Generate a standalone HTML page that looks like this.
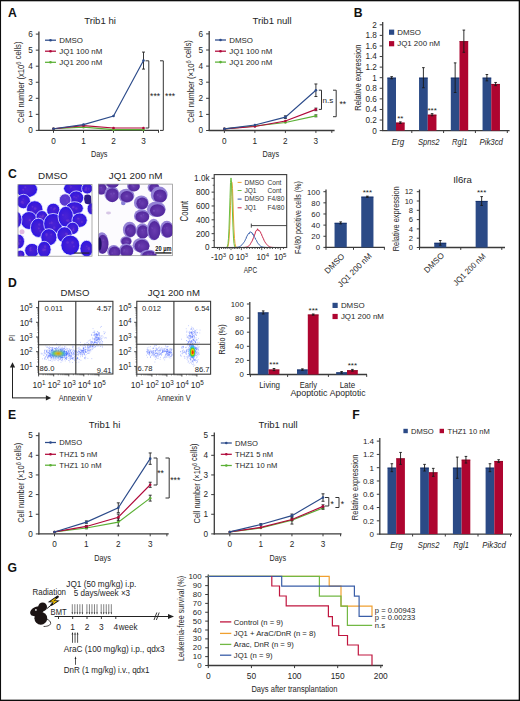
<!DOCTYPE html><html><head><meta charset="utf-8"><style>html,body{margin:0;padding:0;background:#fff;}body{width:520px;height:701px;overflow:hidden;font-family:"Liberation Sans",sans-serif;}svg{display:block;}</style></head><body><svg width="520" height="701" viewBox="0 0 520 701" font-family='"Liberation Sans", sans-serif' shape-rendering="geometricPrecision"><rect x="0" y="0" width="520" height="1.3" fill="#0d0d0d" />
<rect x="0" y="0" width="1.05" height="701" fill="#0d0d0d" />
<rect x="518.7" y="0" width="1.3" height="701" fill="#0d0d0d" />
<rect x="0" y="699.65" width="520" height="1.35" fill="#0d0d0d" />
<text x="7.95" y="16.79" font-size="12.2" fill="#111" font-weight="bold" >A</text>
<line x1="38.9" y1="31.5" x2="38.9" y2="130.9" stroke="#3a3a3a" stroke-width="1.3" />
<line x1="38.3" y1="130.4" x2="159" y2="130.4" stroke="#3a3a3a" stroke-width="1.3" />
<line x1="35.8" y1="130.4" x2="38.9" y2="130.4" stroke="#3a3a3a" stroke-width="1" />
<text x="32.7" y="133.05" font-size="8.2" fill="#262626" text-anchor="end" >0</text>
<line x1="35.8" y1="114.35" x2="38.9" y2="114.35" stroke="#3a3a3a" stroke-width="1" />
<text x="32.7" y="117" font-size="8.2" fill="#262626" text-anchor="end" >1</text>
<line x1="35.8" y1="98.3" x2="38.9" y2="98.3" stroke="#3a3a3a" stroke-width="1" />
<text x="32.7" y="100.95" font-size="8.2" fill="#262626" text-anchor="end" >2</text>
<line x1="35.8" y1="82.25" x2="38.9" y2="82.25" stroke="#3a3a3a" stroke-width="1" />
<text x="32.7" y="84.9" font-size="8.2" fill="#262626" text-anchor="end" >3</text>
<line x1="35.8" y1="66.2" x2="38.9" y2="66.2" stroke="#3a3a3a" stroke-width="1" />
<text x="32.7" y="68.85" font-size="8.2" fill="#262626" text-anchor="end" >4</text>
<line x1="35.8" y1="50.15" x2="38.9" y2="50.15" stroke="#3a3a3a" stroke-width="1" />
<text x="32.7" y="52.8" font-size="8.2" fill="#262626" text-anchor="end" >5</text>
<line x1="35.8" y1="34.1" x2="38.9" y2="34.1" stroke="#3a3a3a" stroke-width="1" />
<text x="32.7" y="36.75" font-size="8.2" fill="#262626" text-anchor="end" >6</text>
<line x1="53.5" y1="130.4" x2="53.5" y2="132.8" stroke="#3a3a3a" stroke-width="1" />
<text x="53.5" y="143.75" font-size="8.2" fill="#262626" text-anchor="middle" >0</text>
<line x1="83.5" y1="130.4" x2="83.5" y2="132.8" stroke="#3a3a3a" stroke-width="1" />
<text x="83.5" y="143.75" font-size="8.2" fill="#262626" text-anchor="middle" >1</text>
<line x1="113.5" y1="130.4" x2="113.5" y2="132.8" stroke="#3a3a3a" stroke-width="1" />
<text x="113.5" y="143.75" font-size="8.2" fill="#262626" text-anchor="middle" >2</text>
<line x1="143.5" y1="130.4" x2="143.5" y2="132.8" stroke="#3a3a3a" stroke-width="1" />
<text x="143.5" y="143.75" font-size="8.2" fill="#262626" text-anchor="middle" >3</text>
<line x1="158.5" y1="130.4" x2="158.5" y2="132.8" stroke="#3a3a3a" stroke-width="1" />
<text x="99.2" y="157.13" font-size="9.8" fill="#262626" text-anchor="middle" textLength="16.6" lengthAdjust="spacingAndGlyphs" >Days</text>
<text transform="translate(24 82.2) rotate(-90)" x="0" y="0" font-size="9.8" fill="#262626" text-anchor="middle" textLength="81.4" lengthAdjust="spacingAndGlyphs" >Cell number (x10<tspan dy="-2.9" font-size="0.74em">6</tspan> cells)</text>
<text x="100.1" y="24.46" font-size="9.6" fill="#262626" text-anchor="middle" >Trib1 hi</text>
<polyline points="53.5,128.8 83.5,127.19 113.5,129.6 143.5,129.6" fill="none" stroke="#5bb035" stroke-width="1.15" stroke-linejoin="miter" />
<circle cx="53.5" cy="128.8" r="1.3" fill="#5bb035" />
<circle cx="83.5" cy="127.19" r="1.3" fill="#5bb035" />
<circle cx="113.5" cy="129.6" r="1.3" fill="#5bb035" />
<circle cx="143.5" cy="129.6" r="1.3" fill="#5bb035" />
<polyline points="53.5,128.8 83.5,125.59 113.5,127.99 143.5,127.99" fill="none" stroke="#b0093a" stroke-width="1.15" stroke-linejoin="miter" />
<circle cx="53.5" cy="128.8" r="1.3" fill="#b0093a" />
<circle cx="83.5" cy="125.59" r="1.3" fill="#b0093a" />
<circle cx="113.5" cy="127.99" r="1.3" fill="#b0093a" />
<circle cx="143.5" cy="127.99" r="1.3" fill="#b0093a" />
<line x1="143.5" y1="52.08" x2="143.5" y2="69.09" stroke="#222" stroke-width="0.9" />
<line x1="142" y1="52.08" x2="145" y2="52.08" stroke="#222" stroke-width="0.9" />
<line x1="142" y1="69.09" x2="145" y2="69.09" stroke="#222" stroke-width="0.9" />
<polyline points="53.5,128.8 83.5,124.62 113.5,115.96 143.5,60.58" fill="none" stroke="#2c4b8a" stroke-width="1.15" stroke-linejoin="miter" />
<circle cx="53.5" cy="128.8" r="1.3" fill="#2c4b8a" />
<circle cx="83.5" cy="124.62" r="1.3" fill="#2c4b8a" />
<circle cx="113.5" cy="115.96" r="1.3" fill="#2c4b8a" />
<circle cx="143.5" cy="60.58" r="1.3" fill="#2c4b8a" />
<line x1="45" y1="40.2" x2="56" y2="40.2" stroke="#2c4b8a" stroke-width="1.25" />
<circle cx="50.5" cy="40.2" r="1.3" fill="#2c4b8a" />
<text x="59.3" y="43.04" font-size="7.9" fill="#262626" >DMSO</text>
<line x1="45" y1="51.2" x2="56" y2="51.2" stroke="#b0093a" stroke-width="1.25" />
<circle cx="50.5" cy="51.2" r="1.3" fill="#b0093a" />
<text x="59.3" y="54.04" font-size="7.9" fill="#262626" >JQ1 100 nM</text>
<line x1="45" y1="62.3" x2="56" y2="62.3" stroke="#5bb035" stroke-width="1.25" />
<circle cx="50.5" cy="62.3" r="1.3" fill="#5bb035" />
<text x="59.3" y="65.14" font-size="7.9" fill="#262626" >JQ1 200 nM</text>
<polyline points="145.5,60.8 148.8,60.8 148.8,128 145.5,128" fill="none" stroke="#333" stroke-width="1" stroke-linejoin="miter" />
<polyline points="160,60.8 163.3,60.8 163.3,130.4 160,130.4" fill="none" stroke="#333" stroke-width="1" stroke-linejoin="miter" />
<text x="155.1" y="99.1" font-size="8.6" fill="#222" text-anchor="middle" >***</text>
<text x="170.1" y="99.1" font-size="8.6" fill="#222" text-anchor="middle" >***</text>
<line x1="209.2" y1="31" x2="209.2" y2="131" stroke="#3a3a3a" stroke-width="1.3" />
<line x1="208.6" y1="130.5" x2="334.6" y2="130.5" stroke="#3a3a3a" stroke-width="1.3" />
<line x1="206.1" y1="130.5" x2="209.2" y2="130.5" stroke="#3a3a3a" stroke-width="1" />
<text x="203" y="133.15" font-size="8.2" fill="#262626" text-anchor="end" >0</text>
<line x1="206.1" y1="114.4" x2="209.2" y2="114.4" stroke="#3a3a3a" stroke-width="1" />
<text x="203" y="117.05" font-size="8.2" fill="#262626" text-anchor="end" >1</text>
<line x1="206.1" y1="98.3" x2="209.2" y2="98.3" stroke="#3a3a3a" stroke-width="1" />
<text x="203" y="100.95" font-size="8.2" fill="#262626" text-anchor="end" >2</text>
<line x1="206.1" y1="82.2" x2="209.2" y2="82.2" stroke="#3a3a3a" stroke-width="1" />
<text x="203" y="84.85" font-size="8.2" fill="#262626" text-anchor="end" >3</text>
<line x1="206.1" y1="66.1" x2="209.2" y2="66.1" stroke="#3a3a3a" stroke-width="1" />
<text x="203" y="68.75" font-size="8.2" fill="#262626" text-anchor="end" >4</text>
<line x1="206.1" y1="50" x2="209.2" y2="50" stroke="#3a3a3a" stroke-width="1" />
<text x="203" y="52.65" font-size="8.2" fill="#262626" text-anchor="end" >5</text>
<line x1="206.1" y1="33.9" x2="209.2" y2="33.9" stroke="#3a3a3a" stroke-width="1" />
<text x="203" y="36.55" font-size="8.2" fill="#262626" text-anchor="end" >6</text>
<line x1="224.4" y1="130.5" x2="224.4" y2="132.9" stroke="#3a3a3a" stroke-width="1" />
<text x="224.4" y="143.75" font-size="8.2" fill="#262626" text-anchor="middle" >0</text>
<line x1="254.9" y1="130.5" x2="254.9" y2="132.9" stroke="#3a3a3a" stroke-width="1" />
<text x="254.9" y="143.75" font-size="8.2" fill="#262626" text-anchor="middle" >1</text>
<line x1="285.4" y1="130.5" x2="285.4" y2="132.9" stroke="#3a3a3a" stroke-width="1" />
<text x="285.4" y="143.75" font-size="8.2" fill="#262626" text-anchor="middle" >2</text>
<line x1="315.9" y1="130.5" x2="315.9" y2="132.9" stroke="#3a3a3a" stroke-width="1" />
<text x="315.9" y="143.75" font-size="8.2" fill="#262626" text-anchor="middle" >3</text>
<line x1="331.8" y1="130.5" x2="331.8" y2="132.9" stroke="#3a3a3a" stroke-width="1" />
<text x="270.8" y="157.23" font-size="9.8" fill="#262626" text-anchor="middle" textLength="16.6" lengthAdjust="spacingAndGlyphs" >Days</text>
<text transform="translate(193.8 81.4) rotate(-90)" x="0" y="0" font-size="9.8" fill="#262626" text-anchor="middle" textLength="82.7" lengthAdjust="spacingAndGlyphs" >Cell number (×10<tspan dy="-2.9" font-size="0.74em">6</tspan> cells)</text>
<text x="252.5" y="24.46" font-size="9.6" fill="#262626" >Trib1 null</text>
<line x1="315.9" y1="114.88" x2="315.9" y2="116.81" stroke="#222" stroke-width="0.9" />
<line x1="314.4" y1="114.88" x2="317.4" y2="114.88" stroke="#222" stroke-width="0.9" />
<line x1="314.4" y1="116.81" x2="317.4" y2="116.81" stroke="#222" stroke-width="0.9" />
<polyline points="224.4,128.89 254.9,125.99 285.4,122.45 315.9,115.85" fill="none" stroke="#5bb035" stroke-width="1.15" stroke-linejoin="miter" />
<circle cx="224.4" cy="128.89" r="1.3" fill="#5bb035" />
<circle cx="254.9" cy="125.99" r="1.3" fill="#5bb035" />
<circle cx="285.4" cy="122.45" r="1.3" fill="#5bb035" />
<circle cx="315.9" cy="115.85" r="1.3" fill="#5bb035" />
<line x1="315.9" y1="108.12" x2="315.9" y2="110.7" stroke="#222" stroke-width="0.9" />
<line x1="314.4" y1="108.12" x2="317.4" y2="108.12" stroke="#222" stroke-width="0.9" />
<line x1="314.4" y1="110.7" x2="317.4" y2="110.7" stroke="#222" stroke-width="0.9" />
<polyline points="224.4,128.89 254.9,126.47 285.4,121 315.9,109.41" fill="none" stroke="#b0093a" stroke-width="1.15" stroke-linejoin="miter" />
<circle cx="224.4" cy="128.89" r="1.3" fill="#b0093a" />
<circle cx="254.9" cy="126.47" r="1.3" fill="#b0093a" />
<circle cx="285.4" cy="121" r="1.3" fill="#b0093a" />
<circle cx="315.9" cy="109.41" r="1.3" fill="#b0093a" />
<line x1="315.9" y1="83.97" x2="315.9" y2="96.53" stroke="#222" stroke-width="0.9" />
<line x1="314.4" y1="83.97" x2="317.4" y2="83.97" stroke="#222" stroke-width="0.9" />
<line x1="314.4" y1="96.53" x2="317.4" y2="96.53" stroke="#222" stroke-width="0.9" />
<line x1="285.4" y1="115.85" x2="285.4" y2="118.42" stroke="#222" stroke-width="0.9" />
<line x1="283.9" y1="115.85" x2="286.9" y2="115.85" stroke="#222" stroke-width="0.9" />
<line x1="283.9" y1="118.42" x2="286.9" y2="118.42" stroke="#222" stroke-width="0.9" />
<polyline points="224.4,128.89 254.9,125.03 285.4,117.14 315.9,90.25" fill="none" stroke="#2c4b8a" stroke-width="1.15" stroke-linejoin="miter" />
<circle cx="224.4" cy="128.89" r="1.3" fill="#2c4b8a" />
<circle cx="254.9" cy="125.03" r="1.3" fill="#2c4b8a" />
<circle cx="285.4" cy="117.14" r="1.3" fill="#2c4b8a" />
<circle cx="315.9" cy="90.25" r="1.3" fill="#2c4b8a" />
<line x1="215" y1="40" x2="226" y2="40" stroke="#2c4b8a" stroke-width="1.25" />
<circle cx="220.5" cy="40" r="1.3" fill="#2c4b8a" />
<text x="229.3" y="42.84" font-size="7.9" fill="#262626" >DMSO</text>
<line x1="215" y1="51.2" x2="226" y2="51.2" stroke="#b0093a" stroke-width="1.25" />
<circle cx="220.5" cy="51.2" r="1.3" fill="#b0093a" />
<text x="229.3" y="54.04" font-size="7.9" fill="#262626" >JQ1 100 nM</text>
<line x1="215" y1="62.1" x2="226" y2="62.1" stroke="#5bb035" stroke-width="1.25" />
<circle cx="220.5" cy="62.1" r="1.3" fill="#5bb035" />
<text x="229.3" y="64.94" font-size="7.9" fill="#262626" >JQ1 200 nM</text>
<polyline points="318.8,90.2 321.5,90.2 321.5,109.4 318.8,109.4" fill="none" stroke="#333" stroke-width="1" stroke-linejoin="miter" />
<polyline points="333,90.2 336.2,90.2 336.2,116.7 333,116.7" fill="none" stroke="#333" stroke-width="1" stroke-linejoin="miter" />
<text x="327.8" y="103.08" font-size="8" fill="#262626" text-anchor="middle" >n.s</text>
<text x="342.8" y="106.7" font-size="8.6" fill="#222" text-anchor="middle" >**</text>
<text x="353.75" y="16.79" font-size="12.2" fill="#111" font-weight="bold" >B</text>
<line x1="382.7" y1="22" x2="382.7" y2="131.1" stroke="#3a3a3a" stroke-width="1.3" />
<line x1="382.1" y1="130.6" x2="509.6" y2="130.6" stroke="#3a3a3a" stroke-width="1.3" />
<line x1="379.7" y1="130.6" x2="382.7" y2="130.6" stroke="#3a3a3a" stroke-width="1" />
<text x="376.9" y="133.55" font-size="8.2" fill="#262626" text-anchor="end" >0</text>
<line x1="379.7" y1="120.02" x2="382.7" y2="120.02" stroke="#3a3a3a" stroke-width="1" />
<text x="376.9" y="122.97" font-size="8.2" fill="#262626" text-anchor="end" >0.2</text>
<line x1="379.7" y1="109.44" x2="382.7" y2="109.44" stroke="#3a3a3a" stroke-width="1" />
<text x="376.9" y="112.39" font-size="8.2" fill="#262626" text-anchor="end" >0.4</text>
<line x1="379.7" y1="98.86" x2="382.7" y2="98.86" stroke="#3a3a3a" stroke-width="1" />
<text x="376.9" y="101.81" font-size="8.2" fill="#262626" text-anchor="end" >0.6</text>
<line x1="379.7" y1="88.28" x2="382.7" y2="88.28" stroke="#3a3a3a" stroke-width="1" />
<text x="376.9" y="91.23" font-size="8.2" fill="#262626" text-anchor="end" >0.8</text>
<line x1="379.7" y1="77.7" x2="382.7" y2="77.7" stroke="#3a3a3a" stroke-width="1" />
<text x="376.9" y="80.65" font-size="8.2" fill="#262626" text-anchor="end" >1</text>
<line x1="379.7" y1="67.12" x2="382.7" y2="67.12" stroke="#3a3a3a" stroke-width="1" />
<text x="376.9" y="70.07" font-size="8.2" fill="#262626" text-anchor="end" >1.2</text>
<line x1="379.7" y1="56.54" x2="382.7" y2="56.54" stroke="#3a3a3a" stroke-width="1" />
<text x="376.9" y="59.49" font-size="8.2" fill="#262626" text-anchor="end" >1.4</text>
<line x1="379.7" y1="45.96" x2="382.7" y2="45.96" stroke="#3a3a3a" stroke-width="1" />
<text x="376.9" y="48.91" font-size="8.2" fill="#262626" text-anchor="end" >1.6</text>
<line x1="379.7" y1="35.38" x2="382.7" y2="35.38" stroke="#3a3a3a" stroke-width="1" />
<text x="376.9" y="38.33" font-size="8.2" fill="#262626" text-anchor="end" >1.8</text>
<line x1="379.7" y1="24.8" x2="382.7" y2="24.8" stroke="#3a3a3a" stroke-width="1" />
<text x="376.9" y="27.75" font-size="8.2" fill="#262626" text-anchor="end" >2</text>
<line x1="411.8" y1="130.6" x2="411.8" y2="133" stroke="#3a3a3a" stroke-width="1" />
<line x1="443.6" y1="130.6" x2="443.6" y2="133" stroke="#3a3a3a" stroke-width="1" />
<line x1="475.4" y1="130.6" x2="475.4" y2="133" stroke="#3a3a3a" stroke-width="1" />
<line x1="507.3" y1="130.6" x2="507.3" y2="133" stroke="#3a3a3a" stroke-width="1" />
<rect x="387.3" y="77.7" width="8.7" height="52.9" fill="#2b4a86" />
<line x1="387.3" y1="78.05" x2="396" y2="78.05" stroke="#0c2560" stroke-width="0.7" />
<line x1="391.65" y1="76.64" x2="391.65" y2="78.76" stroke="#1a1a1a" stroke-width="0.9" />
<line x1="390.35" y1="76.64" x2="392.95" y2="76.64" stroke="#1a1a1a" stroke-width="0.9" />
<line x1="390.35" y1="78.76" x2="392.95" y2="78.76" stroke="#1a1a1a" stroke-width="0.9" />
<rect x="396" y="122.66" width="8.7" height="7.93" fill="#ae0530" />
<line x1="396" y1="123.01" x2="404.7" y2="123.01" stroke="#80001c" stroke-width="0.7" />
<line x1="400.35" y1="121.87" x2="400.35" y2="123.46" stroke="#1a1a1a" stroke-width="0.9" />
<line x1="399.05" y1="121.87" x2="401.65" y2="121.87" stroke="#1a1a1a" stroke-width="0.9" />
<line x1="399.05" y1="123.46" x2="401.65" y2="123.46" stroke="#1a1a1a" stroke-width="0.9" />
<text x="400.35" y="120.75" font-size="8" fill="#222" text-anchor="middle" >**</text>
<rect x="419.05" y="77.7" width="8.7" height="52.9" fill="#2b4a86" />
<line x1="419.05" y1="78.05" x2="427.75" y2="78.05" stroke="#0c2560" stroke-width="0.7" />
<line x1="423.4" y1="67.65" x2="423.4" y2="87.75" stroke="#1a1a1a" stroke-width="0.9" />
<line x1="422.1" y1="67.65" x2="424.7" y2="67.65" stroke="#1a1a1a" stroke-width="0.9" />
<line x1="422.1" y1="87.75" x2="424.7" y2="87.75" stroke="#1a1a1a" stroke-width="0.9" />
<rect x="427.75" y="114.73" width="8.7" height="15.87" fill="#ae0530" />
<line x1="427.75" y1="115.08" x2="436.45" y2="115.08" stroke="#80001c" stroke-width="0.7" />
<line x1="432.1" y1="113.67" x2="432.1" y2="115.79" stroke="#1a1a1a" stroke-width="0.9" />
<line x1="430.8" y1="113.67" x2="433.4" y2="113.67" stroke="#1a1a1a" stroke-width="0.9" />
<line x1="430.8" y1="115.79" x2="433.4" y2="115.79" stroke="#1a1a1a" stroke-width="0.9" />
<text x="432.1" y="112.55" font-size="8" fill="#222" text-anchor="middle" >***</text>
<rect x="450.8" y="77.7" width="8.7" height="52.9" fill="#2b4a86" />
<line x1="450.8" y1="78.05" x2="459.5" y2="78.05" stroke="#0c2560" stroke-width="0.7" />
<line x1="455.15" y1="62.89" x2="455.15" y2="92.51" stroke="#1a1a1a" stroke-width="0.9" />
<line x1="453.85" y1="62.89" x2="456.45" y2="62.89" stroke="#1a1a1a" stroke-width="0.9" />
<line x1="453.85" y1="92.51" x2="456.45" y2="92.51" stroke="#1a1a1a" stroke-width="0.9" />
<rect x="459.5" y="41.2" width="8.7" height="89.4" fill="#ae0530" />
<line x1="459.5" y1="41.55" x2="468.2" y2="41.55" stroke="#80001c" stroke-width="0.7" />
<line x1="463.85" y1="30.09" x2="463.85" y2="52.31" stroke="#1a1a1a" stroke-width="0.9" />
<line x1="462.55" y1="30.09" x2="465.15" y2="30.09" stroke="#1a1a1a" stroke-width="0.9" />
<line x1="462.55" y1="52.31" x2="465.15" y2="52.31" stroke="#1a1a1a" stroke-width="0.9" />
<rect x="482.55" y="77.7" width="8.7" height="52.9" fill="#2b4a86" />
<line x1="482.55" y1="78.05" x2="491.25" y2="78.05" stroke="#0c2560" stroke-width="0.7" />
<line x1="486.9" y1="74.53" x2="486.9" y2="80.87" stroke="#1a1a1a" stroke-width="0.9" />
<line x1="485.6" y1="74.53" x2="488.2" y2="74.53" stroke="#1a1a1a" stroke-width="0.9" />
<line x1="485.6" y1="80.87" x2="488.2" y2="80.87" stroke="#1a1a1a" stroke-width="0.9" />
<rect x="491.25" y="84.05" width="8.7" height="46.55" fill="#ae0530" />
<line x1="491.25" y1="84.4" x2="499.95" y2="84.4" stroke="#80001c" stroke-width="0.7" />
<line x1="495.6" y1="82.46" x2="495.6" y2="85.63" stroke="#1a1a1a" stroke-width="0.9" />
<line x1="494.3" y1="82.46" x2="496.9" y2="82.46" stroke="#1a1a1a" stroke-width="0.9" />
<line x1="494.3" y1="85.63" x2="496.9" y2="85.63" stroke="#1a1a1a" stroke-width="0.9" />
<text transform="translate(360.8 77.7) rotate(-90)" x="0" y="0" font-size="9.6" fill="#262626" text-anchor="middle" textLength="66.2" lengthAdjust="spacingAndGlyphs" >Relative expression</text>
<text x="397.9" y="144.51" font-size="9.2" fill="#262626" text-anchor="middle" font-style="italic" textLength="12.5" lengthAdjust="spacingAndGlyphs" >Erg</text>
<text x="428.7" y="144.51" font-size="9.2" fill="#262626" text-anchor="middle" font-style="italic" textLength="21.6" lengthAdjust="spacingAndGlyphs" >Spns2</text>
<text x="459.8" y="144.51" font-size="9.2" fill="#262626" text-anchor="middle" font-style="italic" textLength="15.5" lengthAdjust="spacingAndGlyphs" >Rgl1</text>
<text x="491.2" y="144.51" font-size="9.2" fill="#262626" text-anchor="middle" font-style="italic" textLength="23.5" lengthAdjust="spacingAndGlyphs" >Pik3cd</text>
<rect x="389" y="29.6" width="5.2" height="5.2" fill="#2b4a86" />
<rect x="389" y="41.1" width="5.2" height="5.2" fill="#ae0530" />
<text x="397.2" y="34.54" font-size="7.9" fill="#262626" >DMSO</text>
<text x="397.2" y="46.14" font-size="7.9" fill="#262626" >JQ1 200 nM</text>
<text x="7.95" y="178.19" font-size="12.2" fill="#111" font-weight="bold" >C</text>
<text x="52.9" y="178.96" font-size="9.9" fill="#262626" text-anchor="middle" >DMSO</text>
<text x="135.6" y="178.96" font-size="9.9" fill="#262626" text-anchor="middle" >JQ1 200 nM</text>
<defs><clipPath id="c1"><rect x="17.8" y="184.3" width="74.3" height="72"/></clipPath><clipPath id="c2"><rect x="98.3" y="183.9" width="74.2" height="72"/></clipPath><clipPath id="d1"><rect x="38.6" y="301.3" width="74.3" height="72.3"/></clipPath><clipPath id="d2"><rect x="136.8" y="301.3" width="74" height="72.5"/></clipPath><radialGradient id="cellA" cx="0.5" cy="0.5" r="0.5"><stop offset="0" stop-color="#4a22d4"/><stop offset="0.7" stop-color="#3a1ad8"/><stop offset="1" stop-color="#2414ee"/></radialGradient><radialGradient id="nucB" cx="0.5" cy="0.5" r="0.5"><stop offset="0" stop-color="#6a3cb0"/><stop offset="1" stop-color="#52289c"/></radialGradient><filter id="bl" x="-50%" y="-50%" width="200%" height="200%"><feGaussianBlur stdDeviation="0.9"/></filter><filter id="bl2" x="-50%" y="-50%" width="200%" height="200%"><feGaussianBlur stdDeviation="0.45"/></filter></defs>
<g clip-path="url(#c1)"><rect x="17.8" y="184.3" width="74.3" height="72" fill="#fdfdff"/>
<ellipse cx="26.8" cy="189.5" rx="10.73" ry="8.2" fill="url(#cellA)" stroke="#f4f4ff" stroke-width="0.75"/>
<circle cx="25.33" cy="187.3" r="1.16" fill="#7a40d0" opacity="0.45"/>
<circle cx="23.22" cy="189.73" r="0.96" fill="#7a40d0" opacity="0.45"/>
<circle cx="23.1" cy="189.55" r="0.73" fill="#7a40d0" opacity="0.45"/>
<ellipse cx="23.5" cy="201.5" rx="6.99" ry="7.21" fill="url(#cellA)" stroke="#f4f4ff" stroke-width="0.75"/>
<circle cx="23.15" cy="199.14" r="0.76" fill="#7a40d0" opacity="0.45"/>
<circle cx="23.1" cy="203.29" r="0.79" fill="#7a40d0" opacity="0.45"/>
<circle cx="22.03" cy="202.2" r="1.36" fill="#7a40d0" opacity="0.45"/>
<ellipse cx="34.7" cy="209.2" rx="8.2" ry="8.42" fill="url(#cellA)" stroke="#f4f4ff" stroke-width="0.75"/>
<circle cx="35.19" cy="208.53" r="1.38" fill="#7a40d0" opacity="0.45"/>
<circle cx="31.84" cy="211.52" r="0.9" fill="#7a40d0" opacity="0.45"/>
<circle cx="32.46" cy="206.72" r="0.92" fill="#7a40d0" opacity="0.45"/>
<ellipse cx="53.3" cy="210" rx="6.66" ry="6.77" fill="url(#cellA)" stroke="#f4f4ff" stroke-width="0.75"/>
<circle cx="54.89" cy="208.36" r="1.11" fill="#7a40d0" opacity="0.45"/>
<circle cx="54" cy="209.35" r="1.08" fill="#7a40d0" opacity="0.45"/>
<circle cx="51.1" cy="207.74" r="0.84" fill="#7a40d0" opacity="0.45"/>
<ellipse cx="29" cy="220.5" rx="8.42" ry="8.97" fill="url(#cellA)" stroke="#f4f4ff" stroke-width="0.75"/>
<circle cx="30.17" cy="220" r="0.92" fill="#7a40d0" opacity="0.45"/>
<circle cx="29.55" cy="220.18" r="0.91" fill="#7a40d0" opacity="0.45"/>
<circle cx="30.91" cy="221.88" r="0.87" fill="#7a40d0" opacity="0.45"/>
<ellipse cx="42" cy="217" rx="6" ry="6.44" fill="url(#cellA)" stroke="#f4f4ff" stroke-width="0.75"/>
<circle cx="42.33" cy="217.12" r="1.31" fill="#7a40d0" opacity="0.45"/>
<circle cx="43.03" cy="215.97" r="1.39" fill="#7a40d0" opacity="0.45"/>
<circle cx="40.28" cy="216.6" r="1.23" fill="#7a40d0" opacity="0.45"/>
<ellipse cx="16.5" cy="219.6" rx="5.45" ry="8.2" fill="url(#cellA)" stroke="#f4f4ff" stroke-width="0.75"/>
<circle cx="15.09" cy="219.53" r="0.73" fill="#7a40d0" opacity="0.45"/>
<circle cx="17.18" cy="221.27" r="1.1" fill="#7a40d0" opacity="0.45"/>
<circle cx="18.02" cy="218.43" r="1.19" fill="#7a40d0" opacity="0.45"/>
<ellipse cx="38.3" cy="227.8" rx="7.87" ry="9.63" fill="url(#cellA)" stroke="#f4f4ff" stroke-width="0.75"/>
<circle cx="38.87" cy="228.4" r="1.02" fill="#7a40d0" opacity="0.45"/>
<circle cx="40.35" cy="231.12" r="1.03" fill="#7a40d0" opacity="0.45"/>
<circle cx="39.29" cy="224.52" r="1.19" fill="#7a40d0" opacity="0.45"/>
<ellipse cx="53.2" cy="223.7" rx="9.52" ry="10.29" fill="url(#cellA)" stroke="#f4f4ff" stroke-width="0.75"/>
<circle cx="54.29" cy="227.65" r="1.28" fill="#7a40d0" opacity="0.45"/>
<circle cx="51.61" cy="222.79" r="1.17" fill="#7a40d0" opacity="0.45"/>
<circle cx="49.68" cy="223.39" r="0.82" fill="#7a40d0" opacity="0.45"/>
<ellipse cx="48.9" cy="237.2" rx="8.09" ry="8.53" fill="url(#cellA)" stroke="#f4f4ff" stroke-width="0.75"/>
<circle cx="46.52" cy="234.3" r="1.24" fill="#7a40d0" opacity="0.45"/>
<circle cx="46.6" cy="235.54" r="0.97" fill="#7a40d0" opacity="0.45"/>
<circle cx="51.21" cy="234.44" r="1.01" fill="#7a40d0" opacity="0.45"/>
<ellipse cx="18.5" cy="241.5" rx="6" ry="7.32" fill="url(#cellA)" stroke="#f4f4ff" stroke-width="0.75"/>
<circle cx="18.72" cy="243.64" r="1.27" fill="#7a40d0" opacity="0.45"/>
<circle cx="20.14" cy="240.26" r="0.99" fill="#7a40d0" opacity="0.45"/>
<circle cx="17.86" cy="243.64" r="1.37" fill="#7a40d0" opacity="0.45"/>
<ellipse cx="32" cy="250.5" rx="7.32" ry="7.1" fill="url(#cellA)" stroke="#f4f4ff" stroke-width="0.75"/>
<circle cx="30.05" cy="248.75" r="0.86" fill="#7a40d0" opacity="0.45"/>
<circle cx="30.51" cy="250.42" r="1.11" fill="#7a40d0" opacity="0.45"/>
<circle cx="30.68" cy="247.82" r="0.99" fill="#7a40d0" opacity="0.45"/>
<ellipse cx="44.2" cy="249.5" rx="6.88" ry="8.2" fill="url(#cellA)" stroke="#f4f4ff" stroke-width="0.75"/>
<circle cx="43.52" cy="249.92" r="1.37" fill="#7a40d0" opacity="0.45"/>
<circle cx="45.19" cy="249.6" r="1.13" fill="#7a40d0" opacity="0.45"/>
<circle cx="45.12" cy="246.69" r="1.33" fill="#7a40d0" opacity="0.45"/>
<ellipse cx="20.5" cy="254.5" rx="4.35" ry="4.35" fill="url(#cellA)" stroke="#f4f4ff" stroke-width="0.75"/>
<circle cx="21.38" cy="255.68" r="1.26" fill="#7a40d0" opacity="0.45"/>
<circle cx="20.16" cy="254.18" r="0.77" fill="#7a40d0" opacity="0.45"/>
<circle cx="20.92" cy="253.12" r="0.75" fill="#7a40d0" opacity="0.45"/>
<ellipse cx="73.7" cy="188.5" rx="10.18" ry="6.55" fill="url(#cellA)" stroke="#f4f4ff" stroke-width="0.75"/>
<circle cx="71.39" cy="186.83" r="0.94" fill="#7a40d0" opacity="0.45"/>
<circle cx="70.16" cy="186.03" r="0.81" fill="#7a40d0" opacity="0.45"/>
<circle cx="70.54" cy="187.82" r="0.72" fill="#7a40d0" opacity="0.45"/>
<ellipse cx="87.2" cy="188.5" rx="5.56" ry="5.45" fill="url(#cellA)" stroke="#f4f4ff" stroke-width="0.75"/>
<circle cx="88.75" cy="188.96" r="0.8" fill="#7a40d0" opacity="0.45"/>
<circle cx="86.17" cy="187.88" r="0.95" fill="#7a40d0" opacity="0.45"/>
<circle cx="85.64" cy="189.91" r="1.4" fill="#7a40d0" opacity="0.45"/>
<ellipse cx="76.3" cy="197.8" rx="7.43" ry="6.88" fill="url(#cellA)" stroke="#f4f4ff" stroke-width="0.75"/>
<circle cx="76.11" cy="197.72" r="0.76" fill="#7a40d0" opacity="0.45"/>
<circle cx="74.04" cy="196.98" r="0.89" fill="#7a40d0" opacity="0.45"/>
<circle cx="78.16" cy="196.03" r="0.72" fill="#7a40d0" opacity="0.45"/>
<ellipse cx="65.1" cy="200" rx="5.89" ry="6.22" fill="#5a3ad0" stroke="#f4f4ff" stroke-width="0.75"/>
<circle cx="67.09" cy="200.13" r="0.8" fill="#7a40d0" opacity="0.45"/>
<circle cx="65.29" cy="197.79" r="1.07" fill="#7a40d0" opacity="0.45"/>
<circle cx="67.21" cy="201.7" r="1.19" fill="#7a40d0" opacity="0.45"/>
<ellipse cx="74.5" cy="208.3" rx="8.86" ry="6.55" fill="url(#cellA)" stroke="#f4f4ff" stroke-width="0.75"/>
<circle cx="72.87" cy="207.64" r="0.82" fill="#7a40d0" opacity="0.45"/>
<circle cx="76.36" cy="208.46" r="1.25" fill="#7a40d0" opacity="0.45"/>
<circle cx="73.33" cy="206.93" r="1.27" fill="#7a40d0" opacity="0.45"/>
<ellipse cx="91.5" cy="208.8" rx="4.35" ry="5.78" fill="url(#cellA)" stroke="#f4f4ff" stroke-width="0.75"/>
<circle cx="93.03" cy="210.32" r="1.26" fill="#7a40d0" opacity="0.45"/>
<circle cx="92.5" cy="209.84" r="0.86" fill="#7a40d0" opacity="0.45"/>
<circle cx="91.56" cy="208.18" r="0.72" fill="#7a40d0" opacity="0.45"/>
<ellipse cx="65.7" cy="216.7" rx="7.65" ry="10.4" fill="url(#cellA)" stroke="#f4f4ff" stroke-width="0.75"/>
<circle cx="62.94" cy="214.91" r="0.88" fill="#7a40d0" opacity="0.45"/>
<circle cx="66.83" cy="220.4" r="1.01" fill="#7a40d0" opacity="0.45"/>
<circle cx="68.26" cy="220.65" r="1.37" fill="#7a40d0" opacity="0.45"/>
<ellipse cx="79.6" cy="220.2" rx="7.65" ry="7.21" fill="url(#cellA)" stroke="#f4f4ff" stroke-width="0.75"/>
<circle cx="78.81" cy="218.67" r="0.86" fill="#7a40d0" opacity="0.45"/>
<circle cx="77.83" cy="218.58" r="1.14" fill="#7a40d0" opacity="0.45"/>
<circle cx="81.94" cy="222.07" r="1.04" fill="#7a40d0" opacity="0.45"/>
<ellipse cx="72.6" cy="228.4" rx="6.11" ry="6.22" fill="url(#cellA)" stroke="#f4f4ff" stroke-width="0.75"/>
<circle cx="73.3" cy="229.8" r="0.76" fill="#7a40d0" opacity="0.45"/>
<circle cx="73.34" cy="230.32" r="1.25" fill="#7a40d0" opacity="0.45"/>
<circle cx="73.75" cy="228.3" r="0.82" fill="#7a40d0" opacity="0.45"/>
<ellipse cx="64.5" cy="234.9" rx="7.65" ry="8.09" fill="url(#cellA)" stroke="#f4f4ff" stroke-width="0.75"/>
<circle cx="66.19" cy="233.86" r="1.26" fill="#7a40d0" opacity="0.45"/>
<circle cx="67.26" cy="234.25" r="0.98" fill="#7a40d0" opacity="0.45"/>
<circle cx="67.11" cy="236.3" r="0.82" fill="#7a40d0" opacity="0.45"/>
<ellipse cx="70.3" cy="245.2" rx="9.41" ry="10.07" fill="url(#cellA)" stroke="#f4f4ff" stroke-width="0.75"/>
<circle cx="67.58" cy="242.47" r="1.33" fill="#7a40d0" opacity="0.45"/>
<circle cx="72.53" cy="242.43" r="1.28" fill="#7a40d0" opacity="0.45"/>
<circle cx="73.8" cy="246.43" r="0.95" fill="#7a40d0" opacity="0.45"/>
<ellipse cx="86.6" cy="248.6" rx="6.66" ry="8.31" fill="url(#cellA)" stroke="#f4f4ff" stroke-width="0.75"/>
<circle cx="86.85" cy="246.24" r="0.71" fill="#7a40d0" opacity="0.45"/>
<circle cx="88.97" cy="249.56" r="1.07" fill="#7a40d0" opacity="0.45"/>
<circle cx="88.79" cy="248.18" r="1.31" fill="#7a40d0" opacity="0.45"/>
<path d="M84.5 195.5 Q88 193.5 91 196 L91.5 203.5 Q88 205 85 203.2 Q83.2 199.5 84.5 195.5Z" fill="#2c1888"/>
<circle cx="22.0" cy="231.8" r="2.5" fill="#d8a8d8" opacity="0.8"/>
<rect x="74.2" y="252.5" width="15.3" height="1.1" fill="#222"/>
</g>
<rect x="18" y="184.5" width="74" height="71.7" fill="none" stroke="#8a8a8a" stroke-width="0.7"/>
<g clip-path="url(#c2)"><rect x="98.3" y="183.9" width="74.2" height="72" fill="#fcfbfe"/>
<ellipse cx="123.3" cy="203" rx="2.3" ry="2.3" fill="#8a80d8"/>
<ellipse cx="101" cy="188.5" rx="5.68" ry="6.12" fill="#9482d6"/>
<ellipse cx="101.72" cy="189.09" rx="5" ry="5.39" fill="url(#nucB)"/>
<circle cx="100.01" cy="187.74" r="0.72" fill="#7a55c0" opacity="0.5"/>
<circle cx="101.34" cy="187.62" r="0.81" fill="#7a55c0" opacity="0.5"/>
<ellipse cx="111.8" cy="194" rx="7.44" ry="7.88" fill="#9482d6"/>
<ellipse cx="112.32" cy="195.2" rx="6.55" ry="6.93" fill="url(#nucB)"/>
<circle cx="111.04" cy="193.8" r="0.89" fill="#7a55c0" opacity="0.5"/>
<circle cx="113.91" cy="193.62" r="1.06" fill="#7a55c0" opacity="0.5"/>
<ellipse cx="112" cy="182.5" rx="7" ry="5.35" fill="#9482d6"/>
<ellipse cx="112.7" cy="183.16" rx="6.16" ry="4.71" fill="url(#nucB)"/>
<circle cx="112.12" cy="180.96" r="0.82" fill="#7a55c0" opacity="0.5"/>
<circle cx="110.45" cy="180.91" r="1" fill="#7a55c0" opacity="0.5"/>
<ellipse cx="126.3" cy="195.8" rx="8.1" ry="7" fill="#9482d6"/>
<ellipse cx="126.9" cy="196.63" rx="6.48" ry="5.6" fill="url(#nucB)"/>
<circle cx="127.58" cy="196.04" r="0.76" fill="#7a55c0" opacity="0.5"/>
<circle cx="126.4" cy="196.03" r="0.99" fill="#7a55c0" opacity="0.5"/>
<ellipse cx="133.5" cy="186" rx="6.45" ry="5.35" fill="#9482d6"/>
<ellipse cx="133.94" cy="186.67" rx="5.68" ry="4.71" fill="url(#nucB)"/>
<circle cx="132.36" cy="185.28" r="0.99" fill="#7a55c0" opacity="0.5"/>
<circle cx="133.53" cy="186.2" r="0.98" fill="#7a55c0" opacity="0.5"/>
<ellipse cx="153.5" cy="187.5" rx="5.9" ry="5.35" fill="#9482d6"/>
<ellipse cx="154.28" cy="188.12" rx="5.19" ry="4.71" fill="url(#nucB)"/>
<circle cx="153.96" cy="187.52" r="0.86" fill="#7a55c0" opacity="0.5"/>
<circle cx="154.3" cy="187.35" r="0.87" fill="#7a55c0" opacity="0.5"/>
<ellipse cx="159.2" cy="194.7" rx="8.43" ry="8.21" fill="#9482d6"/>
<ellipse cx="160.03" cy="195.98" rx="6.74" ry="6.57" fill="url(#nucB)"/>
<circle cx="160.38" cy="196.55" r="1.07" fill="#7a55c0" opacity="0.5"/>
<circle cx="157.78" cy="194.99" r="1.07" fill="#7a55c0" opacity="0.5"/>
<ellipse cx="141.3" cy="202.7" rx="7.33" ry="7.22" fill="#9482d6"/>
<ellipse cx="142.23" cy="203.36" rx="5.86" ry="5.78" fill="url(#nucB)"/>
<circle cx="139.36" cy="202.45" r="0.64" fill="#7a55c0" opacity="0.5"/>
<circle cx="139.97" cy="200.85" r="0.93" fill="#7a55c0" opacity="0.5"/>
<ellipse cx="156.3" cy="209.3" rx="9.42" ry="7.77" fill="#9482d6"/>
<ellipse cx="157.46" cy="210.48" rx="7.54" ry="6.22" fill="url(#nucB)"/>
<circle cx="154.02" cy="210.31" r="0.93" fill="#7a55c0" opacity="0.5"/>
<circle cx="153.95" cy="211.08" r="1.08" fill="#7a55c0" opacity="0.5"/>
<ellipse cx="141.7" cy="215.9" rx="7.77" ry="6.56" fill="#9482d6"/>
<ellipse cx="142.3" cy="216.92" rx="6.84" ry="5.77" fill="url(#nucB)"/>
<circle cx="141.15" cy="215.85" r="1.09" fill="#7a55c0" opacity="0.5"/>
<circle cx="143.51" cy="214.57" r="0.82" fill="#7a55c0" opacity="0.5"/>
<ellipse cx="129.7" cy="229.7" rx="6.78" ry="7.99" fill="#9482d6"/>
<ellipse cx="130.39" cy="230.56" rx="5.42" ry="6.39" fill="url(#nucB)"/>
<circle cx="128.26" cy="228.83" r="0.96" fill="#7a55c0" opacity="0.5"/>
<circle cx="127.42" cy="229.96" r="0.82" fill="#7a55c0" opacity="0.5"/>
<ellipse cx="126" cy="241" rx="5.68" ry="4.8" fill="#9482d6"/>
<ellipse cx="126.35" cy="241.51" rx="5" ry="4.22" fill="url(#nucB)"/>
<circle cx="126.49" cy="241.04" r="0.63" fill="#7a55c0" opacity="0.5"/>
<circle cx="127.93" cy="241.83" r="1.09" fill="#7a55c0" opacity="0.5"/>
<ellipse cx="126.2" cy="250.5" rx="7.22" ry="7" fill="#9482d6"/>
<ellipse cx="126.69" cy="251.21" rx="6.35" ry="6.16" fill="url(#nucB)"/>
<circle cx="123.87" cy="251.67" r="0.74" fill="#7a55c0" opacity="0.5"/>
<circle cx="124.33" cy="250.17" r="1.06" fill="#7a55c0" opacity="0.5"/>
<ellipse cx="113.8" cy="251.5" rx="6.56" ry="6.45" fill="#9482d6"/>
<ellipse cx="114.62" cy="252.15" rx="5.77" ry="5.68" fill="url(#nucB)"/>
<circle cx="112.19" cy="253.12" r="0.89" fill="#7a55c0" opacity="0.5"/>
<circle cx="114.72" cy="249.91" r="0.63" fill="#7a55c0" opacity="0.5"/>
<ellipse cx="102" cy="243" rx="6.45" ry="10.85" fill="#9482d6"/>
<ellipse cx="102.74" cy="244.24" rx="5.68" ry="9.55" fill="url(#nucB)"/>
<circle cx="100.07" cy="245.85" r="0.92" fill="#7a55c0" opacity="0.5"/>
<circle cx="103.36" cy="240.29" r="1.03" fill="#7a55c0" opacity="0.5"/>
<ellipse cx="142.4" cy="230.8" rx="6.56" ry="7.55" fill="#9482d6"/>
<ellipse cx="142.83" cy="231.93" rx="5.77" ry="6.64" fill="url(#nucB)"/>
<circle cx="142.19" cy="230.07" r="0.88" fill="#7a55c0" opacity="0.5"/>
<circle cx="144.36" cy="229.75" r="0.66" fill="#7a55c0" opacity="0.5"/>
<ellipse cx="153.7" cy="229.5" rx="6.78" ry="10.85" fill="#9482d6"/>
<ellipse cx="154.39" cy="230.57" rx="5.97" ry="9.55" fill="url(#nucB)"/>
<circle cx="151.85" cy="227.3" r="0.63" fill="#7a55c0" opacity="0.5"/>
<circle cx="152.28" cy="228.28" r="0.75" fill="#7a55c0" opacity="0.5"/>
<ellipse cx="166.8" cy="229.3" rx="6.78" ry="8.43" fill="#9482d6"/>
<ellipse cx="167.62" cy="230.17" rx="5.97" ry="7.42" fill="url(#nucB)"/>
<circle cx="166.8" cy="227.67" r="0.77" fill="#7a55c0" opacity="0.5"/>
<circle cx="164.51" cy="228.04" r="0.61" fill="#7a55c0" opacity="0.5"/>
<ellipse cx="141" cy="245.3" rx="8.43" ry="7.33" fill="#9482d6"/>
<ellipse cx="142" cy="246.21" rx="7.42" ry="6.45" fill="url(#nucB)"/>
<circle cx="139.17" cy="245.19" r="1.07" fill="#7a55c0" opacity="0.5"/>
<circle cx="138.68" cy="246.7" r="0.82" fill="#7a55c0" opacity="0.5"/>
<ellipse cx="148.5" cy="254.5" rx="8.1" ry="4.8" fill="#9482d6"/>
<ellipse cx="149.31" cy="255.2" rx="7.13" ry="4.22" fill="url(#nucB)"/>
<circle cx="147.89" cy="254.52" r="0.94" fill="#7a55c0" opacity="0.5"/>
<circle cx="151.24" cy="254.05" r="1.02" fill="#7a55c0" opacity="0.5"/>
<ellipse cx="99.6" cy="244" rx="2.0" ry="6.5" fill="#1c1060"/>
<ellipse cx="108.5" cy="213" rx="2.5" ry="1.4" fill="#c8b0dc" opacity="0.7"/>
<rect x="154.5" y="245.0" width="17.5" height="8.8" fill="#fff" opacity="0.8"/>
</g>
<rect x="98.5" y="184.1" width="73.9" height="71.6" fill="none" stroke="#8a8a8a" stroke-width="0.7"/>
<text x="163.4" y="250.8" font-size="6.4" fill="#111" text-anchor="middle" font-weight="bold" textLength="16.2" lengthAdjust="spacingAndGlyphs" >20 µm</text>
<rect x="155.3" y="252.3" width="16.2" height="1.3" fill="#111" />
<polyline points="215,247.5 215.5,247.5 216,247.5 216.5,247.5 217,247.5 217.5,247.5 218,247.5 218.5,247.5 219,247.5 219.5,247.5 220,247.5 220.5,247.5 221,247.5 221.5,247.5 222,247.5 222.5,247.5 223,247.5 223.5,247.5 224,247.5 224.5,247.5 225,247.5 225.5,247.5 226,247.5 226.5,247.5 227,247.5 227.5,247.5 228,247.5 228.5,247.5 229,247.5 229.5,247.5 230,247.5 230.5,247.5 231,247.5 231.5,247.5 232,247.5 232.5,247.5 233,247.5 233.5,247.5 234,247.5 234.5,247.5 235,247.5 235.5,247.5 236,247.5 236.5,247.5 237,247.5 237.5,247.5 238,247.5 238.5,247.5 239,247.5 239.5,247.5 240,247.5 240.5,247.5 241,247.5 241.5,247.49 242,247.49 242.5,247.48 243,247.47 243.5,247.45 244,247.43 244.5,247.4 245,247.35 245.5,247.28 246,247.2 246.5,247.09 247,246.95 247.5,246.75 248,246.51 248.5,246.08 249,245.76 249.5,245.29 250,244.74 250.5,243.73 251,242.85 251.5,242 252,241.23 252.5,240.16 253,238.93 253.5,237.49 254,236.62 254.5,234.97 255,234.06 255.5,231.72 256,230.66 256.5,230.65 257,230.68 257.5,228.78 258,230.05 258.5,230.06 259,231.1 259.5,230.8 260,231.29 260.5,232.07 261,233.56 261.5,234.09 262,235.96 262.5,236.7 263,238.05 263.5,238.82 264,240.24 264.5,241.24 265,241.97 265.5,242.87 266,243.47 266.5,244.2 267,244.74 267.5,245.3 268,245.74 268.5,246.09 269,246.47 269.5,246.71 270,246.85 270.5,247.06 271,247.15 271.5,247.25 272,247.33 272.5,247.37 273,247.41 273.5,247.44 274,247.46 274.5,247.47 275,247.48 275.5,247.49 276,247.49 276.5,247.49 277,247.5 277.5,247.5 278,247.5 278.5,247.5 279,247.5 279.5,247.5 280,247.5 280.5,247.5 281,247.5 281.5,247.5 282,247.5 282.5,247.5 283,247.5 283.5,247.5 284,247.5 284.5,247.5 285,247.5 285.5,247.5 286,247.5" fill="none" stroke="#c8254a" stroke-width="1" stroke-linejoin="miter" stroke-linejoin="round"/>
<polyline points="215,247.5 215.5,247.5 216,247.5 216.5,247.5 217,247.5 217.5,247.5 218,247.5 218.5,247.5 219,247.5 219.5,247.5 220,247.5 220.5,247.5 221,247.5 221.5,247.5 222,247.5 222.5,247.5 223,247.5 223.5,247.5 224,247.5 224.5,247.5 225,247.5 225.5,247.5 226,247.5 226.5,247.5 227,247.5 227.5,247.5 228,247.5 228.5,247.5 229,247.5 229.5,247.5 230,247.5 230.5,247.5 231,247.5 231.5,247.5 232,247.5 232.5,247.49 233,247.49 233.5,247.48 234,247.48 234.5,247.47 235,247.45 235.5,247.43 236,247.4 236.5,247.36 237,247.3 237.5,247.23 238,247.13 238.5,247 239,246.89 239.5,246.67 240,246.43 240.5,246.08 241,245.71 241.5,245.26 242,244.82 242.5,244.12 243,243.53 243.5,242.77 244,242.24 244.5,241.54 245,240.56 245.5,239.4 246,238.7 246.5,236.85 247,236.21 247.5,235.18 248,234.33 248.5,233.49 249,233.19 249.5,233.59 250,231.87 250.5,231.83 251,232.33 251.5,232.5 252,232.69 252.5,234.25 253,233.84 253.5,235.39 254,236.51 254.5,237.17 255,237.6 255.5,239.17 256,239.64 256.5,240.43 257,241.72 257.5,242.63 258,243.34 258.5,243.94 259,244.53 259.5,245.12 260,245.58 260.5,246.07 261,246.37 261.5,246.61 262,246.77 262.5,246.98 263,247.09 263.5,247.22 264,247.29 264.5,247.35 265,247.39 265.5,247.42 266,247.44 266.5,247.46 267,247.47 267.5,247.48 268,247.49 268.5,247.49 269,247.49 269.5,247.5 270,247.5 270.5,247.5 271,247.5 271.5,247.5 272,247.5 272.5,247.5 273,247.5 273.5,247.5 274,247.5 274.5,247.5 275,247.5 275.5,247.5 276,247.5 276.5,247.5 277,247.5 277.5,247.5 278,247.5 278.5,247.5 279,247.5 279.5,247.5 280,247.5 280.5,247.5 281,247.5 281.5,247.5 282,247.5 282.5,247.5 283,247.5 283.5,247.5 284,247.5 284.5,247.5 285,247.5 285.5,247.5 286,247.5" fill="none" stroke="#3158a8" stroke-width="1" stroke-linejoin="miter" stroke-linejoin="round"/>
<polyline points="215,247.5 215.5,247.5 216,247.5 216.5,247.5 217,247.5 217.5,247.5 218,247.5 218.5,247.5 219,247.5 219.5,247.5 220,247.5 220.5,247.5 221,247.5 221.5,247.5 222,247.5 222.5,247.5 223,247.5 223.5,247.5 224,247.5 224.5,247.5 225,247.5 225.5,247.5 226,247.49 226.5,247.47 227,247.38 227.5,247.08 228,246.23 228.5,244.13 229,239.83 229.5,231.93 230,220.23 230.5,205.77 231,192.62 231.5,181.67 232,182.58 232.5,188.31 233,201.97 233.5,218.02 234,229.92 234.5,238.39 235,243.42 235.5,245.95 236,246.98 236.5,247.35 237,247.46 237.5,247.49 238,247.5 238.5,247.5 239,247.5 239.5,247.5 240,247.5 240.5,247.5 241,247.5 241.5,247.5 242,247.5 242.5,247.5 243,247.5 243.5,247.5 244,247.5 244.5,247.5 245,247.5 245.5,247.5 246,247.5 246.5,247.5 247,247.5 247.5,247.5 248,247.5 248.5,247.5 249,247.5 249.5,247.5 250,247.5 250.5,247.5 251,247.5 251.5,247.5 252,247.5 252.5,247.5 253,247.5 253.5,247.5 254,247.5 254.5,247.5 255,247.5 255.5,247.5 256,247.5 256.5,247.5 257,247.5 257.5,247.5 258,247.5 258.5,247.5 259,247.5 259.5,247.5 260,247.5 260.5,247.5 261,247.5 261.5,247.5 262,247.5 262.5,247.5 263,247.5 263.5,247.5 264,247.5 264.5,247.5 265,247.5 265.5,247.5 266,247.5 266.5,247.5 267,247.5 267.5,247.5 268,247.5 268.5,247.5 269,247.5 269.5,247.5 270,247.5 270.5,247.5 271,247.5 271.5,247.5 272,247.5 272.5,247.5 273,247.5 273.5,247.5 274,247.5 274.5,247.5 275,247.5 275.5,247.5 276,247.5 276.5,247.5 277,247.5 277.5,247.5 278,247.5 278.5,247.5 279,247.5 279.5,247.5 280,247.5 280.5,247.5 281,247.5 281.5,247.5 282,247.5 282.5,247.5 283,247.5 283.5,247.5 284,247.5 284.5,247.5 285,247.5 285.5,247.5 286,247.5" fill="none" stroke="#f0a030" stroke-width="1" stroke-linejoin="miter" stroke-linejoin="round"/>
<polyline points="215,247.5 215.5,247.5 216,247.5 216.5,247.5 217,247.5 217.5,247.5 218,247.5 218.5,247.5 219,247.5 219.5,247.5 220,247.5 220.5,247.5 221,247.5 221.5,247.5 222,247.5 222.5,247.5 223,247.5 223.5,247.5 224,247.5 224.5,247.5 225,247.5 225.5,247.5 226,247.48 226.5,247.39 227,247.08 227.5,246.14 228,243.58 228.5,238.22 229,228.15 229.5,213.04 230,197.74 230.5,182.48 231,177.93 231.5,182.31 232,196.59 232.5,214.01 233,227.86 233.5,238.09 234,243.67 234.5,246.15 235,247.08 235.5,247.39 236,247.48 236.5,247.5 237,247.5 237.5,247.5 238,247.5 238.5,247.5 239,247.5 239.5,247.5 240,247.5 240.5,247.5 241,247.5 241.5,247.5 242,247.5 242.5,247.5 243,247.5 243.5,247.5 244,247.5 244.5,247.5 245,247.5 245.5,247.5 246,247.5 246.5,247.5 247,247.5 247.5,247.5 248,247.5 248.5,247.5 249,247.5 249.5,247.5 250,247.5 250.5,247.5 251,247.5 251.5,247.5 252,247.5 252.5,247.5 253,247.5 253.5,247.5 254,247.5 254.5,247.5 255,247.5 255.5,247.5 256,247.5 256.5,247.5 257,247.5 257.5,247.5 258,247.5 258.5,247.5 259,247.5 259.5,247.5 260,247.5 260.5,247.5 261,247.5 261.5,247.5 262,247.5 262.5,247.5 263,247.5 263.5,247.5 264,247.5 264.5,247.5 265,247.5 265.5,247.5 266,247.5 266.5,247.5 267,247.5 267.5,247.5 268,247.5 268.5,247.5 269,247.5 269.5,247.5 270,247.5 270.5,247.5 271,247.5 271.5,247.5 272,247.5 272.5,247.5 273,247.5 273.5,247.5 274,247.5 274.5,247.5 275,247.5 275.5,247.5 276,247.5 276.5,247.5 277,247.5 277.5,247.5 278,247.5 278.5,247.5 279,247.5 279.5,247.5 280,247.5 280.5,247.5 281,247.5 281.5,247.5 282,247.5 282.5,247.5 283,247.5 283.5,247.5 284,247.5 284.5,247.5 285,247.5 285.5,247.5 286,247.5" fill="none" stroke="#6cc040" stroke-width="1" stroke-linejoin="miter" stroke-linejoin="round"/>
<rect x="214.2" y="174.6" width="72.5" height="72.9" fill="none" stroke="#3a3a3a" stroke-width="1.1"/>
<line x1="211.6" y1="247.5" x2="214.2" y2="247.5" stroke="#3a3a3a" stroke-width="1" />
<text x="209.6" y="250.45" font-size="8.2" fill="#262626" text-anchor="end" >0</text>
<line x1="211.6" y1="233.66" x2="214.2" y2="233.66" stroke="#3a3a3a" stroke-width="1" />
<text x="209.6" y="236.61" font-size="8.2" fill="#262626" text-anchor="end" >200</text>
<line x1="211.6" y1="219.82" x2="214.2" y2="219.82" stroke="#3a3a3a" stroke-width="1" />
<text x="209.6" y="222.77" font-size="8.2" fill="#262626" text-anchor="end" >400</text>
<line x1="211.6" y1="205.98" x2="214.2" y2="205.98" stroke="#3a3a3a" stroke-width="1" />
<text x="209.6" y="208.93" font-size="8.2" fill="#262626" text-anchor="end" >600</text>
<line x1="211.6" y1="192.14" x2="214.2" y2="192.14" stroke="#3a3a3a" stroke-width="1" />
<text x="209.6" y="195.09" font-size="8.2" fill="#262626" text-anchor="end" >800</text>
<line x1="211.6" y1="178.3" x2="214.2" y2="178.3" stroke="#3a3a3a" stroke-width="1" />
<text x="209.6" y="181.25" font-size="8.2" fill="#262626" text-anchor="end" >1.0k</text>
<line x1="212.7" y1="240.58" x2="214.2" y2="240.58" stroke="#3a3a3a" stroke-width="0.8" />
<line x1="212.7" y1="226.74" x2="214.2" y2="226.74" stroke="#3a3a3a" stroke-width="0.8" />
<line x1="212.7" y1="212.9" x2="214.2" y2="212.9" stroke="#3a3a3a" stroke-width="0.8" />
<line x1="212.7" y1="199.06" x2="214.2" y2="199.06" stroke="#3a3a3a" stroke-width="0.8" />
<line x1="212.7" y1="185.22" x2="214.2" y2="185.22" stroke="#3a3a3a" stroke-width="0.8" />
<line x1="217.5" y1="247.5" x2="217.5" y2="249" stroke="#3a3a3a" stroke-width="0.8" />
<line x1="219.4" y1="247.5" x2="219.4" y2="250.1" stroke="#3a3a3a" stroke-width="0.8" />
<line x1="221.5" y1="247.5" x2="221.5" y2="249" stroke="#3a3a3a" stroke-width="0.8" />
<line x1="223.6" y1="247.5" x2="223.6" y2="249" stroke="#3a3a3a" stroke-width="0.8" />
<line x1="225.3" y1="247.5" x2="225.3" y2="249" stroke="#3a3a3a" stroke-width="0.8" />
<line x1="227.2" y1="247.5" x2="227.2" y2="249" stroke="#3a3a3a" stroke-width="0.8" />
<line x1="229.2" y1="247.5" x2="229.2" y2="249" stroke="#3a3a3a" stroke-width="0.8" />
<line x1="231" y1="247.5" x2="231" y2="250.1" stroke="#3a3a3a" stroke-width="0.8" />
<line x1="232.8" y1="247.5" x2="232.8" y2="249" stroke="#3a3a3a" stroke-width="0.8" />
<line x1="234.4" y1="247.5" x2="234.4" y2="249" stroke="#3a3a3a" stroke-width="0.8" />
<line x1="236" y1="247.5" x2="236" y2="249" stroke="#3a3a3a" stroke-width="0.8" />
<line x1="237.6" y1="247.5" x2="237.6" y2="249" stroke="#3a3a3a" stroke-width="0.8" />
<line x1="239.3" y1="247.5" x2="239.3" y2="249" stroke="#3a3a3a" stroke-width="0.8" />
<line x1="241.4" y1="247.5" x2="241.4" y2="250.1" stroke="#3a3a3a" stroke-width="0.8" />
<line x1="244" y1="247.5" x2="244" y2="249" stroke="#3a3a3a" stroke-width="0.8" />
<line x1="246.8" y1="247.5" x2="246.8" y2="249" stroke="#3a3a3a" stroke-width="0.8" />
<line x1="249.5" y1="247.5" x2="249.5" y2="249" stroke="#3a3a3a" stroke-width="0.8" />
<line x1="252.3" y1="247.5" x2="252.3" y2="249" stroke="#3a3a3a" stroke-width="0.8" />
<line x1="255" y1="247.5" x2="255" y2="249" stroke="#3a3a3a" stroke-width="0.8" />
<line x1="257.5" y1="247.5" x2="257.5" y2="249" stroke="#3a3a3a" stroke-width="0.8" />
<line x1="259.5" y1="247.5" x2="259.5" y2="249" stroke="#3a3a3a" stroke-width="0.8" />
<line x1="261.7" y1="247.5" x2="261.7" y2="250.1" stroke="#3a3a3a" stroke-width="0.8" />
<line x1="264.5" y1="247.5" x2="264.5" y2="249" stroke="#3a3a3a" stroke-width="0.8" />
<line x1="267.2" y1="247.5" x2="267.2" y2="249" stroke="#3a3a3a" stroke-width="0.8" />
<line x1="270" y1="247.5" x2="270" y2="249" stroke="#3a3a3a" stroke-width="0.8" />
<line x1="272.5" y1="247.5" x2="272.5" y2="249" stroke="#3a3a3a" stroke-width="0.8" />
<line x1="275.5" y1="247.5" x2="275.5" y2="249" stroke="#3a3a3a" stroke-width="0.8" />
<line x1="278" y1="247.5" x2="278" y2="249" stroke="#3a3a3a" stroke-width="0.8" />
<line x1="280.4" y1="247.5" x2="280.4" y2="250.1" stroke="#3a3a3a" stroke-width="0.8" />
<line x1="283.5" y1="247.5" x2="283.5" y2="249" stroke="#3a3a3a" stroke-width="0.8" />
<text x="218.6" y="260.25" font-size="8.2" fill="#262626" text-anchor="middle" >-10<tspan dy="-2.9" font-size="0.74em">3</tspan></text>
<text x="231.2" y="260.25" font-size="8.2" fill="#262626" text-anchor="middle" >0</text>
<text x="242" y="260.25" font-size="8.2" fill="#262626" text-anchor="middle" >10<tspan dy="-2.9" font-size="0.74em">3</tspan></text>
<text x="262.8" y="260.25" font-size="8.2" fill="#262626" text-anchor="middle" >10<tspan dy="-2.9" font-size="0.74em">4</tspan></text>
<text x="280.2" y="260.25" font-size="8.2" fill="#262626" text-anchor="middle" >10<tspan dy="-2.9" font-size="0.74em">5</tspan></text>
<text x="250.4" y="273.38" font-size="9.4" fill="#262626" text-anchor="middle" textLength="13.4" lengthAdjust="spacingAndGlyphs" >APC</text>
<text transform="translate(188.3 211.1) rotate(-90)" x="0" y="0" font-size="10" fill="#262626" text-anchor="middle" textLength="20.6" lengthAdjust="spacingAndGlyphs" >Count</text>
<line x1="251.3" y1="225.6" x2="286.7" y2="225.6" stroke="#333" stroke-width="0.9" />
<line x1="251.3" y1="223.6" x2="251.3" y2="227.6" stroke="#333" stroke-width="0.9" />
<line x1="237.6" y1="182.4" x2="241.6" y2="182.4" stroke="#f0a030" stroke-width="1" />
<text x="244.4" y="184.78" font-size="6.6" fill="#333" >DMSO</text>
<text x="267.5" y="184.78" font-size="6.6" fill="#333" >Cont</text>
<line x1="237.6" y1="190.5" x2="241.6" y2="190.5" stroke="#6cc040" stroke-width="1" />
<text x="244.4" y="192.88" font-size="6.6" fill="#333" >JQ1</text>
<text x="267.5" y="192.88" font-size="6.6" fill="#333" >Cont</text>
<line x1="237.6" y1="199.1" x2="241.6" y2="199.1" stroke="#3158a8" stroke-width="1" />
<text x="244.4" y="201.48" font-size="6.6" fill="#333" >DMSO</text>
<text x="267.5" y="201.48" font-size="6.6" fill="#333" >F4/80</text>
<line x1="237.6" y1="207.8" x2="241.6" y2="207.8" stroke="#c8254a" stroke-width="1" />
<text x="244.4" y="210.18" font-size="6.6" fill="#333" >JQ1</text>
<text x="267.5" y="210.18" font-size="6.6" fill="#333" >F4/80</text>
<line x1="326" y1="189.6" x2="326" y2="247.9" stroke="#3a3a3a" stroke-width="1.3" />
<line x1="325.4" y1="247.4" x2="384.8" y2="247.4" stroke="#3a3a3a" stroke-width="1.3" />
<line x1="323.4" y1="247.4" x2="326" y2="247.4" stroke="#3a3a3a" stroke-width="1" />
<text x="320.05" y="250.21" font-size="7.8" fill="#262626" text-anchor="end" >0</text>
<line x1="323.4" y1="236.26" x2="326" y2="236.26" stroke="#3a3a3a" stroke-width="1" />
<text x="320.05" y="239.07" font-size="7.8" fill="#262626" text-anchor="end" >20</text>
<line x1="323.4" y1="225.12" x2="326" y2="225.12" stroke="#3a3a3a" stroke-width="1" />
<text x="320.05" y="227.93" font-size="7.8" fill="#262626" text-anchor="end" >40</text>
<line x1="323.4" y1="213.98" x2="326" y2="213.98" stroke="#3a3a3a" stroke-width="1" />
<text x="320.05" y="216.79" font-size="7.8" fill="#262626" text-anchor="end" >60</text>
<line x1="323.4" y1="202.84" x2="326" y2="202.84" stroke="#3a3a3a" stroke-width="1" />
<text x="320.05" y="205.65" font-size="7.8" fill="#262626" text-anchor="end" >80</text>
<line x1="323.4" y1="191.7" x2="326" y2="191.7" stroke="#3a3a3a" stroke-width="1" />
<text x="320.05" y="194.51" font-size="7.8" fill="#262626" text-anchor="end" >100</text>
<line x1="326" y1="247.4" x2="326" y2="249.8" stroke="#3a3a3a" stroke-width="1" />
<line x1="353.5" y1="247.4" x2="353.5" y2="249.8" stroke="#3a3a3a" stroke-width="1" />
<line x1="384.4" y1="247.4" x2="384.4" y2="249.8" stroke="#3a3a3a" stroke-width="1" />
<rect x="334.55" y="222.89" width="12.2" height="24.51" fill="#2b4a86" />
<line x1="334.55" y1="223.24" x2="346.75" y2="223.24" stroke="#0c2560" stroke-width="0.7" />
<line x1="340.65" y1="221.89" x2="340.65" y2="223.89" stroke="#1a1a1a" stroke-width="0.9" />
<line x1="339.35" y1="221.89" x2="341.95" y2="221.89" stroke="#1a1a1a" stroke-width="0.9" />
<line x1="339.35" y1="223.89" x2="341.95" y2="223.89" stroke="#1a1a1a" stroke-width="0.9" />
<rect x="361.25" y="196.71" width="12.2" height="50.69" fill="#2b4a86" />
<line x1="361.25" y1="197.06" x2="373.45" y2="197.06" stroke="#0c2560" stroke-width="0.7" />
<line x1="367.35" y1="196.16" x2="367.35" y2="197.27" stroke="#1a1a1a" stroke-width="0.9" />
<line x1="366.05" y1="196.16" x2="368.65" y2="196.16" stroke="#1a1a1a" stroke-width="0.9" />
<line x1="366.05" y1="197.27" x2="368.65" y2="197.27" stroke="#1a1a1a" stroke-width="0.9" />
<text x="367.35" y="195.04" font-size="8" fill="#222" text-anchor="middle" >***</text>
<text transform="translate(301.1 217.6) rotate(-90)" x="0" y="0" font-size="9.6" fill="#262626" text-anchor="middle" textLength="72.8" lengthAdjust="spacingAndGlyphs" >F4/80 positive cells (%)</text>
<text x="343" y="257.75" font-size="8.2" fill="#262626" text-anchor="end" transform="rotate(-45 343 254.8)" >DMSO</text>
<text x="370.1" y="257.45" font-size="8.2" fill="#262626" text-anchor="end" textLength="44" lengthAdjust="spacingAndGlyphs" transform="rotate(-45 370.1 254.5)" >JQ1 200 nM</text>
<line x1="419.5" y1="189.5" x2="419.5" y2="248" stroke="#3a3a3a" stroke-width="1.3" />
<line x1="418.9" y1="247.5" x2="505" y2="247.5" stroke="#3a3a3a" stroke-width="1.3" />
<line x1="416.8" y1="247.5" x2="419.5" y2="247.5" stroke="#3a3a3a" stroke-width="1" />
<text x="413.1" y="250.24" font-size="7.6" fill="#262626" text-anchor="end" >0</text>
<line x1="416.8" y1="238.2" x2="419.5" y2="238.2" stroke="#3a3a3a" stroke-width="1" />
<text x="413.1" y="240.94" font-size="7.6" fill="#262626" text-anchor="end" >2</text>
<line x1="416.8" y1="228.9" x2="419.5" y2="228.9" stroke="#3a3a3a" stroke-width="1" />
<text x="413.1" y="231.64" font-size="7.6" fill="#262626" text-anchor="end" >4</text>
<line x1="416.8" y1="219.6" x2="419.5" y2="219.6" stroke="#3a3a3a" stroke-width="1" />
<text x="413.1" y="222.34" font-size="7.6" fill="#262626" text-anchor="end" >6</text>
<line x1="416.8" y1="210.3" x2="419.5" y2="210.3" stroke="#3a3a3a" stroke-width="1" />
<text x="413.1" y="213.04" font-size="7.6" fill="#262626" text-anchor="end" >8</text>
<line x1="416.8" y1="201" x2="419.5" y2="201" stroke="#3a3a3a" stroke-width="1" />
<text x="413.1" y="203.74" font-size="7.6" fill="#262626" text-anchor="end" >10</text>
<line x1="416.8" y1="191.7" x2="419.5" y2="191.7" stroke="#3a3a3a" stroke-width="1" />
<text x="413.1" y="194.44" font-size="7.6" fill="#262626" text-anchor="end" >12</text>
<line x1="419.5" y1="247.5" x2="419.5" y2="249.9" stroke="#3a3a3a" stroke-width="1" />
<line x1="460.75" y1="247.5" x2="460.75" y2="249.9" stroke="#3a3a3a" stroke-width="1" />
<line x1="501.8" y1="247.5" x2="501.8" y2="249.9" stroke="#3a3a3a" stroke-width="1" />
<rect x="434.25" y="242.85" width="12" height="4.65" fill="#2b4a86" />
<line x1="434.25" y1="243.2" x2="446.25" y2="243.2" stroke="#0c2560" stroke-width="0.7" />
<line x1="440.25" y1="240.53" x2="440.25" y2="245.18" stroke="#1a1a1a" stroke-width="0.9" />
<line x1="438.95" y1="240.53" x2="441.55" y2="240.53" stroke="#1a1a1a" stroke-width="0.9" />
<line x1="438.95" y1="245.18" x2="441.55" y2="245.18" stroke="#1a1a1a" stroke-width="0.9" />
<rect x="475.65" y="201" width="12" height="46.5" fill="#2b4a86" />
<line x1="475.65" y1="201.35" x2="487.65" y2="201.35" stroke="#0c2560" stroke-width="0.7" />
<line x1="481.65" y1="196.58" x2="481.65" y2="205.42" stroke="#1a1a1a" stroke-width="0.9" />
<line x1="480.35" y1="196.58" x2="482.95" y2="196.58" stroke="#1a1a1a" stroke-width="0.9" />
<line x1="480.35" y1="205.42" x2="482.95" y2="205.42" stroke="#1a1a1a" stroke-width="0.9" />
<text x="481.65" y="195.46" font-size="8" fill="#222" text-anchor="middle" >***</text>
<text x="462.5" y="183.46" font-size="9.6" fill="#262626" text-anchor="middle" >Il6ra</text>
<text transform="translate(399.1 218.8) rotate(-90)" x="0" y="0" font-size="9.6" fill="#262626" text-anchor="middle" textLength="65" lengthAdjust="spacingAndGlyphs" >Relative expression</text>
<text x="442.6" y="256.95" font-size="8.2" fill="#262626" text-anchor="end" transform="rotate(-45 442.6 254)" >DMSO</text>
<text x="484.1" y="257.45" font-size="8.2" fill="#262626" text-anchor="end" textLength="42" lengthAdjust="spacingAndGlyphs" transform="rotate(-45 484.1 254.5)" >JQ1 200 nM</text>
<text x="7.95" y="287.39" font-size="12.2" fill="#111" font-weight="bold" >D</text>
<text x="75" y="296.46" font-size="9.6" fill="#262626" text-anchor="middle" >DMSO</text>
<text x="173.8" y="296.46" font-size="9.6" fill="#262626" text-anchor="middle" >JQ1 200 nM</text>
<g clip-path="url(#d1)">
<path d="M53.25 354.22h0.6M62.28 355.49h0.6M53.48 358.41h0.6M69.33 353.55h0.6M60.25 352.3h0.6M67.69 351.53h0.6M62.88 352.16h0.6M53.99 355.51h0.6M67.17 353.47h0.6M54.1 355.77h0.6M58.18 354.37h0.6M68.4 356.67h0.6M55.12 359.89h0.6M58.52 355.7h0.6M54.29 353.37h0.6M47.13 358.5h0.6M67.38 350.1h0.6M48.72 348.96h0.6M66.14 352.21h0.6M58.11 352.62h0.6M57.71 350.45h0.6M58.66 349.47h0.6M58.04 354.36h0.6M61.54 352.85h0.6M52.63 353.95h0.6M55.35 357.88h0.6M63.49 353.18h0.6M55.44 351.53h0.6M52.41 352.51h0.6M60.42 354.94h0.6M62.2 359.38h0.6M53.92 353.54h0.6M76.67 348.27h0.6M55.11 353.97h0.6M59.5 354.64h0.6M56.95 354.53h0.6M58.84 355.66h0.6M46.2 351.02h0.6M58.49 350.61h0.6M51.71 355.26h0.6M54.28 355.28h0.6M63.35 354.36h0.6M61.8 353.21h0.6M49.34 353.42h0.6M61.45 352.02h0.6M57.85 355.6h0.6M52.79 355.29h0.6M70.61 351.95h0.6M59.45 353.08h0.6M68.51 354.39h0.6M64.34 351.57h0.6M58.4 353.47h0.6M46.96 357.53h0.6M64.35 348.6h0.6M63.34 353.13h0.6M61.41 354.53h0.6M48.76 352.91h0.6M68.2 351.89h0.6M51.85 349.69h0.6M50.56 354.44h0.6M69.5 354.7h0.6M60.1 359.75h0.6M55.12 351.61h0.6M61.93 355.04h0.6M51.9 350.22h0.6M60.39 354.19h0.6M50.01 352.93h0.6M54.97 354.79h0.6M57.74 353.26h0.6M56.2 356.45h0.6M67.54 352.47h0.6M64 351.38h0.6M58.97 355.6h0.6M68.34 352.43h0.6M58.02 354.05h0.6M48.76 353.54h0.6M54.11 354.54h0.6M51.16 347.96h0.6M58.75 354.23h0.6M54.93 355.99h0.6M56.72 351.8h0.6M61.61 349.11h0.6M54.1 353.44h0.6M64.02 353.04h0.6M60.51 351.66h0.6M60.46 358.16h0.6M54.04 360.13h0.6M54.32 353.55h0.6M59.63 356.37h0.6M50.46 347.62h0.6M62.44 355.73h0.6M62.55 360.87h0.6M59.83 354.21h0.6M64.54 354.53h0.6M69.31 350.03h0.6M56.06 343.85h0.6M63.78 352.46h0.6M64.51 359.53h0.6M58.46 352.79h0.6M55.25 351.15h0.6M54.4 355.29h0.6M58.74 353.69h0.6M57.37 356.06h0.6M61.71 353.1h0.6M62.82 353.08h0.6M51.01 357.57h0.6M61.52 350.82h0.6M65.51 354.47h0.6M48.33 358.01h0.6M60.67 356h0.6M59.79 353.08h0.6M48.44 356.22h0.6M58.7 352.7h0.6M60.78 353.72h0.6M62.89 352.46h0.6M58.26 347.51h0.6M55.75 355.39h0.6M67.19 352.48h0.6M57.71 357.93h0.6M56.38 355.56h0.6M69.41 353.61h0.6M66.47 351.51h0.6M59.85 353.28h0.6M59.25 356.66h0.6M74.03 351.64h0.6M54.76 354.89h0.6M51.64 354.89h0.6M62.22 352.72h0.6M61.95 349.16h0.6M63.44 349.17h0.6M53.97 351.94h0.6M55.89 355.9h0.6M59.03 352.39h0.6M62.03 357.93h0.6M58.54 354.52h0.6M66.56 354.25h0.6M50.15 360.47h0.6M72.85 347.94h0.6M58.25 354.67h0.6M64.78 355.37h0.6M56.73 350.55h0.6M59.17 356.39h0.6M51.42 350.62h0.6M58.34 348.08h0.6M56.81 352.28h0.6M61.43 351.54h0.6M52.77 352.4h0.6M58.18 351.64h0.6M58.58 355.6h0.6M66.2 358.27h0.6M53.41 352.32h0.6M42.36 358.82h0.6M53.79 353.41h0.6M61.9 349.7h0.6M61.52 353.43h0.6M46.63 354.32h0.6M66.26 348.27h0.6M63.75 354.09h0.6M61.59 354.74h0.6M66.98 352.87h0.6M64.18 352.35h0.6M63.23 351.22h0.6M57.8 358.35h0.6M61.4 353.06h0.6M51.06 351.29h0.6M59.76 356.13h0.6M61.27 354.97h0.6M58.23 357.29h0.6M55.96 351.96h0.6M64.27 353.68h0.6M56.69 351.89h0.6M56.83 355.25h0.6M60.8 350.11h0.6M61.27 354h0.6M52 355.66h0.6M56.68 352.56h0.6M63.67 357.2h0.6M54.02 354.73h0.6M52.81 359.98h0.6M55.29 356.85h0.6M54.29 355.77h0.6M72.92 346.39h0.6M55.68 354.9h0.6M57.9 351.63h0.6M72.49 353.72h0.6M47.81 355.89h0.6M47.31 356.72h0.6M54.74 353.91h0.6M66.7 353.83h0.6M49.46 348.75h0.6M66.19 355.57h0.6M53.2 355.91h0.6M61.73 355.31h0.6M43.82 352.65h0.6M64.35 355.55h0.6M64.23 346.62h0.6M59.6 354.88h0.6M75.09 350.83h0.6M56.36 353.6h0.6M64.26 352.26h0.6M65.96 351.29h0.6M60.23 352.02h0.6M59.53 351.57h0.6M48.12 356.56h0.6M60.47 351.94h0.6M59.81 356.27h0.6M52.15 353.19h0.6M62 354.97h0.6M56.32 347.6h0.6M66.58 354.42h0.6M58.58 352.72h0.6M60.21 352.31h0.6M51.84 351.43h0.6M54.62 351.79h0.6M50.97 355.28h0.6M49.99 355.35h0.6M51.9 354.49h0.6M67.43 354.07h0.6M53.75 353.64h0.6M59.46 348.65h0.6M54.55 353.96h0.6M55.45 353.72h0.6M63.27 355.65h0.6M64.39 355.15h0.6M56.63 353.45h0.6M56.74 352.62h0.6M57.33 348.67h0.6M56.33 353.43h0.6M52.17 353.43h0.6M61.85 353.04h0.6M72 346.2h0.6M57.16 348.39h0.6M64.87 360.93h0.6M42.24 353.86h0.6M61.87 352.65h0.6M62.09 347.22h0.6M64.04 354.54h0.6M58.65 351.85h0.6M62.65 352.14h0.6M59.95 352.07h0.6M43.9 353.41h0.6M59.81 355.61h0.6M52.81 353.41h0.6M62.51 353.91h0.6M66.58 359.08h0.6M52.59 348.12h0.6M64.07 357.78h0.6M64.49 355.78h0.6M54.48 351.5h0.6M64.27 350.95h0.6M46.71 350.71h0.6M74.7 358.89h0.6M54.04 351.46h0.6M60 351.4h0.6M67.02 353.28h0.6M51.44 357.16h0.6M54.71 354.12h0.6M58.42 352.62h0.6M60.61 351.56h0.6M46.51 347.32h0.6M50.27 351.38h0.6M58.35 353.65h0.6M62.11 353.84h0.6M53.34 351.52h0.6M44.73 353.03h0.6M61.65 354.98h0.6M57.71 353.01h0.6M64.59 353.54h0.6M63.3 355.13h0.6M59.89 357.16h0.6M54.78 352.5h0.6M53.25 351.27h0.6M68.61 358.43h0.6M58.65 355.09h0.6M66.14 355.76h0.6M66.33 349.96h0.6M54.34 354.77h0.6M67.83 353.79h0.6M52.92 352.51h0.6M54.21 351.1h0.6M68.26 351.75h0.6M58.63 359.55h0.6M66.2 354.44h0.6M54.52 354.65h0.6M69.04 355.24h0.6M66.7 353.77h0.6M61.86 352.94h0.6M61.27 357.14h0.6M49.2 353.32h0.6M60.06 351.9h0.6M56.5 355.7h0.6M71.51 355.26h0.6M60.62 349.16h0.6M71.03 353.72h0.6M58.28 350.37h0.6M58.13 350.43h0.6M58.96 354.81h0.6M58.7 354.28h0.6M52.96 357.5h0.6M54.25 348.41h0.6M57.28 351.36h0.6M51.94 352.51h0.6M60.39 350.19h0.6M57.61 357.49h0.6M62.94 353.07h0.6M59.33 353.16h0.6M58.19 355.55h0.6M57.9 346.77h0.6M58.36 351.01h0.6M62.73 351.79h0.6M59.46 359.6h0.6M51.7 350.35h0.6M49.33 346.79h0.6M46.29 354.52h0.6M54.35 348.27h0.6M48.86 355.23h0.6M53.46 352.47h0.6M60.65 357.3h0.6M71.12 356.39h0.6M59.43 354.02h0.6M70.21 357.5h0.6M56.48 354.78h0.6M60.37 353.65h0.6M55.25 349.79h0.6M55.03 349.18h0.6M66.45 355h0.6M50.66 357.41h0.6M64.3 348.16h0.6M70.47 355.77h0.6M71.92 350.05h0.6M61.95 354.68h0.6M59.81 353.98h0.6M65.35 349.32h0.6M50.43 349.6h0.6M54.88 351.8h0.6M60.89 354.25h0.6M58.7 351.61h0.6M55.63 356.17h0.6M63.46 353.78h0.6M56.4 357.85h0.6M54.64 355.32h0.6M66 352.76h0.6M63.87 350.38h0.6M65.08 354.06h0.6M48.19 355.37h0.6M52.7 357.09h0.6M54.09 353.04h0.6M60.34 352.57h0.6M60.19 351.95h0.6M62.87 353.52h0.6M59.87 345.79h0.6M66.05 353.59h0.6M46.91 353.77h0.6M61.54 356.5h0.6M51.46 357.83h0.6M57.46 360.21h0.6M57.55 355.4h0.6M56.12 350.38h0.6M65.63 356.04h0.6M68.5 355.9h0.6M54.77 348.85h0.6M54.27 351.61h0.6M53.2 355.13h0.6M60.63 352.74h0.6M59.62 353.09h0.6M59.88 355.61h0.6M64.74 351.58h0.6M48.71 357.5h0.6M59.24 356.6h0.6M47.82 352.58h0.6M58.68 349.46h0.6M55.15 355.53h0.6M65.51 357.96h0.6M52.89 349.58h0.6M61.88 356.13h0.6M59.75 349.86h0.6M63.58 355.72h0.6M62.1 352.14h0.6M60.48 355.71h0.6M54.87 348.34h0.6M60.64 354.85h0.6M58.59 355.99h0.6M54.69 353.27h0.6M56.52 355.1h0.6M68.87 352.8h0.6M71.86 357.78h0.6M63.64 355.14h0.6M70.01 352.99h0.6M57.77 350.52h0.6M61.57 357.27h0.6M61.96 354.68h0.6M57.2 353.97h0.6M49.24 356.44h0.6M55.84 350.41h0.6M53.62 351.19h0.6M64.06 356.46h0.6M49.67 356.09h0.6M64.27 351.88h0.6M48.84 351.41h0.6M54.38 354.46h0.6M56.18 347.82h0.6M60.02 349.2h0.6M64.39 350.12h0.6M54 351.11h0.6M54.97 357.13h0.6M64.04 355.18h0.6M60.58 349.17h0.6M55.12 351.96h0.6M52.15 354.93h0.6M53.68 351.51h0.6M51.71 347.74h0.6M62.37 357.23h0.6M59.64 350.77h0.6M40.92 353.98h0.6M66.41 354.33h0.6M64.53 357.64h0.6M65.82 352.26h0.6M65.34 355.67h0.6M48.51 352.37h0.6M49.25 353.19h0.6M62.26 350.51h0.6M45.14 357.14h0.6M60.95 357.62h0.6M49.9 356.47h0.6M71.98 359.12h0.6M57.13 354.25h0.6M57.5 356.3h0.6M65.25 353.74h0.6M49.67 355.58h0.6M55.45 355.26h0.6M60.21 358.05h0.6M65.89 352.24h0.6M60.77 358.44h0.6M55.01 354.71h0.6M66.24 357.02h0.6M61.87 349.8h0.6M50.3 354.19h0.6M61.02 360.63h0.6M52.9 356.69h0.6M63.51 348.82h0.6M53.18 353.97h0.6M55.29 353.07h0.6M61.56 351.23h0.6M61.53 351.72h0.6M54.96 355h0.6M54.77 354.3h0.6M68.9 353.58h0.6M57.55 355.56h0.6M56.12 356.53h0.6M50.16 355.23h0.6M55.17 351.26h0.6M70 351.12h0.6M69.92 355.34h0.6M67.94 350.77h0.6M66.29 357.58h0.6M57.74 353.14h0.6M74.46 354h0.6M55.75 351.74h0.6M61.4 354.43h0.6M59.65 358.32h0.6M56.37 354.82h0.6M67.98 350.69h0.6M65.25 358.63h0.6M49.69 350.43h0.6M51.75 348.33h0.6M61.44 348.3h0.6M61.74 357.57h0.6M48 352.61h0.6M46.03 355.68h0.6M53.71 352.76h0.6M58.85 355.03h0.6M56.25 353.54h0.6M54.95 353.82h0.6M50.88 353.68h0.6M45.94 352.13h0.6M70.95 353.72h0.6M50.31 354.22h0.6M52.18 348.88h0.6M53.71 355.56h0.6M61 353.23h0.6M52.48 350.48h0.6M67.27 354.18h0.6M52.31 347.59h0.6M49.6 360.43h0.6M51.03 353.28h0.6M59.87 353.06h0.6M56.69 349.65h0.6M51.67 358.23h0.6M53.58 355.87h0.6M47.49 352.73h0.6M60.2 356.4h0.6M51.2 355.17h0.6M61.01 351.43h0.6M61.6 350.99h0.6M53.33 353.45h0.6M40.86 353.19h0.6M52 349.4h0.6M55.74 355.64h0.6M55.87 357.04h0.6M50.96 349.83h0.6M68.58 354.62h0.6M64.64 351.18h0.6M63.73 354.23h0.6M62.72 353.57h0.6M66.34 351.68h0.6M52.24 349.36h0.6M66.04 351.43h0.6M51.72 350.87h0.6M55.61 349.94h0.6M56.61 351.74h0.6M54.92 350.81h0.6M58.74 352.21h0.6M59.25 354.2h0.6M60.71 347.37h0.6M55.02 351.27h0.6M63.53 349.08h0.6M53.86 352.68h0.6M56.31 356.28h0.6M55.62 356.2h0.6M48.97 348.43h0.6M66.43 354.72h0.6M61.67 353.84h0.6M61.65 350.1h0.6M64.67 352.01h0.6M64.91 353.75h0.6M45.67 349.9h0.6M65.83 353.12h0.6M55.93 354.18h0.6M55.74 351.98h0.6M59.17 353.9h0.6M68.36 353.63h0.6M70.72 358.55h0.6M69.66 356.47h0.6M59.35 353.88h0.6M57.57 351.45h0.6M58.07 351.71h0.6M69.16 355h0.6M55.6 348.14h0.6M58.15 352.33h0.6M51.44 350.32h0.6M43.87 355.09h0.6M58.07 360.73h0.6M58.3 353.08h0.6M67.89 353.88h0.6M59.59 352.46h0.6M54.57 357.7h0.6M65 358.31h0.6M56.23 353.58h0.6M52.77 356.21h0.6M49.44 355.08h0.6M65.62 357.45h0.6M52.39 356.55h0.6M53.86 351.38h0.6M49.9 356.74h0.6M69.22 351.84h0.6M53.56 352.55h0.6M74.8 356.31h0.6M54.97 348.48h0.6M54.13 356.82h0.6M70.64 352.75h0.6M54.01 352.07h0.6M46.24 356.04h0.6M51.44 356.48h0.6M47.4 349.94h0.6M60.37 351.36h0.6M63.58 353.52h0.6M50.86 355.24h0.6M63.97 348.14h0.6M70.37 354.89h0.6M63.44 348.29h0.6M53.82 352.52h0.6M65.5 349.41h0.6M52.76 347.82h0.6M56.93 354.47h0.6M47.54 351.84h0.6M61.82 357.94h0.6M62.82 352.65h0.6M50.84 350.88h0.6M54.18 353.91h0.6M58.18 358.17h0.6M60.37 350.5h0.6M68.54 356.16h0.6M59.16 351.48h0.6M46.34 350.64h0.6M64.43 351.25h0.6M49.92 354.05h0.6M60.08 355.2h0.6M62.76 357.45h0.6M53.04 356.24h0.6M52.08 355.44h0.6M59.66 354.18h0.6M64.79 353.45h0.6M65.73 355.95h0.6M59.38 351.91h0.6M53.6 352.02h0.6M57.18 353.43h0.6M77.88 355.29h0.6M63.5 351.09h0.6M53.88 352.61h0.6M59.75 350.6h0.6M68.98 351.92h0.6M65.51 346.96h0.6M58.45 354.28h0.6M59.74 355.18h0.6M60.32 353.95h0.6M46.2 351.5h0.6M43.27 355.26h0.6M60.5 352.95h0.6M53.16 351.87h0.6M70.5 358.35h0.6M58.12 357.11h0.6M48.18 348.08h0.6M55.36 351.05h0.6M54.87 354.03h0.6M78.16 351.65h0.6M58.82 354.27h0.6M58.28 356.11h0.6M70.04 350.02h0.6M59.55 352.76h0.6M60.82 349.21h0.6M47.07 347.01h0.6M61.91 354.04h0.6M58.98 346.87h0.6M56.07 351.39h0.6M49.31 350.94h0.6M63.04 355.02h0.6M58.35 354.94h0.6M54.58 353.7h0.6M58.76 355.05h0.6M58.05 353.1h0.6M57.62 351.69h0.6M73.02 354.94h0.6M61.29 359.92h0.6M67.62 349.14h0.6M63.02 355.85h0.6M70.75 357.18h0.6M63.51 350.2h0.6M52.84 354.25h0.6M61.78 350.64h0.6M56 352.38h0.6M58.89 354.44h0.6M56.64 350.04h0.6M66.58 357.97h0.6M57.81 356.37h0.6M61.39 355.35h0.6M61.63 351.36h0.6M62.23 356.33h0.6M52.67 359.01h0.6M72.08 358.6h0.6M71.43 355.58h0.6M64.72 354.88h0.6M52.87 357.54h0.6M51.99 354.91h0.6M74.72 356.91h0.6M74.94 355.29h0.6M52.97 353.34h0.6M71.78 358.82h0.6M53.1 355.82h0.6M74.34 359.78h0.6M54.57 354.58h0.6M48.34 360.05h0.6M60.32 354.07h0.6M49.76 347.52h0.6M50.77 356.79h0.6M61.71 355.3h0.6M67.88 355.54h0.6M66.06 354.43h0.6M46.71 355.23h0.6M62.87 351.44h0.6M50.39 354.07h0.6M62.99 352.47h0.6M62.07 348.36h0.6M50.27 358.76h0.6M56.65 356.09h0.6M66.37 359.49h0.6M54.39 355.99h0.6M70.1 356.46h0.6M44.48 351.19h0.6M72.22 347.58h0.6M52.25 354.95h0.6M49.77 355.5h0.6M49.07 351.33h0.6M55.51 353.74h0.6M60.11 353.83h0.6M57.82 352.38h0.6M66.15 353.84h0.6M69.31 355.87h0.6M66.05 351.89h0.6M55.82 354.01h0.6M71.06 352.86h0.6M73.58 350.16h0.6M60.45 354.13h0.6M60.66 362.3h0.6M50.93 355.09h0.6M49.65 355.94h0.6M69.33 355.46h0.6M44.93 358.08h0.6M50.05 356.82h0.6M44.55 350.6h0.6M60.21 351.55h0.6M65.78 359.16h0.6M66.23 357.89h0.6M45.4 356.67h0.6M59.52 356.61h0.6M52.67 356.35h0.6M48.25 356.26h0.6M62.35 355.16h0.6M61.76 352.62h0.6M67.14 357.07h0.6M73.07 359.14h0.6M56.05 348.63h0.6M60.29 356.93h0.6M56.26 359.17h0.6M54.5 352h0.6M51.45 352.26h0.6M74.42 356.95h0.6M68.94 359.02h0.6M70.28 350.94h0.6M45.66 345.99h0.6M72.96 353.12h0.6M51.73 350h0.6M55.3 356.13h0.6M60.45 357.09h0.6M59.65 355.44h0.6M44.65 359.42h0.6M68.07 360.5h0.6M73.04 350.1h0.6M71.42 349.67h0.6M71.42 358.48h0.6M52.24 354.98h0.6M65.03 353.41h0.6M72.66 357.96h0.6M63.26 353.99h0.6M57.44 357.88h0.6M73.48 353.36h0.6M64.07 356.66h0.6M47.73 347.36h0.6M59.93 349.53h0.6M52.32 350.13h0.6M48.6 354.83h0.6M47.84 355.81h0.6M56.6 355.96h0.6M52.94 354.06h0.6M60.94 355.37h0.6M70.03 350.8h0.6M64.16 351.35h0.6M50.24 353.12h0.6M60.99 350.55h0.6M63 351.29h0.6M51.51 354.53h0.6M50.87 350.86h0.6M62.16 353.75h0.6M44.37 350.17h0.6M51.39 359.09h0.6M61.26 351.38h0.6M74.61 354.14h0.6M53.16 354.26h0.6M46.07 352.14h0.6M71.01 352.94h0.6M56.02 354.42h0.6M57.64 353.86h0.6M50.98 352.47h0.6M73.74 353.87h0.6M54.45 352.15h0.6M54.93 352h0.6M70.35 350.05h0.6M69.46 348.79h0.6M67.04 353.42h0.6M67.55 348.46h0.6M65.97 354.87h0.6M72.36 358.51h0.6M44.13 358.64h0.6M67.74 350.78h0.6M73.85 352.07h0.6M61.73 349.13h0.6M71.06 356.76h0.6M62.83 351.45h0.6M58.19 356.41h0.6M66.41 353.15h0.6M61.22 357.07h0.6M55.92 351.54h0.6M70.34 359.06h0.6M59.49 352.08h0.6M53.43 354.7h0.6M48.49 350.24h0.6M46.73 352.07h0.6M72.53 351.24h0.6M69.98 359.51h0.6M73.72 354.96h0.6M72.23 357.24h0.6M44.33 357.95h0.6M59.42 355.21h0.6M72.53 354.59h0.6M74.95 350.06h0.6M60.04 349.16h0.6M56.08 353.47h0.6M55.09 351.54h0.6M73.38 352.33h0.6M64.97 352.56h0.6M55.61 353.77h0.6M56.43 350.13h0.6M71.27 352.43h0.6M73.9 350.57h0.6M63.36 354.29h0.6M74.88 351.82h0.6M69.29 357.28h0.6M49.29 350.32h0.6M69.61 362.07h0.6M59.89 359.22h0.6M65.39 358.34h0.6M69.44 360.69h0.6M57.05 353.59h0.6M48.85 353.05h0.6M59.65 357.71h0.6M49.83 355.86h0.6M62.7 358.11h0.6M54.95 358.55h0.6M45.31 353.82h0.6M56.75 354.64h0.6M65.41 351.34h0.6M44.12 351.94h0.6M62.17 359.79h0.6M64.71 355.24h0.6M61.15 357.55h0.6M52.25 351.62h0.6M74.91 350.86h0.6M61.81 352.62h0.6M48.86 354.86h0.6M67.54 355.15h0.6M49.29 354.91h0.6M60.2 355.96h0.6M69 350.05h0.6M45.93 359.47h0.6M54.01 354.43h0.6M66.18 352.82h0.6M52.26 355.55h0.6M47.08 357.48h0.6M54.82 351.6h0.6M57.94 353.19h0.6M71.61 354.71h0.6M62.06 357.33h0.6M63.23 353.14h0.6M51.73 361.12h0.6M70.5 356.02h0.6M53.76 358.74h0.6M53.41 350.51h0.6M62.68 357.63h0.6M73.44 353.07h0.6M51.53 350.08h0.6M50.86 357.25h0.6M85.83 347.97h0.6M96.67 343.3h0.6M87.6 358.44h0.6M82.55 350.53h0.6M88.2 348.67h0.6M80.64 360.27h0.6M85.18 352.25h0.6M83.42 352.26h0.6M92.58 345.43h0.6M95.81 344.41h0.6M99.36 343.03h0.6M98.18 338.33h0.6M84.81 346.59h0.6M102.33 346.13h0.6M89.47 350.71h0.6M78.94 351.76h0.6M97.59 337.25h0.6M81.22 350.55h0.6M100.57 342.48h0.6M89.62 352.11h0.6M84.44 345.51h0.6M83.36 351.73h0.6M81.75 350.98h0.6M95.42 346.59h0.6M83.55 349.76h0.6M77.12 358.01h0.6M78.91 351.69h0.6M89.68 345.66h0.6M99.71 337.92h0.6M86.45 352.45h0.6M91.9 346.63h0.6M92.61 341.31h0.6M96.16 344.01h0.6M84.36 358.49h0.6M94.94 341.34h0.6M77.81 358.18h0.6M83.42 351.61h0.6M83.19 349.1h0.6M94.67 337.84h0.6M79.56 354.02h0.6M89.25 350.06h0.6M96.04 342.48h0.6M97.67 339.24h0.6M85.34 356.1h0.6M84.61 349.82h0.6M77.49 351.99h0.6M96.29 339.55h0.6M80.52 353.99h0.6M98.89 333.04h0.6M95.91 337.63h0.6M76.67 352.41h0.6M90.34 345.96h0.6M99.11 343.24h0.6M96.75 345.28h0.6M99.41 334.28h0.6M84.42 353.21h0.6M87.27 351.65h0.6M78.68 349.24h0.6M82.32 356.45h0.6M89.45 346.82h0.6M84.7 349.73h0.6M88.62 351.3h0.6M90.34 343.91h0.6M91.34 341.41h0.6M96.45 340.17h0.6M82.57 353.04h0.6M77.29 358.07h0.6M93.22 343.52h0.6M82.39 351.16h0.6M80.66 353.86h0.6M101.8 335.69h0.6M97.46 342.1h0.6M76.49 355.08h0.6M80.66 353.08h0.6M98.01 334.73h0.6M99.35 336.11h0.6M82.73 352.71h0.6M97.12 339.03h0.6M78.08 348.12h0.6M101.98 343.81h0.6M97.5 337.28h0.6M81.68 350.57h0.6M83.58 348.57h0.6M97.66 341.39h0.6M87.92 340.99h0.6M98.73 338.16h0.6M87.57 347.12h0.6M83 350.31h0.6M95.12 346.48h0.6M101.75 338.14h0.6M88.71 353.43h0.6M78.41 351.15h0.6M94.86 342.55h0.6M90.91 343.43h0.6M81.79 352.17h0.6M98.56 339.29h0.6M81.04 352.66h0.6M85.36 351.43h0.6M78.73 352.82h0.6M103.58 331.74h0.6M98.08 333.39h0.6M76.22 351.51h0.6M78.82 347.32h0.6M87.38 345.03h0.6M85.32 349.58h0.6M79.87 349.79h0.6M77.08 352.44h0.6M88.76 347.54h0.6M89.82 346.75h0.6M82.83 350.58h0.6M80.01 352.72h0.6M76.83 354.59h0.6M87.23 346.38h0.6M92.89 348.28h0.6M93.27 346.96h0.6M73.83 358.12h0.6M89.5 340.25h0.6M82.49 354.38h0.6M79.71 351.9h0.6M83.19 352.46h0.6M98.63 346.09h0.6M77.67 359.22h0.6M75.13 355.34h0.6M83.19 347.44h0.6M95.87 334.33h0.6M94.5 342.23h0.6M80.31 350.44h0.6M94.12 335.8h0.6M76.68 358.64h0.6M100.53 337.01h0.6M93.95 347.51h0.6M100.68 346.14h0.6M93.51 345.79h0.6M89.14 344.14h0.6M80.01 354.95h0.6M97.92 345.07h0.6M82.71 348.04h0.6M81.69 351.05h0.6M95.84 335.24h0.6M75.67 358.4h0.6M91.8 342.47h0.6M78.6 362.18h0.6M91.72 345.9h0.6M81.35 350.94h0.6M98.03 338.65h0.6M85.54 357.66h0.6M92.61 345.79h0.6M82.56 350.7h0.6M85.94 349.55h0.6M90.83 346.03h0.6M88.61 347.72h0.6M78.96 351.63h0.6M81.39 351.53h0.6M85.36 344.08h0.6M104.55 338.11h0.6M98.68 337.24h0.6M91.08 341.85h0.6M84.58 344.55h0.6M99.62 335.52h0.6M95.67 337.57h0.6M90.87 347.87h0.6M88.41 350.06h0.6M86.92 350.24h0.6M85.62 352.21h0.6M85.25 350.33h0.6M96.36 340.68h0.6M90.35 347.64h0.6M77.12 358.52h0.6M89.98 339.86h0.6M87.41 347.99h0.6M79.34 359.56h0.6M99.31 341.98h0.6M87.69 347.47h0.6M90.02 345.64h0.6M84 352.15h0.6M82.53 349.28h0.6M87.31 353.54h0.6M97.6 337.86h0.6M97.98 341.23h0.6M79.7 348.76h0.6M85.8 351.89h0.6M92.19 342.73h0.6M100.46 341.57h0.6M94.15 339.14h0.6M93.26 344.45h0.6M89.73 350.1h0.6M81.73 350.48h0.6M82.33 351.99h0.6M94.07 334.43h0.6M74.79 352.19h0.6M85.63 351.55h0.6M79.81 352.64h0.6M94.74 342.74h0.6M88.27 343.5h0.6M89.88 350h0.6M81.81 346.08h0.6M94.8 347.09h0.6M99.71 338.27h0.6M90.7 345.86h0.6M73.06 357.59h0.6M91.81 349.55h0.6M81.97 350.92h0.6M77.24 357.36h0.6M87.74 346.21h0.6M99.6 339.69h0.6M80.23 345.58h0.6M83.97 354.86h0.6M84.88 351.69h0.6M90.33 349.49h0.6M85.83 354.57h0.6M78.72 353.56h0.6M89.2 348.13h0.6M75.48 354.39h0.6M102.8 336.95h0.6M81.81 355.25h0.6M87.45 350.67h0.6M94.58 339.51h0.6M102.45 341.56h0.6M82.97 348.51h0.6M82.99 345.14h0.6M82.1 354.87h0.6M100.92 343.69h0.6M88.77 346.39h0.6M100.09 346.37h0.6M86.19 342.93h0.6M85.43 344.79h0.6M84.8 351.31h0.6M106.17 337.97h0.6M79.83 352.4h0.6M80 352.24h0.6M87.87 347.49h0.6M99.5 339.25h0.6M82.98 347.14h0.6M75.39 356.17h0.6M87.54 348.82h0.6M99.93 343.75h0.6M77.95 354.74h0.6M88.58 353.23h0.6M79.65 349.93h0.6M77.36 358.01h0.6M98.99 340.6h0.6M103.8 333.85h0.6M83.86 354h0.6M80.32 356.74h0.6M84.65 347.68h0.6M75.06 352.07h0.6M86.93 344.5h0.6M104 333.39h0.6M85.43 352.33h0.6M99.65 339.79h0.6M91.56 358.61h0.6M72.22 351.88h0.6M80.98 349.72h0.6M82.61 353.83h0.6M98.94 332.66h0.6M76.62 353.1h0.6M90.98 343.15h0.6M104.91 337.6h0.6M95.25 339.63h0.6M102.17 342.01h0.6M92.81 345.94h0.6M83.24 348.34h0.6M92.25 347.89h0.6M90.63 350.89h0.6M84.98 349.55h0.6M92.28 342.02h0.6M84.91 358.82h0.6M87.08 345.78h0.6M97.24 342.88h0.6M94.32 341.8h0.6M100.99 336.1h0.6M74.07 360.62h0.6M98.17 342.06h0.6M84.19 353.95h0.6M94.49 340.42h0.6M72.35 362.51h0.6M91.69 344.35h0.6M96.82 339.04h0.6M91.9 346.55h0.6M80.8 354.56h0.6M87.37 349.64h0.6M92.12 346.37h0.6M94.37 345.7h0.6M82.77 350.84h0.6M93.47 342.46h0.6M87.8 343.85h0.6M87.95 350.6h0.6M85.12 346.81h0.6M84.21 343.72h0.6M82.99 352.99h0.6M102.15 347.21h0.6M92.25 346.49h0.6M87.9 352.94h0.6M83.32 348.75h0.6M99.46 338.18h0.6M89.03 346.05h0.6M95.68 342.23h0.6M96.77 340.69h0.6M90.79 342.11h0.6M94.74 342.77h0.6M90.12 341.41h0.6M97.16 343.27h0.6M78.42 353.98h0.6M78.35 350.72h0.6M75.97 350.9h0.6M91.73 349.15h0.6M80.14 342.41h0.6M98.09 339.25h0.6M84.45 350.27h0.6M101.44 339.92h0.6M84 357.66h0.6M88.16 345.63h0.6M75.85 362.6h0.6M97.9 338.85h0.6M83.84 354.36h0.6M83.23 350.43h0.6M88.55 350.03h0.6M83.66 350.83h0.6M76.26 359.95h0.6M84.85 347.59h0.6M83.63 348.74h0.6M95.43 338.35h0.6M90.01 346.4h0.6M101.02 340.76h0.6M96.8 346.33h0.6M76.73 354.31h0.6M96.32 336.2h0.6M87.44 342.38h0.6M84.69 357.58h0.6M81.09 352.91h0.6M96.55 337.28h0.6M100.09 327.22h0.6M92.1 337.93h0.6M93.19 344.22h0.6M96.09 333.79h0.6M98.82 339.12h0.6M99.8 339.24h0.6M94.7 338.53h0.6M94.69 333.79h0.6M94.97 334.78h0.6M98.35 334.78h0.6M97.31 334.39h0.6M101.19 326.45h0.6M95.33 336.47h0.6M92.35 338.97h0.6M95.04 340.89h0.6M97.49 339.06h0.6M96.9 331.88h0.6M96.02 334.14h0.6M97.11 334.46h0.6M104.88 332.28h0.6M99.25 335.1h0.6M94.38 339.25h0.6M97.39 331.53h0.6M97.18 335.57h0.6M91.03 335.26h0.6M94.42 332.5h0.6M96.77 337.45h0.6M92.85 343.8h0.6M97.67 334.03h0.6M96.68 335.72h0.6M92.72 328.61h0.6M90.44 342.63h0.6M95.89 334.85h0.6M93.58 339.22h0.6M94.12 342.31h0.6M95.94 342.63h0.6M95.3 337.3h0.6M95.19 335.07h0.6M92.68 332.62h0.6M94.55 332.92h0.6M98.5 337.83h0.6M97.84 340.04h0.6M96.97 340.36h0.6M93.69 338.52h0.6M95.86 333.82h0.6M96.29 344.82h0.6M91.77 341.7h0.6M98.88 333.47h0.6M96.21 337.56h0.6M97.27 334.95h0.6M93.01 335.2h0.6M97.09 339.5h0.6M96.27 340.53h0.6M93.77 335.14h0.6M95.65 339.92h0.6M95.77 338.02h0.6M93.92 343.82h0.6M91 334.36h0.6M101.43 338.63h0.6M91.63 335.19h0.6M93.47 332.48h0.6M94.57 342.47h0.6M96.3 338.79h0.6M98.11 337.46h0.6M94.14 335.03h0.6M97.09 335.22h0.6M94.87 334.2h0.6M93.71 331.16h0.6M96.2 334.61h0.6M94.49 341.19h0.6M96.73 336.09h0.6M94.53 331.2h0.6M97.86 333.05h0.6M98.21 332.36h0.6M96.39 335.83h0.6M98.74 335.27h0.6M94.86 336.64h0.6M94.2 342.25h0.6M96.02 333.84h0.6" stroke="#2f52ff" stroke-width="0.6" opacity="0.7" fill="none"/>
<g filter="url(#bl)">
<ellipse cx="58" cy="353.5" rx="7.5" ry="3.2" fill="#25c8e0" opacity="0.7"/>
<ellipse cx="58" cy="353.5" rx="5.4" ry="2.5" fill="#5cd020"/>
<ellipse cx="58.2" cy="353.5" rx="3.2" ry="1.7" fill="#e8d000"/>
<ellipse cx="58.3" cy="353.5" rx="1.6" ry="1.0" fill="#f04000"/>
</g>
</g>
<rect x="38.6" y="301.3" width="74.3" height="72.7" fill="none" stroke="#3a3a3a" stroke-width="1.1"/>
<line x1="75.8" y1="301.3" x2="75.8" y2="374" stroke="#333" stroke-width="1.1" />
<line x1="38.6" y1="344.7" x2="112.9" y2="344.7" stroke="#333" stroke-width="1.1" />
<line x1="36" y1="307.6" x2="38.6" y2="307.6" stroke="#3a3a3a" stroke-width="0.9" />
<text x="32.6" y="311.26" font-size="8.5" fill="#262626" text-anchor="end" >10<tspan dy="-2.9" font-size="0.74em">5</tspan></text>
<line x1="37.3" y1="317.87" x2="38.6" y2="317.87" stroke="#3a3a3a" stroke-width="0.6" />
<line x1="37.3" y1="315.29" x2="38.6" y2="315.29" stroke="#3a3a3a" stroke-width="0.6" />
<line x1="37.3" y1="313.45" x2="38.6" y2="313.45" stroke="#3a3a3a" stroke-width="0.6" />
<line x1="37.3" y1="312.03" x2="38.6" y2="312.03" stroke="#3a3a3a" stroke-width="0.6" />
<line x1="37.3" y1="310.86" x2="38.6" y2="310.86" stroke="#3a3a3a" stroke-width="0.6" />
<line x1="37.3" y1="309.88" x2="38.6" y2="309.88" stroke="#3a3a3a" stroke-width="0.6" />
<line x1="37.3" y1="309.02" x2="38.6" y2="309.02" stroke="#3a3a3a" stroke-width="0.6" />
<line x1="37.3" y1="308.27" x2="38.6" y2="308.27" stroke="#3a3a3a" stroke-width="0.6" />
<line x1="36" y1="322.3" x2="38.6" y2="322.3" stroke="#3a3a3a" stroke-width="0.9" />
<text x="32.6" y="325.96" font-size="8.5" fill="#262626" text-anchor="end" >10<tspan dy="-2.9" font-size="0.74em">4</tspan></text>
<line x1="37.3" y1="332.57" x2="38.6" y2="332.57" stroke="#3a3a3a" stroke-width="0.6" />
<line x1="37.3" y1="329.99" x2="38.6" y2="329.99" stroke="#3a3a3a" stroke-width="0.6" />
<line x1="37.3" y1="328.15" x2="38.6" y2="328.15" stroke="#3a3a3a" stroke-width="0.6" />
<line x1="37.3" y1="326.73" x2="38.6" y2="326.73" stroke="#3a3a3a" stroke-width="0.6" />
<line x1="37.3" y1="325.56" x2="38.6" y2="325.56" stroke="#3a3a3a" stroke-width="0.6" />
<line x1="37.3" y1="324.58" x2="38.6" y2="324.58" stroke="#3a3a3a" stroke-width="0.6" />
<line x1="37.3" y1="323.72" x2="38.6" y2="323.72" stroke="#3a3a3a" stroke-width="0.6" />
<line x1="37.3" y1="322.97" x2="38.6" y2="322.97" stroke="#3a3a3a" stroke-width="0.6" />
<line x1="36" y1="337" x2="38.6" y2="337" stroke="#3a3a3a" stroke-width="0.9" />
<text x="32.6" y="340.66" font-size="8.5" fill="#262626" text-anchor="end" >10<tspan dy="-2.9" font-size="0.74em">3</tspan></text>
<line x1="37.3" y1="347.27" x2="38.6" y2="347.27" stroke="#3a3a3a" stroke-width="0.6" />
<line x1="37.3" y1="344.69" x2="38.6" y2="344.69" stroke="#3a3a3a" stroke-width="0.6" />
<line x1="37.3" y1="342.85" x2="38.6" y2="342.85" stroke="#3a3a3a" stroke-width="0.6" />
<line x1="37.3" y1="341.43" x2="38.6" y2="341.43" stroke="#3a3a3a" stroke-width="0.6" />
<line x1="37.3" y1="340.26" x2="38.6" y2="340.26" stroke="#3a3a3a" stroke-width="0.6" />
<line x1="37.3" y1="339.28" x2="38.6" y2="339.28" stroke="#3a3a3a" stroke-width="0.6" />
<line x1="37.3" y1="338.42" x2="38.6" y2="338.42" stroke="#3a3a3a" stroke-width="0.6" />
<line x1="37.3" y1="337.67" x2="38.6" y2="337.67" stroke="#3a3a3a" stroke-width="0.6" />
<line x1="36" y1="351.7" x2="38.6" y2="351.7" stroke="#3a3a3a" stroke-width="0.9" />
<text x="32.6" y="355.36" font-size="8.5" fill="#262626" text-anchor="end" >10<tspan dy="-2.9" font-size="0.74em">2</tspan></text>
<line x1="37.3" y1="361.97" x2="38.6" y2="361.97" stroke="#3a3a3a" stroke-width="0.6" />
<line x1="37.3" y1="359.39" x2="38.6" y2="359.39" stroke="#3a3a3a" stroke-width="0.6" />
<line x1="37.3" y1="357.55" x2="38.6" y2="357.55" stroke="#3a3a3a" stroke-width="0.6" />
<line x1="37.3" y1="356.13" x2="38.6" y2="356.13" stroke="#3a3a3a" stroke-width="0.6" />
<line x1="37.3" y1="354.96" x2="38.6" y2="354.96" stroke="#3a3a3a" stroke-width="0.6" />
<line x1="37.3" y1="353.98" x2="38.6" y2="353.98" stroke="#3a3a3a" stroke-width="0.6" />
<line x1="37.3" y1="353.12" x2="38.6" y2="353.12" stroke="#3a3a3a" stroke-width="0.6" />
<line x1="37.3" y1="352.37" x2="38.6" y2="352.37" stroke="#3a3a3a" stroke-width="0.6" />
<line x1="36" y1="366.4" x2="38.6" y2="366.4" stroke="#3a3a3a" stroke-width="0.9" />
<text x="32.6" y="370.06" font-size="8.5" fill="#262626" text-anchor="end" >10<tspan dy="-2.9" font-size="0.74em">1</tspan></text>
<line x1="37.3" y1="372.25" x2="38.6" y2="372.25" stroke="#3a3a3a" stroke-width="0.6" />
<line x1="37.3" y1="370.83" x2="38.6" y2="370.83" stroke="#3a3a3a" stroke-width="0.6" />
<line x1="37.3" y1="369.66" x2="38.6" y2="369.66" stroke="#3a3a3a" stroke-width="0.6" />
<line x1="37.3" y1="368.68" x2="38.6" y2="368.68" stroke="#3a3a3a" stroke-width="0.6" />
<line x1="37.3" y1="367.82" x2="38.6" y2="367.82" stroke="#3a3a3a" stroke-width="0.6" />
<line x1="37.3" y1="367.07" x2="38.6" y2="367.07" stroke="#3a3a3a" stroke-width="0.6" />
<line x1="38.6" y1="374" x2="38.6" y2="376.4" stroke="#3a3a3a" stroke-width="0.9" />
<text x="39" y="388.26" font-size="8.5" fill="#262626" text-anchor="middle" >10<tspan dy="-2.9" font-size="0.74em">1</tspan></text>
<line x1="43.15" y1="374" x2="43.15" y2="375.3" stroke="#3a3a3a" stroke-width="0.6" />
<line x1="45.8" y1="374" x2="45.8" y2="375.3" stroke="#3a3a3a" stroke-width="0.6" />
<line x1="47.69" y1="374" x2="47.69" y2="375.3" stroke="#3a3a3a" stroke-width="0.6" />
<line x1="49.15" y1="374" x2="49.15" y2="375.3" stroke="#3a3a3a" stroke-width="0.6" />
<line x1="50.35" y1="374" x2="50.35" y2="375.3" stroke="#3a3a3a" stroke-width="0.6" />
<line x1="51.36" y1="374" x2="51.36" y2="375.3" stroke="#3a3a3a" stroke-width="0.6" />
<line x1="52.24" y1="374" x2="52.24" y2="375.3" stroke="#3a3a3a" stroke-width="0.6" />
<line x1="53.01" y1="374" x2="53.01" y2="375.3" stroke="#3a3a3a" stroke-width="0.6" />
<line x1="53.7" y1="374" x2="53.7" y2="376.4" stroke="#3a3a3a" stroke-width="0.9" />
<text x="54.1" y="388.26" font-size="8.5" fill="#262626" text-anchor="middle" >10<tspan dy="-2.9" font-size="0.74em">2</tspan></text>
<line x1="58.25" y1="374" x2="58.25" y2="375.3" stroke="#3a3a3a" stroke-width="0.6" />
<line x1="60.9" y1="374" x2="60.9" y2="375.3" stroke="#3a3a3a" stroke-width="0.6" />
<line x1="62.79" y1="374" x2="62.79" y2="375.3" stroke="#3a3a3a" stroke-width="0.6" />
<line x1="64.25" y1="374" x2="64.25" y2="375.3" stroke="#3a3a3a" stroke-width="0.6" />
<line x1="65.45" y1="374" x2="65.45" y2="375.3" stroke="#3a3a3a" stroke-width="0.6" />
<line x1="66.46" y1="374" x2="66.46" y2="375.3" stroke="#3a3a3a" stroke-width="0.6" />
<line x1="67.34" y1="374" x2="67.34" y2="375.3" stroke="#3a3a3a" stroke-width="0.6" />
<line x1="68.11" y1="374" x2="68.11" y2="375.3" stroke="#3a3a3a" stroke-width="0.6" />
<line x1="68.8" y1="374" x2="68.8" y2="376.4" stroke="#3a3a3a" stroke-width="0.9" />
<text x="69.2" y="388.26" font-size="8.5" fill="#262626" text-anchor="middle" >10<tspan dy="-2.9" font-size="0.74em">3</tspan></text>
<line x1="73.35" y1="374" x2="73.35" y2="375.3" stroke="#3a3a3a" stroke-width="0.6" />
<line x1="76" y1="374" x2="76" y2="375.3" stroke="#3a3a3a" stroke-width="0.6" />
<line x1="77.89" y1="374" x2="77.89" y2="375.3" stroke="#3a3a3a" stroke-width="0.6" />
<line x1="79.35" y1="374" x2="79.35" y2="375.3" stroke="#3a3a3a" stroke-width="0.6" />
<line x1="80.55" y1="374" x2="80.55" y2="375.3" stroke="#3a3a3a" stroke-width="0.6" />
<line x1="81.56" y1="374" x2="81.56" y2="375.3" stroke="#3a3a3a" stroke-width="0.6" />
<line x1="82.44" y1="374" x2="82.44" y2="375.3" stroke="#3a3a3a" stroke-width="0.6" />
<line x1="83.21" y1="374" x2="83.21" y2="375.3" stroke="#3a3a3a" stroke-width="0.6" />
<line x1="83.8" y1="374" x2="83.8" y2="376.4" stroke="#3a3a3a" stroke-width="0.9" />
<text x="84.2" y="388.26" font-size="8.5" fill="#262626" text-anchor="middle" >10<tspan dy="-2.9" font-size="0.74em">4</tspan></text>
<line x1="88.35" y1="374" x2="88.35" y2="375.3" stroke="#3a3a3a" stroke-width="0.6" />
<line x1="91" y1="374" x2="91" y2="375.3" stroke="#3a3a3a" stroke-width="0.6" />
<line x1="92.89" y1="374" x2="92.89" y2="375.3" stroke="#3a3a3a" stroke-width="0.6" />
<line x1="94.35" y1="374" x2="94.35" y2="375.3" stroke="#3a3a3a" stroke-width="0.6" />
<line x1="95.55" y1="374" x2="95.55" y2="375.3" stroke="#3a3a3a" stroke-width="0.6" />
<line x1="96.56" y1="374" x2="96.56" y2="375.3" stroke="#3a3a3a" stroke-width="0.6" />
<line x1="97.44" y1="374" x2="97.44" y2="375.3" stroke="#3a3a3a" stroke-width="0.6" />
<line x1="98.21" y1="374" x2="98.21" y2="375.3" stroke="#3a3a3a" stroke-width="0.6" />
<line x1="98.9" y1="374" x2="98.9" y2="376.4" stroke="#3a3a3a" stroke-width="0.9" />
<text x="99.3" y="388.26" font-size="8.5" fill="#262626" text-anchor="middle" >10<tspan dy="-2.9" font-size="0.74em">5</tspan></text>
<text x="44.5" y="311.24" font-size="7.6" fill="#262626" >0.011</text>
<text x="111.6" y="311.24" font-size="7.6" fill="#262626" text-anchor="end" >4.57</text>
<text x="39.6" y="370.74" font-size="7.6" fill="#262626" >86.0</text>
<text x="111.6" y="372.54" font-size="7.6" fill="#262626" text-anchor="end" >9.41</text>
<g clip-path="url(#d2)">
<path d="M154.95 353.68h0.6M151.71 353.94h0.6M154.61 362.02h0.6M166.58 351.05h0.6M158.47 347.63h0.6M169.61 352.58h0.6M165.54 351.28h0.6M162.25 351.09h0.6M167.99 352.78h0.6M164.65 351.3h0.6M155.08 356.31h0.6M163.49 358.7h0.6M165.38 355.98h0.6M170.37 356.44h0.6M169.52 352.33h0.6M166.86 347.21h0.6M161.35 347.7h0.6M166.4 354.57h0.6M168.64 350.34h0.6M159.82 359.3h0.6M170.59 358h0.6M166.47 357.4h0.6M152.55 353.57h0.6M151.15 350.77h0.6M157.91 352.77h0.6M169.61 355.75h0.6M163.82 351.81h0.6M166.38 349.79h0.6M166.63 349.77h0.6M167.47 346.41h0.6M156.56 355.98h0.6M167.74 354.62h0.6M154.83 348.09h0.6M166.62 349.51h0.6M146.12 351.99h0.6M148.88 352.53h0.6M167.12 349.17h0.6M157.89 354.37h0.6M154.72 353.09h0.6M167.96 355.05h0.6M162.1 352.19h0.6M153.05 353.66h0.6M164.23 348.65h0.6M166.99 353.97h0.6M149.14 352.17h0.6M167.4 351.76h0.6M150.79 351.55h0.6M155.42 359.48h0.6M151.83 355.46h0.6M169.24 350.05h0.6M156.25 345.51h0.6M159.18 352.51h0.6M171.7 354.46h0.6M150.22 357.4h0.6M159.71 354.24h0.6M170.57 352.5h0.6M157.82 353.28h0.6M155.16 350.52h0.6M148.62 347.23h0.6M159.36 350.69h0.6M155.79 357.84h0.6M163.32 349.93h0.6M147.97 350.34h0.6M170.9 350.37h0.6M155.41 350.4h0.6M155.77 349.14h0.6M159.58 349.78h0.6M158.95 347.03h0.6M155.46 353.45h0.6M167.71 352.36h0.6M163.77 349.65h0.6M165.53 351.42h0.6M169.17 351.88h0.6M146.91 347.88h0.6M154.46 357.01h0.6M169.18 357.75h0.6M149.76 349.37h0.6M147.21 350.58h0.6M156.2 352.43h0.6M153.3 348.49h0.6M165.82 351.6h0.6M156.94 355.89h0.6M171.43 349.49h0.6M163.59 348.43h0.6M155.89 356.79h0.6M163.96 351.49h0.6M153.21 354.43h0.6M167.47 355.62h0.6M166.64 351.62h0.6M159.42 353.76h0.6M168.81 354.9h0.6M150.44 356.4h0.6M154.11 354.72h0.6M155.96 353.28h0.6M171.14 354.25h0.6M154.04 352.08h0.6M170.54 353.3h0.6M157.4 354.83h0.6M148.82 352.32h0.6M156.02 355.3h0.6M171.05 352.3h0.6M169.63 354.38h0.6M157.71 354.57h0.6M166.24 349.1h0.6M154.18 355.22h0.6M158.23 356.35h0.6M160.53 350.26h0.6M153.16 348.39h0.6M155.43 355.49h0.6M153.5 350.8h0.6M162.39 352.21h0.6M147.07 357.3h0.6M167.49 350.11h0.6M170.44 351.44h0.6M152.9 352.54h0.6M160.26 353.56h0.6M165.6 351.24h0.6M167 349.9h0.6M148.89 351.09h0.6M171.15 356.27h0.6M162.48 350.78h0.6M156.26 347.98h0.6M170.45 352.38h0.6M156.21 349.94h0.6M166.95 351.45h0.6M168.66 353.95h0.6M159.83 348.37h0.6M169.44 351.95h0.6M149.47 351.95h0.6M156.74 353.38h0.6M159.06 354.98h0.6M161.02 349.17h0.6M156.5 350.5h0.6M167.96 351.5h0.6M166.5 353.35h0.6M163.46 351.14h0.6M165.61 346.51h0.6M169.37 352.48h0.6M165.32 354.25h0.6M168.85 348.85h0.6M149.41 351.26h0.6M161.92 348.31h0.6M153.15 355.97h0.6M167.43 354.06h0.6M153.1 352.96h0.6M148.44 354.44h0.6M163.58 357.48h0.6M155.35 351.71h0.6M164.19 357.31h0.6M154.45 354.84h0.6M146.09 351.45h0.6M153.15 351.39h0.6M147.54 349.14h0.6M166.99 353.69h0.6M147.03 353.13h0.6M151.84 351.3h0.6M162.37 351.15h0.6M160.78 354.62h0.6M151.66 353.02h0.6M167.82 350.65h0.6M167.03 351.82h0.6M166.23 352.34h0.6M146.74 349.56h0.6M147.64 352.41h0.6M162.38 351.91h0.6M156.4 348.83h0.6M159.31 350.8h0.6M168.56 351.44h0.6M171.89 354.88h0.6M154.57 345.77h0.6M171.64 355.38h0.6M149.48 353.88h0.6M157.8 350.7h0.6M157.82 348.49h0.6M154.88 353.55h0.6M153.35 355.14h0.6M151.05 352.2h0.6M157.4 349.14h0.6M151.14 351.97h0.6M152.91 350.72h0.6M160.57 350.23h0.6M165.44 345.32h0.6M170.66 356.43h0.6M164.71 350.34h0.6M147.63 352.62h0.6M168.45 352.94h0.6M164.77 351h0.6M155.24 350.9h0.6M150.25 346.67h0.6M153.95 346.12h0.6M147.15 353.69h0.6M169.37 354.84h0.6M166.92 351.25h0.6M148.77 352.86h0.6M150 353.04h0.6M171.75 349.39h0.6M169.7 353.38h0.6M167.37 349.44h0.6M149.34 355.29h0.6M159.21 354.78h0.6M151.44 352.49h0.6M169.63 353.08h0.6M164.47 359.9h0.6M157.36 349.85h0.6M165.04 348.68h0.6M167.88 355.91h0.6M149.48 354.44h0.6M161.22 352.66h0.6M155.85 357.77h0.6M166.44 352.8h0.6M158.06 358.16h0.6M159.89 354.08h0.6M147.85 350.76h0.6M169.02 356.01h0.6M158.6 351.28h0.6M152.33 351.04h0.6M169.55 351.53h0.6M161.37 353.38h0.6M149.28 353.46h0.6M161.22 355.44h0.6M162.55 351.7h0.6M147.76 349.6h0.6M164.84 355.48h0.6M156.41 353.55h0.6M163.5 352.03h0.6M162.89 350.48h0.6M163.99 350.98h0.6M169.63 352.77h0.6M161.58 354.41h0.6M171.66 353.29h0.6M151.95 348.65h0.6M167.42 355.59h0.6M162.48 352.46h0.6M148.44 351.72h0.6M171.38 352.75h0.6M147.27 351.76h0.6M152.25 354.29h0.6M163.47 351.67h0.6M170.19 348.45h0.6M152.84 347.69h0.6M149.99 357.18h0.6M148.7 353.04h0.6M171.3 352.05h0.6M166.98 350.76h0.6M150.23 351.18h0.6M166.46 352.4h0.6M169.13 352.66h0.6M168.14 352.41h0.6M160.45 353.93h0.6M162.12 349.52h0.6M161.46 352.84h0.6M147.41 351.43h0.6M160.18 351.78h0.6M146.2 355.22h0.6M165.37 357.71h0.6M167.1 353.29h0.6M157.91 355.42h0.6M151.39 355.32h0.6M157.16 358.4h0.6M160.2 357.4h0.6M155.17 356.26h0.6M168.09 355.02h0.6M168.06 354.65h0.6M153.87 354.09h0.6M165.82 354.79h0.6M171.44 355.56h0.6M165.99 353.6h0.6M148.96 352.55h0.6M164 349.74h0.6M157.85 350.53h0.6M156.59 349.4h0.6M169.83 349.9h0.6M165.05 354.28h0.6M167.77 346.58h0.6M164.63 356.65h0.6M168.1 353.31h0.6M157.2 353.77h0.6M170.51 351.28h0.6M157.49 351.92h0.6M153.81 350.44h0.6M155.06 351.94h0.6M157.51 353.62h0.6M171.5 348.82h0.6M165.82 347.15h0.6M167.76 357.18h0.6M153.13 352.33h0.6M152.49 352.01h0.6M152 352.8h0.6M169.04 354.7h0.6M166.03 351.31h0.6M166.15 356.33h0.6M159.83 349.32h0.6M148.73 353.61h0.6M162.3 350.34h0.6M155.55 345.43h0.6M150.19 350.81h0.6M159.8 350.45h0.6M170.39 349.68h0.6M156.6 356.17h0.6M171.15 350.29h0.6M193.82 353.21h0.6M190.98 363.7h0.6M194.31 351.4h0.6M190.62 333.27h0.6M193.55 356.76h0.6M190.76 342.52h0.6M192.19 340.97h0.6M192.32 355.63h0.6M196.23 352.59h0.6M192.81 355.5h0.6M195.94 349.08h0.6M189.11 346.25h0.6M189.03 345.67h0.6M191.99 353.06h0.6M192.71 351.42h0.6M191.37 353.54h0.6M194.6 355.56h0.6M196.19 349.26h0.6M191.65 361.17h0.6M192.82 353.48h0.6M191.43 356.81h0.6M191.25 344.95h0.6M192.14 348.35h0.6M194.47 348.73h0.6M192.62 349.7h0.6M193.18 347.22h0.6M195.17 342.46h0.6M191.3 346.75h0.6M193.98 351.24h0.6M193.56 349.02h0.6M190.43 344.28h0.6M191.43 347.79h0.6M193.03 353.13h0.6M194.84 350.36h0.6M190.35 344.63h0.6M192.46 353.17h0.6M197.37 352.09h0.6M196.87 362.24h0.6M189.57 358.26h0.6M195.26 359.07h0.6M192.27 356.73h0.6M191.05 350.58h0.6M192.35 361.7h0.6M191.74 356.73h0.6M192.47 346.75h0.6M192.93 354.96h0.6M190.45 354.81h0.6M190.45 345.74h0.6M192.87 349.59h0.6M189.75 341.22h0.6M192.36 352.46h0.6M191.11 352.12h0.6M188.33 353.36h0.6M193.38 352.67h0.6M190.71 351.48h0.6M192.64 357.42h0.6M193.02 352.52h0.6M190.42 356.17h0.6M195.35 348.04h0.6M193.96 352.85h0.6M192.18 343.29h0.6M196.87 339.81h0.6M193.09 348.74h0.6M195.28 348.46h0.6M192.4 354.66h0.6M193.49 347.88h0.6M194.07 353.35h0.6M194.87 347.94h0.6M192.18 348.66h0.6M190.12 352.53h0.6M193.36 359.5h0.6M191.46 353.32h0.6M195.27 350.32h0.6M192.46 351.8h0.6M190.51 345.09h0.6M195.2 352.04h0.6M192.11 343.57h0.6M192.61 358.02h0.6M189.32 345.67h0.6M195.17 359.56h0.6M196.32 347.7h0.6M193.85 346.51h0.6M193.65 348.82h0.6M192.81 359.01h0.6M193.18 349.56h0.6M192.44 352.59h0.6M190.97 352.23h0.6M193.85 360.31h0.6M186.97 343.9h0.6M189.1 356.23h0.6M198.61 352.16h0.6M192.61 357.79h0.6M185.99 349.93h0.6M184.25 351.92h0.6M190.99 348.11h0.6M193.18 347.52h0.6M195.17 350.98h0.6M193.28 366.13h0.6M191.14 356.52h0.6M190.16 358.43h0.6M194.79 351.83h0.6M194.86 360.58h0.6M195.86 351.01h0.6M192.16 357.59h0.6M188.51 347.41h0.6M193.55 354.39h0.6M197.1 361.47h0.6M193.14 353.63h0.6M188.9 349.9h0.6M192.97 349.66h0.6M192.45 354.62h0.6M189.85 347.63h0.6M187.72 357.8h0.6M189.58 340.88h0.6M194.28 349.73h0.6M194.79 348.81h0.6M197.77 355.24h0.6M192.69 351.69h0.6M191.77 355.8h0.6M197.44 348.49h0.6M189.5 354.55h0.6M195.04 342.15h0.6M190.52 345.09h0.6M193.74 354h0.6M190.41 344.32h0.6M194.05 338.81h0.6M193.95 350.08h0.6M197.23 356.89h0.6M190.81 349.38h0.6M191.59 346.69h0.6M192.51 356.71h0.6M188.43 349.65h0.6M196.13 355.39h0.6M190.21 346.23h0.6M190.11 341.5h0.6M195.25 351.41h0.6M190.51 342.52h0.6M191.32 347.97h0.6M196.71 348.28h0.6M192.6 357.33h0.6M194.01 349.93h0.6M186.71 359.28h0.6M193.83 348.44h0.6M192.07 345.36h0.6M190 342.24h0.6M193.58 354.06h0.6M192.75 355.6h0.6M193.67 351.72h0.6M190.04 354.49h0.6M195.33 354.72h0.6M195.49 348.21h0.6M189.8 358.38h0.6M190.81 352.43h0.6M191.81 351.13h0.6M191.61 347.82h0.6M187.75 362.23h0.6M192.82 339.66h0.6M189.99 344.37h0.6M190.41 336h0.6M193.77 360.65h0.6M191.67 355.38h0.6M193.83 343.67h0.6M195.41 341.08h0.6M190.83 348.89h0.6M195.5 351.7h0.6M191.98 346.27h0.6M192.53 351.25h0.6M194.16 359.2h0.6M194.18 351.11h0.6M191.91 360.41h0.6M192.81 350.9h0.6M196.87 360.22h0.6M193.75 350.36h0.6M190.69 357.27h0.6M191.15 356.64h0.6M190.31 351.62h0.6M193.32 351.85h0.6M192.9 353.24h0.6M189.44 344.49h0.6M191.93 361.59h0.6M191.98 345.56h0.6M190.62 351.2h0.6M195.31 347.68h0.6M193.73 352.1h0.6M191.4 345.46h0.6M191.91 346.76h0.6M193.67 340.67h0.6M195.17 355.45h0.6M193.77 359.78h0.6M193.83 340.98h0.6M192.44 353.64h0.6M190.56 344.37h0.6M193.4 354h0.6M191.22 349.58h0.6M191.01 347.68h0.6M192.15 357.29h0.6M188.22 349.01h0.6M196.4 352.86h0.6M192.69 355.89h0.6M189.76 343.92h0.6M188.09 342.47h0.6M192.93 355.97h0.6M191.24 347.02h0.6M193.32 354.59h0.6M192.95 339.86h0.6M190.92 336.19h0.6M192.92 346.03h0.6M190.64 359.79h0.6M195.65 353.82h0.6M193 352.01h0.6M190.82 350.7h0.6M197.14 345.88h0.6M190.62 351.95h0.6M194.56 355.87h0.6M189.85 350.24h0.6M191.63 343.8h0.6M192.5 348.19h0.6M194.63 353.53h0.6M190.33 351.47h0.6M191.4 347.29h0.6M191.07 357.21h0.6M191.25 341h0.6M190.34 355.71h0.6M197.74 344.85h0.6M191.4 349.08h0.6M188.74 353.34h0.6M192.17 352.63h0.6M197.96 349.45h0.6M194.31 355.87h0.6M190.69 347.55h0.6M196.24 355.17h0.6M192.66 344.62h0.6M194.53 354.08h0.6M197.86 359.6h0.6M194.33 352.56h0.6M192.46 347.79h0.6M193.08 352.43h0.6M193.95 357.34h0.6M193.09 347.83h0.6M194.34 360.06h0.6M190.19 353.45h0.6M193.69 354.13h0.6M193.58 350.47h0.6M192.04 360.84h0.6M196.68 342.83h0.6M185.89 353.56h0.6M190.6 347.99h0.6M188.27 353.06h0.6M192.16 347.85h0.6M194.57 365.18h0.6M196.03 357.85h0.6M191.26 354.84h0.6M192.21 357.75h0.6M193.77 350.8h0.6M193.7 346.82h0.6M194.3 359.77h0.6M191.39 354.24h0.6M188.09 356.46h0.6M194.52 345.05h0.6M196.71 351.67h0.6M187.93 343.02h0.6M194.51 349.41h0.6M195.09 341.97h0.6M192.05 356.7h0.6M190.59 354.97h0.6M191.39 353.01h0.6M193.12 364.02h0.6M189.17 355.54h0.6M195.62 344.45h0.6M192.51 364.46h0.6M194.95 333.71h0.6M191.7 341.03h0.6M193.07 346.77h0.6M190.88 346.12h0.6M193.04 348.28h0.6M190.02 349.68h0.6M193.33 346.01h0.6M195.11 341.32h0.6M193.33 348.73h0.6M196.27 347.25h0.6M190.62 343.18h0.6M197.32 354.6h0.6M189.56 349.04h0.6M189.88 359.88h0.6M193.36 339.13h0.6M192.83 356.34h0.6M192.3 353.76h0.6M192.02 352.22h0.6M192.84 346.88h0.6M193.18 351.96h0.6M192.2 347.02h0.6M189.74 352.44h0.6M194.39 336.91h0.6M190.95 358.89h0.6M194.61 346.84h0.6M195.72 345.25h0.6M190.31 362.31h0.6M191.2 349.74h0.6M188.13 345.11h0.6M189.33 350.2h0.6M187.66 357.2h0.6M191.4 347.47h0.6M190.7 355.34h0.6M196.18 348.62h0.6M196.38 360.4h0.6M195.69 352.74h0.6M188.53 354.93h0.6M191.27 352.13h0.6M187.54 349.35h0.6M192.89 345.53h0.6M193.04 360.77h0.6M192.88 347h0.6M198.33 338.43h0.6M189.97 353.38h0.6M190.8 337.61h0.6M192.96 355.85h0.6M190.29 359.56h0.6M193.56 357.96h0.6M188.44 350.98h0.6M196.35 362.78h0.6M195.64 351h0.6M192.76 347.33h0.6M195.08 346.94h0.6M192.61 338.94h0.6M188.49 361.4h0.6M192.45 352.26h0.6M186.74 350.81h0.6M197.55 342.25h0.6M186.27 350.06h0.6M190.95 349.77h0.6M189.11 343.06h0.6M189.17 354.75h0.6M192.18 355.81h0.6M189.56 354.46h0.6M191.18 351.52h0.6M194.67 351.19h0.6M191.41 341.25h0.6M192.46 355.6h0.6M190.69 350.61h0.6M187.81 343.17h0.6M193.33 358.6h0.6M191.51 341.19h0.6M191.33 341.82h0.6M191.6 362.34h0.6M193.06 350.11h0.6M194.94 348.77h0.6M193.15 352.18h0.6M193.44 342.36h0.6M194.11 356.19h0.6M186.49 335.04h0.6M190.02 359.78h0.6M192.35 354.99h0.6M193.71 356.23h0.6M190.67 347.55h0.6M193.26 354.58h0.6M193.77 353h0.6M191.06 357.51h0.6M193.5 357.27h0.6M185.81 356.95h0.6M186.06 352.25h0.6M190.6 351.71h0.6M191.08 349.17h0.6M192.79 353.05h0.6M190.26 336.06h0.6M190.3 354.2h0.6M190.14 353.53h0.6M191.36 345.43h0.6M195.29 360.8h0.6M192.04 350.7h0.6M194.76 343.14h0.6M190.06 357.7h0.6M194.61 348.08h0.6M190.31 353.08h0.6M188.69 348.04h0.6M191.7 336.41h0.6M193.82 355.53h0.6M195.04 342.47h0.6M189 346.16h0.6M188.94 363.19h0.6M189.79 349.14h0.6M192.01 336.81h0.6M195.09 330.69h0.6M193.68 335.59h0.6M188.6 335.6h0.6M188.03 341.43h0.6M189.69 338.99h0.6M194.72 332.55h0.6M189.28 335.52h0.6M188.9 338.57h0.6M191.94 331.97h0.6M189.8 337.88h0.6M187.9 341.71h0.6M189.55 334.22h0.6M189.2 341.45h0.6M193.55 340.17h0.6M193.12 335.36h0.6M195.71 337.64h0.6M192.59 337.29h0.6M193.33 336.11h0.6M191.09 328.65h0.6M196.62 329.82h0.6M186.14 332.16h0.6M196.31 339.86h0.6M190 336.05h0.6M191.44 327.09h0.6M190.67 336.16h0.6M194.42 330.2h0.6M185.88 328.72h0.6M192.32 335.32h0.6M191.87 335.59h0.6M190.59 329.55h0.6M192.63 336.54h0.6M192.94 339.98h0.6M188.41 325.66h0.6M187.05 343.54h0.6M189.22 336.59h0.6M191.46 337.91h0.6M199.52 332.94h0.6M191.08 332.61h0.6M192.11 337.08h0.6M189.08 340.27h0.6M194.36 336.78h0.6M191.22 334.05h0.6M187.39 337.62h0.6M189.06 332.99h0.6M193.99 331.32h0.6M190.2 338.43h0.6M196.14 332.24h0.6M194.26 332.38h0.6M192.47 336.94h0.6M188.65 339.1h0.6M196 335.21h0.6M192.17 330.31h0.6M195.97 335.25h0.6M188.31 338.06h0.6M187.85 332.25h0.6M186.17 340.5h0.6M197.03 332.46h0.6M189.87 332.69h0.6M190.09 337.22h0.6M195.15 330.97h0.6M192.6 327.79h0.6M195.31 334.65h0.6M189.75 341.12h0.6M191.24 340.48h0.6M194.19 341.63h0.6M189.5 335.23h0.6M192.42 334.22h0.6M195.31 332.14h0.6M194.01 340.45h0.6M186.62 331.12h0.6M189.24 332.82h0.6M192.48 334.3h0.6M191.7 333.16h0.6M191.3 336.94h0.6M193.36 331.87h0.6M191.22 331.95h0.6M191.05 329.26h0.6M193.89 337.69h0.6M191.19 332.26h0.6M190.36 332.34h0.6M187.64 341.53h0.6M199.72 330.08h0.6M188.58 337.31h0.6M193.01 328.71h0.6M186.7 337.17h0.6M186.52 340.69h0.6M190.26 335.34h0.6M191.49 332.76h0.6M191.14 333.8h0.6M194.61 334.63h0.6M191.42 332.88h0.6M189.91 332.05h0.6M191.53 342.35h0.6M194.29 335.95h0.6M195.67 339.06h0.6M192.02 334.34h0.6M188.76 335.99h0.6M190.71 328.66h0.6M188.29 342.75h0.6M192.04 336.99h0.6M192 333.14h0.6M192.65 339.33h0.6M190.73 337.05h0.6M194.06 333.07h0.6M191.92 332.04h0.6M193.01 333.52h0.6M194.37 331.94h0.6M195.72 333.76h0.6M189.4 331.38h0.6M193.16 331.58h0.6M196.01 340.13h0.6M192.8 329.31h0.6M191.44 332.1h0.6M186.97 336.7h0.6M197 332.86h0.6M193.52 340.14h0.6M189.1 333.64h0.6M192.17 336.89h0.6M188.64 335.87h0.6M185.09 347.58h0.6M194.48 354.76h0.6M191.2 355.37h0.6M186.99 358.1h0.6M198.24 353.19h0.6M191.06 350.75h0.6M198.37 347.22h0.6M185.96 354.33h0.6M180.54 351.58h0.6M185.4 352.97h0.6M191.96 342.02h0.6M193.02 347.25h0.6M186.88 356.39h0.6M190.32 349.23h0.6M196.39 349.18h0.6M191.49 347.69h0.6M185.71 353.94h0.6M198.48 350.43h0.6M181.22 356.07h0.6M183.91 351.31h0.6M189.64 356.61h0.6M192.71 356.15h0.6M193 362.15h0.6M192.89 345.46h0.6M193.55 352.27h0.6M188.1 351.01h0.6M198.41 349h0.6M180.17 355.78h0.6M187.9 355.37h0.6M195.66 347.93h0.6M180.25 351.74h0.6M195.81 353.4h0.6M181.93 353.87h0.6M196.73 349.69h0.6M189.8 346.36h0.6M187.7 360.33h0.6M193.25 357.87h0.6M198.64 354.09h0.6M182.1 350.93h0.6M182.81 347.82h0.6M186.92 345.79h0.6M198.88 342.57h0.6M198.88 346.84h0.6M183.06 346.93h0.6M193.8 347.42h0.6M197.1 349.81h0.6M184.85 352.48h0.6M182.84 352.82h0.6M191.18 351.74h0.6M189.55 348.76h0.6M190.91 347.17h0.6M190.33 349.47h0.6M180.29 354.92h0.6M184.5 352.5h0.6M194.38 351.38h0.6M184.59 358.45h0.6M181.76 347.08h0.6M186.37 351.56h0.6M194.54 352.03h0.6M195.86 356.87h0.6M188.6 341.93h0.6M191.48 350.82h0.6M183.44 352.5h0.6M186.3 351.7h0.6M181.69 348.51h0.6M185.86 347.62h0.6M189.73 353.76h0.6M182.94 349.84h0.6M185.8 347.05h0.6M193.42 358.84h0.6M188.15 351.61h0.6M182.33 352.05h0.6M196.1 349.6h0.6M191.88 349.13h0.6M181.11 347.39h0.6M181.95 350.84h0.6M194.11 350.01h0.6M183.19 346.32h0.6M192.72 345.62h0.6M181.74 353.39h0.6M197.15 353.84h0.6M187.57 351.06h0.6M183.77 356.2h0.6M198.88 354.2h0.6M186.36 350.39h0.6M184.23 356.93h0.6M187.61 349.4h0.6M182.96 347.07h0.6M181.34 339.22h0.6M197.48 347.74h0.6M181.9 346.37h0.6M183.69 350.93h0.6M192.73 343.73h0.6M185.55 351.2h0.6M197.74 352.79h0.6M182.68 346.84h0.6M189.19 355.25h0.6M193.25 355.36h0.6M190.98 352.2h0.6M193.59 350.82h0.6" stroke="#2f52ff" stroke-width="0.6" opacity="0.7" fill="none"/>
<g filter="url(#bl2)">
<ellipse cx="192.4" cy="351.5" rx="3.2" ry="6.2" fill="#25c8e0" opacity="0.7"/>
<ellipse cx="192.5" cy="352" rx="2.4" ry="4.6" fill="#5cd020"/>
<ellipse cx="192.6" cy="352" rx="1.6" ry="3.2" fill="#e8d000"/>
<ellipse cx="192.7" cy="352.2" rx="1.0" ry="2.0" fill="#f03000"/>
</g>
</g>
<rect x="136.8" y="301.3" width="73.8" height="72.9" fill="none" stroke="#3a3a3a" stroke-width="1.1"/>
<line x1="173.9" y1="301.3" x2="173.9" y2="374.2" stroke="#333" stroke-width="1.1" />
<line x1="136.8" y1="344.3" x2="210.6" y2="344.3" stroke="#333" stroke-width="1.1" />
<line x1="134.2" y1="307.6" x2="136.8" y2="307.6" stroke="#3a3a3a" stroke-width="0.9" />
<text x="131.4" y="311.26" font-size="8.5" fill="#262626" text-anchor="end" >10<tspan dy="-2.9" font-size="0.74em">5</tspan></text>
<line x1="135.5" y1="317.87" x2="136.8" y2="317.87" stroke="#3a3a3a" stroke-width="0.6" />
<line x1="135.5" y1="315.29" x2="136.8" y2="315.29" stroke="#3a3a3a" stroke-width="0.6" />
<line x1="135.5" y1="313.45" x2="136.8" y2="313.45" stroke="#3a3a3a" stroke-width="0.6" />
<line x1="135.5" y1="312.03" x2="136.8" y2="312.03" stroke="#3a3a3a" stroke-width="0.6" />
<line x1="135.5" y1="310.86" x2="136.8" y2="310.86" stroke="#3a3a3a" stroke-width="0.6" />
<line x1="135.5" y1="309.88" x2="136.8" y2="309.88" stroke="#3a3a3a" stroke-width="0.6" />
<line x1="135.5" y1="309.02" x2="136.8" y2="309.02" stroke="#3a3a3a" stroke-width="0.6" />
<line x1="135.5" y1="308.27" x2="136.8" y2="308.27" stroke="#3a3a3a" stroke-width="0.6" />
<line x1="134.2" y1="322.3" x2="136.8" y2="322.3" stroke="#3a3a3a" stroke-width="0.9" />
<text x="131.4" y="325.96" font-size="8.5" fill="#262626" text-anchor="end" >10<tspan dy="-2.9" font-size="0.74em">4</tspan></text>
<line x1="135.5" y1="332.57" x2="136.8" y2="332.57" stroke="#3a3a3a" stroke-width="0.6" />
<line x1="135.5" y1="329.99" x2="136.8" y2="329.99" stroke="#3a3a3a" stroke-width="0.6" />
<line x1="135.5" y1="328.15" x2="136.8" y2="328.15" stroke="#3a3a3a" stroke-width="0.6" />
<line x1="135.5" y1="326.73" x2="136.8" y2="326.73" stroke="#3a3a3a" stroke-width="0.6" />
<line x1="135.5" y1="325.56" x2="136.8" y2="325.56" stroke="#3a3a3a" stroke-width="0.6" />
<line x1="135.5" y1="324.58" x2="136.8" y2="324.58" stroke="#3a3a3a" stroke-width="0.6" />
<line x1="135.5" y1="323.72" x2="136.8" y2="323.72" stroke="#3a3a3a" stroke-width="0.6" />
<line x1="135.5" y1="322.97" x2="136.8" y2="322.97" stroke="#3a3a3a" stroke-width="0.6" />
<line x1="134.2" y1="337" x2="136.8" y2="337" stroke="#3a3a3a" stroke-width="0.9" />
<text x="131.4" y="340.66" font-size="8.5" fill="#262626" text-anchor="end" >10<tspan dy="-2.9" font-size="0.74em">3</tspan></text>
<line x1="135.5" y1="347.27" x2="136.8" y2="347.27" stroke="#3a3a3a" stroke-width="0.6" />
<line x1="135.5" y1="344.69" x2="136.8" y2="344.69" stroke="#3a3a3a" stroke-width="0.6" />
<line x1="135.5" y1="342.85" x2="136.8" y2="342.85" stroke="#3a3a3a" stroke-width="0.6" />
<line x1="135.5" y1="341.43" x2="136.8" y2="341.43" stroke="#3a3a3a" stroke-width="0.6" />
<line x1="135.5" y1="340.26" x2="136.8" y2="340.26" stroke="#3a3a3a" stroke-width="0.6" />
<line x1="135.5" y1="339.28" x2="136.8" y2="339.28" stroke="#3a3a3a" stroke-width="0.6" />
<line x1="135.5" y1="338.42" x2="136.8" y2="338.42" stroke="#3a3a3a" stroke-width="0.6" />
<line x1="135.5" y1="337.67" x2="136.8" y2="337.67" stroke="#3a3a3a" stroke-width="0.6" />
<line x1="134.2" y1="351.7" x2="136.8" y2="351.7" stroke="#3a3a3a" stroke-width="0.9" />
<text x="131.4" y="355.36" font-size="8.5" fill="#262626" text-anchor="end" >10<tspan dy="-2.9" font-size="0.74em">2</tspan></text>
<line x1="135.5" y1="361.97" x2="136.8" y2="361.97" stroke="#3a3a3a" stroke-width="0.6" />
<line x1="135.5" y1="359.39" x2="136.8" y2="359.39" stroke="#3a3a3a" stroke-width="0.6" />
<line x1="135.5" y1="357.55" x2="136.8" y2="357.55" stroke="#3a3a3a" stroke-width="0.6" />
<line x1="135.5" y1="356.13" x2="136.8" y2="356.13" stroke="#3a3a3a" stroke-width="0.6" />
<line x1="135.5" y1="354.96" x2="136.8" y2="354.96" stroke="#3a3a3a" stroke-width="0.6" />
<line x1="135.5" y1="353.98" x2="136.8" y2="353.98" stroke="#3a3a3a" stroke-width="0.6" />
<line x1="135.5" y1="353.12" x2="136.8" y2="353.12" stroke="#3a3a3a" stroke-width="0.6" />
<line x1="135.5" y1="352.37" x2="136.8" y2="352.37" stroke="#3a3a3a" stroke-width="0.6" />
<line x1="134.2" y1="366.4" x2="136.8" y2="366.4" stroke="#3a3a3a" stroke-width="0.9" />
<text x="131.4" y="370.06" font-size="8.5" fill="#262626" text-anchor="end" >10<tspan dy="-2.9" font-size="0.74em">1</tspan></text>
<line x1="135.5" y1="374.09" x2="136.8" y2="374.09" stroke="#3a3a3a" stroke-width="0.6" />
<line x1="135.5" y1="372.25" x2="136.8" y2="372.25" stroke="#3a3a3a" stroke-width="0.6" />
<line x1="135.5" y1="370.83" x2="136.8" y2="370.83" stroke="#3a3a3a" stroke-width="0.6" />
<line x1="135.5" y1="369.66" x2="136.8" y2="369.66" stroke="#3a3a3a" stroke-width="0.6" />
<line x1="135.5" y1="368.68" x2="136.8" y2="368.68" stroke="#3a3a3a" stroke-width="0.6" />
<line x1="135.5" y1="367.82" x2="136.8" y2="367.82" stroke="#3a3a3a" stroke-width="0.6" />
<line x1="135.5" y1="367.07" x2="136.8" y2="367.07" stroke="#3a3a3a" stroke-width="0.6" />
<line x1="136.8" y1="374.2" x2="136.8" y2="376.6" stroke="#3a3a3a" stroke-width="0.9" />
<text x="137.2" y="388.26" font-size="8.5" fill="#262626" text-anchor="middle" >10<tspan dy="-2.9" font-size="0.74em">1</tspan></text>
<line x1="141.35" y1="374.2" x2="141.35" y2="375.5" stroke="#3a3a3a" stroke-width="0.6" />
<line x1="144" y1="374.2" x2="144" y2="375.5" stroke="#3a3a3a" stroke-width="0.6" />
<line x1="145.89" y1="374.2" x2="145.89" y2="375.5" stroke="#3a3a3a" stroke-width="0.6" />
<line x1="147.35" y1="374.2" x2="147.35" y2="375.5" stroke="#3a3a3a" stroke-width="0.6" />
<line x1="148.55" y1="374.2" x2="148.55" y2="375.5" stroke="#3a3a3a" stroke-width="0.6" />
<line x1="149.56" y1="374.2" x2="149.56" y2="375.5" stroke="#3a3a3a" stroke-width="0.6" />
<line x1="150.44" y1="374.2" x2="150.44" y2="375.5" stroke="#3a3a3a" stroke-width="0.6" />
<line x1="151.21" y1="374.2" x2="151.21" y2="375.5" stroke="#3a3a3a" stroke-width="0.6" />
<line x1="151.9" y1="374.2" x2="151.9" y2="376.6" stroke="#3a3a3a" stroke-width="0.9" />
<text x="152.3" y="388.26" font-size="8.5" fill="#262626" text-anchor="middle" >10<tspan dy="-2.9" font-size="0.74em">2</tspan></text>
<line x1="156.45" y1="374.2" x2="156.45" y2="375.5" stroke="#3a3a3a" stroke-width="0.6" />
<line x1="159.1" y1="374.2" x2="159.1" y2="375.5" stroke="#3a3a3a" stroke-width="0.6" />
<line x1="160.99" y1="374.2" x2="160.99" y2="375.5" stroke="#3a3a3a" stroke-width="0.6" />
<line x1="162.45" y1="374.2" x2="162.45" y2="375.5" stroke="#3a3a3a" stroke-width="0.6" />
<line x1="163.65" y1="374.2" x2="163.65" y2="375.5" stroke="#3a3a3a" stroke-width="0.6" />
<line x1="164.66" y1="374.2" x2="164.66" y2="375.5" stroke="#3a3a3a" stroke-width="0.6" />
<line x1="165.54" y1="374.2" x2="165.54" y2="375.5" stroke="#3a3a3a" stroke-width="0.6" />
<line x1="166.31" y1="374.2" x2="166.31" y2="375.5" stroke="#3a3a3a" stroke-width="0.6" />
<line x1="166.9" y1="374.2" x2="166.9" y2="376.6" stroke="#3a3a3a" stroke-width="0.9" />
<text x="167.3" y="388.26" font-size="8.5" fill="#262626" text-anchor="middle" >10<tspan dy="-2.9" font-size="0.74em">3</tspan></text>
<line x1="171.45" y1="374.2" x2="171.45" y2="375.5" stroke="#3a3a3a" stroke-width="0.6" />
<line x1="174.1" y1="374.2" x2="174.1" y2="375.5" stroke="#3a3a3a" stroke-width="0.6" />
<line x1="175.99" y1="374.2" x2="175.99" y2="375.5" stroke="#3a3a3a" stroke-width="0.6" />
<line x1="177.45" y1="374.2" x2="177.45" y2="375.5" stroke="#3a3a3a" stroke-width="0.6" />
<line x1="178.65" y1="374.2" x2="178.65" y2="375.5" stroke="#3a3a3a" stroke-width="0.6" />
<line x1="179.66" y1="374.2" x2="179.66" y2="375.5" stroke="#3a3a3a" stroke-width="0.6" />
<line x1="180.54" y1="374.2" x2="180.54" y2="375.5" stroke="#3a3a3a" stroke-width="0.6" />
<line x1="181.31" y1="374.2" x2="181.31" y2="375.5" stroke="#3a3a3a" stroke-width="0.6" />
<line x1="181.9" y1="374.2" x2="181.9" y2="376.6" stroke="#3a3a3a" stroke-width="0.9" />
<text x="182.3" y="388.26" font-size="8.5" fill="#262626" text-anchor="middle" >10<tspan dy="-2.9" font-size="0.74em">4</tspan></text>
<line x1="186.45" y1="374.2" x2="186.45" y2="375.5" stroke="#3a3a3a" stroke-width="0.6" />
<line x1="189.1" y1="374.2" x2="189.1" y2="375.5" stroke="#3a3a3a" stroke-width="0.6" />
<line x1="190.99" y1="374.2" x2="190.99" y2="375.5" stroke="#3a3a3a" stroke-width="0.6" />
<line x1="192.45" y1="374.2" x2="192.45" y2="375.5" stroke="#3a3a3a" stroke-width="0.6" />
<line x1="193.65" y1="374.2" x2="193.65" y2="375.5" stroke="#3a3a3a" stroke-width="0.6" />
<line x1="194.66" y1="374.2" x2="194.66" y2="375.5" stroke="#3a3a3a" stroke-width="0.6" />
<line x1="195.54" y1="374.2" x2="195.54" y2="375.5" stroke="#3a3a3a" stroke-width="0.6" />
<line x1="196.31" y1="374.2" x2="196.31" y2="375.5" stroke="#3a3a3a" stroke-width="0.6" />
<line x1="196.9" y1="374.2" x2="196.9" y2="376.6" stroke="#3a3a3a" stroke-width="0.9" />
<text x="197.3" y="388.26" font-size="8.5" fill="#262626" text-anchor="middle" >10<tspan dy="-2.9" font-size="0.74em">5</tspan></text>
<text x="142" y="310.74" font-size="7.6" fill="#262626" >0.012</text>
<text x="209.6" y="310.74" font-size="7.6" fill="#262626" text-anchor="end" >6.54</text>
<text x="137.6" y="370.74" font-size="7.6" fill="#262626" >6.78</text>
<text x="209.6" y="372.24" font-size="7.6" fill="#262626" text-anchor="end" >86.7</text>
<text transform="translate(15 338) rotate(-90)" x="0" y="0" font-size="9.6" fill="#262626" text-anchor="middle" textLength="6.2" lengthAdjust="spacingAndGlyphs" >PI</text>
<line x1="12.5" y1="398" x2="12.5" y2="366" stroke="#222" stroke-width="1" />
<path d="M12.5 362.3 L9.9 367.6 L15.1 367.6 Z" fill="#222"/>
<line x1="12" y1="397.9" x2="47" y2="397.9" stroke="#222" stroke-width="1" />
<path d="M51.2 397.9 L45.9 395.3 L45.9 400.5 Z" fill="#222"/>
<text x="58.7" y="401.28" font-size="9.4" fill="#262626" textLength="33.6" lengthAdjust="spacingAndGlyphs" >Annexin V</text>
<text x="173.8" y="401.28" font-size="9.4" fill="#262626" text-anchor="middle" textLength="33.6" lengthAdjust="spacingAndGlyphs" >Annexin V</text>
<line x1="249.8" y1="302" x2="249.8" y2="375" stroke="#3a3a3a" stroke-width="1.3" />
<line x1="249.2" y1="374.5" x2="367" y2="374.5" stroke="#3a3a3a" stroke-width="1.3" />
<line x1="246.9" y1="374.5" x2="249.8" y2="374.5" stroke="#3a3a3a" stroke-width="1" />
<text x="243.8" y="377.31" font-size="7.8" fill="#262626" text-anchor="end" >0</text>
<line x1="246.9" y1="360.4" x2="249.8" y2="360.4" stroke="#3a3a3a" stroke-width="1" />
<text x="243.8" y="363.21" font-size="7.8" fill="#262626" text-anchor="end" >20</text>
<line x1="246.9" y1="346.3" x2="249.8" y2="346.3" stroke="#3a3a3a" stroke-width="1" />
<text x="243.8" y="349.11" font-size="7.8" fill="#262626" text-anchor="end" >40</text>
<line x1="246.9" y1="332.2" x2="249.8" y2="332.2" stroke="#3a3a3a" stroke-width="1" />
<text x="243.8" y="335.01" font-size="7.8" fill="#262626" text-anchor="end" >60</text>
<line x1="246.9" y1="318.1" x2="249.8" y2="318.1" stroke="#3a3a3a" stroke-width="1" />
<text x="243.8" y="320.91" font-size="7.8" fill="#262626" text-anchor="end" >80</text>
<line x1="246.9" y1="304" x2="249.8" y2="304" stroke="#3a3a3a" stroke-width="1" />
<text x="243.8" y="306.81" font-size="7.8" fill="#262626" text-anchor="end" >100</text>
<line x1="250.4" y1="374.5" x2="250.4" y2="376.9" stroke="#3a3a3a" stroke-width="1" />
<line x1="287.6" y1="374.5" x2="287.6" y2="376.9" stroke="#3a3a3a" stroke-width="1" />
<line x1="328.4" y1="374.5" x2="328.4" y2="376.9" stroke="#3a3a3a" stroke-width="1" />
<line x1="366.7" y1="374.5" x2="366.7" y2="376.9" stroke="#3a3a3a" stroke-width="1" />
<rect x="257.8" y="312.46" width="10.8" height="62.04" fill="#2b4a86" />
<line x1="257.8" y1="312.81" x2="268.6" y2="312.81" stroke="#0c2560" stroke-width="0.7" />
<line x1="263.2" y1="310.91" x2="263.2" y2="314.01" stroke="#1a1a1a" stroke-width="0.9" />
<line x1="261.9" y1="310.91" x2="264.5" y2="310.91" stroke="#1a1a1a" stroke-width="0.9" />
<line x1="261.9" y1="314.01" x2="264.5" y2="314.01" stroke="#1a1a1a" stroke-width="0.9" />
<rect x="268.6" y="369.56" width="10.8" height="4.93" fill="#ae0530" />
<line x1="268.6" y1="369.92" x2="279.4" y2="369.92" stroke="#80001c" stroke-width="0.7" />
<line x1="274" y1="368.51" x2="274" y2="370.62" stroke="#1a1a1a" stroke-width="0.9" />
<line x1="272.7" y1="368.51" x2="275.3" y2="368.51" stroke="#1a1a1a" stroke-width="0.9" />
<line x1="272.7" y1="370.62" x2="275.3" y2="370.62" stroke="#1a1a1a" stroke-width="0.9" />
<text x="274" y="367.39" font-size="8" fill="#222" text-anchor="middle" >***</text>
<rect x="297" y="369.56" width="10.8" height="4.93" fill="#2b4a86" />
<line x1="297" y1="369.92" x2="307.8" y2="369.92" stroke="#0c2560" stroke-width="0.7" />
<line x1="302.4" y1="368.86" x2="302.4" y2="370.27" stroke="#1a1a1a" stroke-width="0.9" />
<line x1="301.1" y1="368.86" x2="303.7" y2="368.86" stroke="#1a1a1a" stroke-width="0.9" />
<line x1="301.1" y1="370.27" x2="303.7" y2="370.27" stroke="#1a1a1a" stroke-width="0.9" />
<rect x="307.8" y="314.57" width="10.8" height="59.92" fill="#ae0530" />
<line x1="307.8" y1="314.93" x2="318.6" y2="314.93" stroke="#80001c" stroke-width="0.7" />
<line x1="313.2" y1="314.01" x2="313.2" y2="315.14" stroke="#1a1a1a" stroke-width="0.9" />
<line x1="311.9" y1="314.01" x2="314.5" y2="314.01" stroke="#1a1a1a" stroke-width="0.9" />
<line x1="311.9" y1="315.14" x2="314.5" y2="315.14" stroke="#1a1a1a" stroke-width="0.9" />
<text x="313.2" y="312.89" font-size="8" fill="#222" text-anchor="middle" >***</text>
<rect x="336.2" y="372.38" width="10.8" height="2.11" fill="#2b4a86" />
<line x1="336.2" y1="372.74" x2="347" y2="372.74" stroke="#0c2560" stroke-width="0.7" />
<line x1="341.6" y1="371.54" x2="341.6" y2="373.23" stroke="#1a1a1a" stroke-width="0.9" />
<line x1="340.3" y1="371.54" x2="342.9" y2="371.54" stroke="#1a1a1a" stroke-width="0.9" />
<line x1="340.3" y1="373.23" x2="342.9" y2="373.23" stroke="#1a1a1a" stroke-width="0.9" />
<rect x="347" y="370.27" width="10.8" height="4.23" fill="#ae0530" />
<line x1="347" y1="370.62" x2="357.8" y2="370.62" stroke="#80001c" stroke-width="0.7" />
<line x1="352.4" y1="369.42" x2="352.4" y2="371.12" stroke="#1a1a1a" stroke-width="0.9" />
<line x1="351.1" y1="369.42" x2="353.7" y2="369.42" stroke="#1a1a1a" stroke-width="0.9" />
<line x1="351.1" y1="371.12" x2="353.7" y2="371.12" stroke="#1a1a1a" stroke-width="0.9" />
<text x="352.4" y="368.3" font-size="8" fill="#222" text-anchor="middle" >***</text>
<text transform="translate(224.9 339.4) rotate(-90)" x="0" y="0" font-size="9.6" fill="#262626" text-anchor="middle" textLength="30.1" lengthAdjust="spacingAndGlyphs" >Ratio (%)</text>
<text x="269.6" y="387.57" font-size="8.8" fill="#262626" text-anchor="middle" textLength="20.8" lengthAdjust="spacingAndGlyphs" >Living</text>
<text x="308.3" y="387.57" font-size="8.8" fill="#262626" text-anchor="middle" textLength="17.3" lengthAdjust="spacingAndGlyphs" >Early</text>
<text x="308.9" y="395.57" font-size="8.8" fill="#262626" text-anchor="middle" textLength="37" lengthAdjust="spacingAndGlyphs" >Apoptotic</text>
<text x="347.4" y="387.57" font-size="8.8" fill="#262626" text-anchor="middle" textLength="15.5" lengthAdjust="spacingAndGlyphs" >Late</text>
<text x="347.6" y="395.57" font-size="8.8" fill="#262626" text-anchor="middle" textLength="35.8" lengthAdjust="spacingAndGlyphs" >Apoptotic</text>
<rect x="332.5" y="302.8" width="5.2" height="5.2" fill="#2b4a86" />
<rect x="332.5" y="313.9" width="5.2" height="5.2" fill="#ae0530" />
<text x="340.9" y="308.24" font-size="7.9" fill="#262626" >DMSO</text>
<text x="340.9" y="319.34" font-size="7.9" fill="#262626" >JQ1 200 nM</text>
<text x="7.95" y="418.79" font-size="12.2" fill="#111" font-weight="bold" >E</text>
<line x1="38.9" y1="432.5" x2="38.9" y2="534.4" stroke="#3a3a3a" stroke-width="1.3" />
<line x1="38.3" y1="533.9" x2="168.7" y2="533.9" stroke="#3a3a3a" stroke-width="1.3" />
<line x1="35.8" y1="533.9" x2="38.9" y2="533.9" stroke="#3a3a3a" stroke-width="1" />
<text x="32.7" y="536.55" font-size="8.2" fill="#262626" text-anchor="end" >0</text>
<line x1="35.8" y1="514.25" x2="38.9" y2="514.25" stroke="#3a3a3a" stroke-width="1" />
<text x="32.7" y="516.9" font-size="8.2" fill="#262626" text-anchor="end" >1</text>
<line x1="35.8" y1="494.6" x2="38.9" y2="494.6" stroke="#3a3a3a" stroke-width="1" />
<text x="32.7" y="497.25" font-size="8.2" fill="#262626" text-anchor="end" >2</text>
<line x1="35.8" y1="474.95" x2="38.9" y2="474.95" stroke="#3a3a3a" stroke-width="1" />
<text x="32.7" y="477.6" font-size="8.2" fill="#262626" text-anchor="end" >3</text>
<line x1="35.8" y1="455.3" x2="38.9" y2="455.3" stroke="#3a3a3a" stroke-width="1" />
<text x="32.7" y="457.95" font-size="8.2" fill="#262626" text-anchor="end" >4</text>
<line x1="35.8" y1="435.65" x2="38.9" y2="435.65" stroke="#3a3a3a" stroke-width="1" />
<text x="32.7" y="438.3" font-size="8.2" fill="#262626" text-anchor="end" >5</text>
<line x1="54.5" y1="533.9" x2="54.5" y2="536.3" stroke="#3a3a3a" stroke-width="1" />
<text x="54.5" y="547.25" font-size="8.2" fill="#262626" text-anchor="middle" >0</text>
<line x1="86.4" y1="533.9" x2="86.4" y2="536.3" stroke="#3a3a3a" stroke-width="1" />
<text x="86.4" y="547.25" font-size="8.2" fill="#262626" text-anchor="middle" >1</text>
<line x1="118.3" y1="533.9" x2="118.3" y2="536.3" stroke="#3a3a3a" stroke-width="1" />
<text x="118.3" y="547.25" font-size="8.2" fill="#262626" text-anchor="middle" >2</text>
<line x1="150.2" y1="533.9" x2="150.2" y2="536.3" stroke="#3a3a3a" stroke-width="1" />
<text x="150.2" y="547.25" font-size="8.2" fill="#262626" text-anchor="middle" >3</text>
<line x1="166.9" y1="533.9" x2="166.9" y2="536.3" stroke="#3a3a3a" stroke-width="1" />
<text x="102.5" y="560.53" font-size="9.8" fill="#262626" text-anchor="middle" textLength="16.6" lengthAdjust="spacingAndGlyphs" >Days</text>
<text transform="translate(24.2 482.8) rotate(-90)" x="0" y="0" font-size="9.8" fill="#262626" text-anchor="middle" textLength="80.1" lengthAdjust="spacingAndGlyphs" >Cell number (×10<tspan dy="-2.9" font-size="0.74em">6</tspan> cells)</text>
<text x="104.5" y="427.96" font-size="9.6" fill="#262626" text-anchor="middle" >Trib1 hi</text>
<line x1="86.4" y1="527.22" x2="86.4" y2="528.79" stroke="#222" stroke-width="0.9" />
<line x1="84.9" y1="527.22" x2="87.9" y2="527.22" stroke="#222" stroke-width="0.9" />
<line x1="84.9" y1="528.79" x2="87.9" y2="528.79" stroke="#222" stroke-width="0.9" />
<line x1="118.3" y1="518.18" x2="118.3" y2="526.04" stroke="#222" stroke-width="0.9" />
<line x1="116.8" y1="518.18" x2="119.8" y2="518.18" stroke="#222" stroke-width="0.9" />
<line x1="116.8" y1="526.04" x2="119.8" y2="526.04" stroke="#222" stroke-width="0.9" />
<line x1="150.2" y1="495.19" x2="150.2" y2="501.08" stroke="#222" stroke-width="0.9" />
<line x1="148.7" y1="495.19" x2="151.7" y2="495.19" stroke="#222" stroke-width="0.9" />
<line x1="148.7" y1="501.08" x2="151.7" y2="501.08" stroke="#222" stroke-width="0.9" />
<polyline points="54.5,531.93 86.4,528 118.3,522.11 150.2,498.14" fill="none" stroke="#5bb035" stroke-width="1.15" stroke-linejoin="miter" />
<circle cx="54.5" cy="531.93" r="1.3" fill="#5bb035" />
<circle cx="86.4" cy="528" r="1.3" fill="#5bb035" />
<circle cx="118.3" cy="522.11" r="1.3" fill="#5bb035" />
<circle cx="150.2" cy="498.14" r="1.3" fill="#5bb035" />
<line x1="86.4" y1="525.45" x2="86.4" y2="527.42" stroke="#222" stroke-width="0.9" />
<line x1="84.9" y1="525.45" x2="87.9" y2="525.45" stroke="#222" stroke-width="0.9" />
<line x1="84.9" y1="527.42" x2="87.9" y2="527.42" stroke="#222" stroke-width="0.9" />
<line x1="118.3" y1="514.05" x2="118.3" y2="520.34" stroke="#222" stroke-width="0.9" />
<line x1="116.8" y1="514.05" x2="119.8" y2="514.05" stroke="#222" stroke-width="0.9" />
<line x1="116.8" y1="520.34" x2="119.8" y2="520.34" stroke="#222" stroke-width="0.9" />
<line x1="150.2" y1="482.22" x2="150.2" y2="487.33" stroke="#222" stroke-width="0.9" />
<line x1="148.7" y1="482.22" x2="151.7" y2="482.22" stroke="#222" stroke-width="0.9" />
<line x1="148.7" y1="487.33" x2="151.7" y2="487.33" stroke="#222" stroke-width="0.9" />
<polyline points="54.5,531.93 86.4,526.43 118.3,517.2 150.2,484.77" fill="none" stroke="#b0093a" stroke-width="1.15" stroke-linejoin="miter" />
<circle cx="54.5" cy="531.93" r="1.3" fill="#b0093a" />
<circle cx="86.4" cy="526.43" r="1.3" fill="#b0093a" />
<circle cx="118.3" cy="517.2" r="1.3" fill="#b0093a" />
<circle cx="150.2" cy="484.77" r="1.3" fill="#b0093a" />
<line x1="86.4" y1="520.93" x2="86.4" y2="523.29" stroke="#222" stroke-width="0.9" />
<line x1="84.9" y1="520.93" x2="87.9" y2="520.93" stroke="#222" stroke-width="0.9" />
<line x1="84.9" y1="523.29" x2="87.9" y2="523.29" stroke="#222" stroke-width="0.9" />
<line x1="118.3" y1="502.85" x2="118.3" y2="512.68" stroke="#222" stroke-width="0.9" />
<line x1="116.8" y1="502.85" x2="119.8" y2="502.85" stroke="#222" stroke-width="0.9" />
<line x1="116.8" y1="512.68" x2="119.8" y2="512.68" stroke="#222" stroke-width="0.9" />
<line x1="150.2" y1="452.94" x2="150.2" y2="464.34" stroke="#222" stroke-width="0.9" />
<line x1="148.7" y1="452.94" x2="151.7" y2="452.94" stroke="#222" stroke-width="0.9" />
<line x1="148.7" y1="464.34" x2="151.7" y2="464.34" stroke="#222" stroke-width="0.9" />
<polyline points="54.5,531.93 86.4,522.11 118.3,507.77 150.2,458.64" fill="none" stroke="#2c4b8a" stroke-width="1.15" stroke-linejoin="miter" />
<circle cx="54.5" cy="531.93" r="1.3" fill="#2c4b8a" />
<circle cx="86.4" cy="522.11" r="1.3" fill="#2c4b8a" />
<circle cx="118.3" cy="507.77" r="1.3" fill="#2c4b8a" />
<circle cx="150.2" cy="458.64" r="1.3" fill="#2c4b8a" />
<line x1="45" y1="442.5" x2="56" y2="442.5" stroke="#2c4b8a" stroke-width="1.25" />
<circle cx="50.5" cy="442.5" r="1.3" fill="#2c4b8a" />
<text x="59.3" y="445.24" font-size="7.6" fill="#262626" >DMSO</text>
<line x1="45" y1="454.3" x2="56" y2="454.3" stroke="#b0093a" stroke-width="1.25" />
<circle cx="50.5" cy="454.3" r="1.3" fill="#b0093a" />
<text x="59.3" y="457.04" font-size="7.6" fill="#262626" >THZ1 5 nM</text>
<line x1="45" y1="465.2" x2="56" y2="465.2" stroke="#5bb035" stroke-width="1.25" />
<circle cx="50.5" cy="465.2" r="1.3" fill="#5bb035" />
<text x="59.3" y="467.94" font-size="7.6" fill="#262626" >THZ1 10 nM</text>
<polyline points="153.6,458 157,458 157,485 153.6,485" fill="none" stroke="#333" stroke-width="1" stroke-linejoin="miter" />
<polyline points="165.5,458 169.2,458 169.2,498 165.5,498" fill="none" stroke="#333" stroke-width="1" stroke-linejoin="miter" />
<text x="160.6" y="476.3" font-size="8.6" fill="#222" text-anchor="middle" >**</text>
<text x="175.3" y="483" font-size="8.6" fill="#222" text-anchor="middle" >***</text>
<line x1="214.3" y1="432.5" x2="214.3" y2="534.4" stroke="#3a3a3a" stroke-width="1.3" />
<line x1="213.7" y1="533.9" x2="341.5" y2="533.9" stroke="#3a3a3a" stroke-width="1.3" />
<line x1="211.2" y1="533.9" x2="214.3" y2="533.9" stroke="#3a3a3a" stroke-width="1" />
<text x="208.1" y="536.55" font-size="8.2" fill="#262626" text-anchor="end" >0</text>
<line x1="211.2" y1="514.25" x2="214.3" y2="514.25" stroke="#3a3a3a" stroke-width="1" />
<text x="208.1" y="516.9" font-size="8.2" fill="#262626" text-anchor="end" >1</text>
<line x1="211.2" y1="494.6" x2="214.3" y2="494.6" stroke="#3a3a3a" stroke-width="1" />
<text x="208.1" y="497.25" font-size="8.2" fill="#262626" text-anchor="end" >2</text>
<line x1="211.2" y1="474.95" x2="214.3" y2="474.95" stroke="#3a3a3a" stroke-width="1" />
<text x="208.1" y="477.6" font-size="8.2" fill="#262626" text-anchor="end" >3</text>
<line x1="211.2" y1="455.3" x2="214.3" y2="455.3" stroke="#3a3a3a" stroke-width="1" />
<text x="208.1" y="457.95" font-size="8.2" fill="#262626" text-anchor="end" >4</text>
<line x1="211.2" y1="435.65" x2="214.3" y2="435.65" stroke="#3a3a3a" stroke-width="1" />
<text x="208.1" y="438.3" font-size="8.2" fill="#262626" text-anchor="end" >5</text>
<line x1="229.8" y1="533.9" x2="229.8" y2="536.3" stroke="#3a3a3a" stroke-width="1" />
<text x="229.8" y="547.25" font-size="8.2" fill="#262626" text-anchor="middle" >0</text>
<line x1="260.87" y1="533.9" x2="260.87" y2="536.3" stroke="#3a3a3a" stroke-width="1" />
<text x="260.87" y="547.25" font-size="8.2" fill="#262626" text-anchor="middle" >1</text>
<line x1="291.94" y1="533.9" x2="291.94" y2="536.3" stroke="#3a3a3a" stroke-width="1" />
<text x="291.94" y="547.25" font-size="8.2" fill="#262626" text-anchor="middle" >2</text>
<line x1="323.01" y1="533.9" x2="323.01" y2="536.3" stroke="#3a3a3a" stroke-width="1" />
<text x="323.01" y="547.25" font-size="8.2" fill="#262626" text-anchor="middle" >3</text>
<line x1="340.6" y1="533.9" x2="340.6" y2="536.3" stroke="#3a3a3a" stroke-width="1" />
<text x="277.8" y="560.53" font-size="9.8" fill="#262626" text-anchor="middle" textLength="16.6" lengthAdjust="spacingAndGlyphs" >Days</text>
<text transform="translate(199.5 483.5) rotate(-90)" x="0" y="0" font-size="9.8" fill="#262626" text-anchor="middle" textLength="80" lengthAdjust="spacingAndGlyphs" >Cell number (×10<tspan dy="-2.9" font-size="0.74em">6</tspan> cells)</text>
<text x="278" y="427.96" font-size="9.6" fill="#262626" text-anchor="middle" >Trib1 null</text>
<line x1="291.94" y1="516.22" x2="291.94" y2="524.07" stroke="#222" stroke-width="0.9" />
<line x1="290.44" y1="516.22" x2="293.44" y2="516.22" stroke="#222" stroke-width="0.9" />
<line x1="290.44" y1="524.07" x2="293.44" y2="524.07" stroke="#222" stroke-width="0.9" />
<line x1="323.01" y1="506.59" x2="323.01" y2="509.34" stroke="#222" stroke-width="0.9" />
<line x1="321.51" y1="506.59" x2="324.51" y2="506.59" stroke="#222" stroke-width="0.9" />
<line x1="321.51" y1="509.34" x2="324.51" y2="509.34" stroke="#222" stroke-width="0.9" />
<polyline points="229.8,531.93 260.87,528 291.94,520.14 323.01,507.96" fill="none" stroke="#5bb035" stroke-width="1.15" stroke-linejoin="miter" />
<circle cx="229.8" cy="531.93" r="1.3" fill="#5bb035" />
<circle cx="260.87" cy="528" r="1.3" fill="#5bb035" />
<circle cx="291.94" cy="520.14" r="1.3" fill="#5bb035" />
<circle cx="323.01" cy="507.96" r="1.3" fill="#5bb035" />
<line x1="291.94" y1="518.38" x2="291.94" y2="520.73" stroke="#222" stroke-width="0.9" />
<line x1="290.44" y1="518.38" x2="293.44" y2="518.38" stroke="#222" stroke-width="0.9" />
<line x1="290.44" y1="520.73" x2="293.44" y2="520.73" stroke="#222" stroke-width="0.9" />
<line x1="323.01" y1="504.82" x2="323.01" y2="507.96" stroke="#222" stroke-width="0.9" />
<line x1="321.51" y1="504.82" x2="324.51" y2="504.82" stroke="#222" stroke-width="0.9" />
<line x1="321.51" y1="507.96" x2="324.51" y2="507.96" stroke="#222" stroke-width="0.9" />
<polyline points="229.8,531.93 260.87,527.42 291.94,519.56 323.01,506.39" fill="none" stroke="#b0093a" stroke-width="1.15" stroke-linejoin="miter" />
<circle cx="229.8" cy="531.93" r="1.3" fill="#b0093a" />
<circle cx="260.87" cy="527.42" r="1.3" fill="#b0093a" />
<circle cx="291.94" cy="519.56" r="1.3" fill="#b0093a" />
<circle cx="323.01" cy="506.39" r="1.3" fill="#b0093a" />
<line x1="260.87" y1="523.68" x2="260.87" y2="525.25" stroke="#222" stroke-width="0.9" />
<line x1="259.37" y1="523.68" x2="262.37" y2="523.68" stroke="#222" stroke-width="0.9" />
<line x1="259.37" y1="525.25" x2="262.37" y2="525.25" stroke="#222" stroke-width="0.9" />
<line x1="291.94" y1="514.05" x2="291.94" y2="517.2" stroke="#222" stroke-width="0.9" />
<line x1="290.44" y1="514.05" x2="293.44" y2="514.05" stroke="#222" stroke-width="0.9" />
<line x1="290.44" y1="517.2" x2="293.44" y2="517.2" stroke="#222" stroke-width="0.9" />
<line x1="323.01" y1="493.81" x2="323.01" y2="501.28" stroke="#222" stroke-width="0.9" />
<line x1="321.51" y1="493.81" x2="324.51" y2="493.81" stroke="#222" stroke-width="0.9" />
<line x1="321.51" y1="501.28" x2="324.51" y2="501.28" stroke="#222" stroke-width="0.9" />
<polyline points="229.8,531.93 260.87,524.47 291.94,515.63 323.01,497.55" fill="none" stroke="#2c4b8a" stroke-width="1.15" stroke-linejoin="miter" />
<circle cx="229.8" cy="531.93" r="1.3" fill="#2c4b8a" />
<circle cx="260.87" cy="524.47" r="1.3" fill="#2c4b8a" />
<circle cx="291.94" cy="515.63" r="1.3" fill="#2c4b8a" />
<circle cx="323.01" cy="497.55" r="1.3" fill="#2c4b8a" />
<line x1="220.8" y1="443" x2="231.8" y2="443" stroke="#2c4b8a" stroke-width="1.25" />
<circle cx="226.3" cy="443" r="1.3" fill="#2c4b8a" />
<text x="235.1" y="445.74" font-size="7.6" fill="#262626" >DMSO</text>
<line x1="220.8" y1="454.3" x2="231.8" y2="454.3" stroke="#b0093a" stroke-width="1.25" />
<circle cx="226.3" cy="454.3" r="1.3" fill="#b0093a" />
<text x="235.1" y="457.04" font-size="7.6" fill="#262626" >THZ1 5 nM</text>
<line x1="220.8" y1="465.5" x2="231.8" y2="465.5" stroke="#5bb035" stroke-width="1.25" />
<circle cx="226.3" cy="465.5" r="1.3" fill="#5bb035" />
<text x="235.1" y="468.24" font-size="7.6" fill="#262626" >THZ1 10 nM</text>
<polyline points="325,497.5 328.8,497.5 328.8,506 325,506" fill="none" stroke="#333" stroke-width="1" stroke-linejoin="miter" />
<polyline points="335.4,497.5 339,497.5 339,507.5 335.4,507.5" fill="none" stroke="#333" stroke-width="1" stroke-linejoin="miter" />
<text x="332.3" y="507.4" font-size="8.6" fill="#222" text-anchor="middle" >*</text>
<text x="342.4" y="507.4" font-size="8.6" fill="#222" text-anchor="middle" >*</text>
<text x="352.35" y="418.79" font-size="12.2" fill="#111" font-weight="bold" >F</text>
<line x1="379.8" y1="438" x2="379.8" y2="534.6" stroke="#3a3a3a" stroke-width="1.3" />
<line x1="379.2" y1="534.1" x2="512" y2="534.1" stroke="#3a3a3a" stroke-width="1.3" />
<line x1="376.8" y1="534.1" x2="379.8" y2="534.1" stroke="#3a3a3a" stroke-width="1" />
<text x="374" y="536.98" font-size="8" fill="#262626" text-anchor="end" >0</text>
<line x1="376.8" y1="520.82" x2="379.8" y2="520.82" stroke="#3a3a3a" stroke-width="1" />
<text x="374" y="523.7" font-size="8" fill="#262626" text-anchor="end" >0.2</text>
<line x1="376.8" y1="507.54" x2="379.8" y2="507.54" stroke="#3a3a3a" stroke-width="1" />
<text x="374" y="510.42" font-size="8" fill="#262626" text-anchor="end" >0.4</text>
<line x1="376.8" y1="494.26" x2="379.8" y2="494.26" stroke="#3a3a3a" stroke-width="1" />
<text x="374" y="497.14" font-size="8" fill="#262626" text-anchor="end" >0.6</text>
<line x1="376.8" y1="480.98" x2="379.8" y2="480.98" stroke="#3a3a3a" stroke-width="1" />
<text x="374" y="483.86" font-size="8" fill="#262626" text-anchor="end" >0.8</text>
<line x1="376.8" y1="467.7" x2="379.8" y2="467.7" stroke="#3a3a3a" stroke-width="1" />
<text x="374" y="470.58" font-size="8" fill="#262626" text-anchor="end" >1</text>
<line x1="376.8" y1="454.42" x2="379.8" y2="454.42" stroke="#3a3a3a" stroke-width="1" />
<text x="374" y="457.3" font-size="8" fill="#262626" text-anchor="end" >1.2</text>
<line x1="376.8" y1="441.14" x2="379.8" y2="441.14" stroke="#3a3a3a" stroke-width="1" />
<text x="374" y="444.02" font-size="8" fill="#262626" text-anchor="end" >1.4</text>
<line x1="412.6" y1="534.1" x2="412.6" y2="536.5" stroke="#3a3a3a" stroke-width="1" />
<line x1="445.3" y1="534.1" x2="445.3" y2="536.5" stroke="#3a3a3a" stroke-width="1" />
<line x1="478" y1="534.1" x2="478" y2="536.5" stroke="#3a3a3a" stroke-width="1" />
<line x1="510.5" y1="534.1" x2="510.5" y2="536.5" stroke="#3a3a3a" stroke-width="1" />
<rect x="387.5" y="467.7" width="8.7" height="66.4" fill="#2b4a86" />
<line x1="387.5" y1="468.05" x2="396.2" y2="468.05" stroke="#0c2560" stroke-width="0.7" />
<line x1="391.85" y1="463.72" x2="391.85" y2="471.68" stroke="#1a1a1a" stroke-width="0.9" />
<line x1="390.55" y1="463.72" x2="393.15" y2="463.72" stroke="#1a1a1a" stroke-width="0.9" />
<line x1="390.55" y1="471.68" x2="393.15" y2="471.68" stroke="#1a1a1a" stroke-width="0.9" />
<rect x="396.2" y="458.4" width="8.7" height="75.7" fill="#ae0530" />
<line x1="396.2" y1="458.75" x2="404.9" y2="458.75" stroke="#80001c" stroke-width="0.7" />
<line x1="400.55" y1="452.43" x2="400.55" y2="464.38" stroke="#1a1a1a" stroke-width="0.9" />
<line x1="399.25" y1="452.43" x2="401.85" y2="452.43" stroke="#1a1a1a" stroke-width="0.9" />
<line x1="399.25" y1="464.38" x2="401.85" y2="464.38" stroke="#1a1a1a" stroke-width="0.9" />
<rect x="420.2" y="467.7" width="8.7" height="66.4" fill="#2b4a86" />
<line x1="420.2" y1="468.05" x2="428.9" y2="468.05" stroke="#0c2560" stroke-width="0.7" />
<line x1="424.55" y1="464.38" x2="424.55" y2="471.02" stroke="#1a1a1a" stroke-width="0.9" />
<line x1="423.25" y1="464.38" x2="425.85" y2="464.38" stroke="#1a1a1a" stroke-width="0.9" />
<line x1="423.25" y1="471.02" x2="425.85" y2="471.02" stroke="#1a1a1a" stroke-width="0.9" />
<rect x="428.9" y="472.35" width="8.7" height="61.75" fill="#ae0530" />
<line x1="428.9" y1="472.7" x2="437.6" y2="472.7" stroke="#80001c" stroke-width="0.7" />
<line x1="433.25" y1="468.36" x2="433.25" y2="476.33" stroke="#1a1a1a" stroke-width="0.9" />
<line x1="431.95" y1="468.36" x2="434.55" y2="468.36" stroke="#1a1a1a" stroke-width="0.9" />
<line x1="431.95" y1="476.33" x2="434.55" y2="476.33" stroke="#1a1a1a" stroke-width="0.9" />
<rect x="452.9" y="467.7" width="8.7" height="66.4" fill="#2b4a86" />
<line x1="452.9" y1="468.05" x2="461.6" y2="468.05" stroke="#0c2560" stroke-width="0.7" />
<line x1="457.25" y1="457.08" x2="457.25" y2="478.32" stroke="#1a1a1a" stroke-width="0.9" />
<line x1="455.95" y1="457.08" x2="458.55" y2="457.08" stroke="#1a1a1a" stroke-width="0.9" />
<line x1="455.95" y1="478.32" x2="458.55" y2="478.32" stroke="#1a1a1a" stroke-width="0.9" />
<rect x="461.6" y="459.73" width="8.7" height="74.37" fill="#ae0530" />
<line x1="461.6" y1="460.08" x2="470.3" y2="460.08" stroke="#80001c" stroke-width="0.7" />
<line x1="465.95" y1="456.41" x2="465.95" y2="463.05" stroke="#1a1a1a" stroke-width="0.9" />
<line x1="464.65" y1="456.41" x2="467.25" y2="456.41" stroke="#1a1a1a" stroke-width="0.9" />
<line x1="464.65" y1="463.05" x2="467.25" y2="463.05" stroke="#1a1a1a" stroke-width="0.9" />
<rect x="485.6" y="467.7" width="8.7" height="66.4" fill="#2b4a86" />
<line x1="485.6" y1="468.05" x2="494.3" y2="468.05" stroke="#0c2560" stroke-width="0.7" />
<line x1="489.95" y1="463.72" x2="489.95" y2="471.68" stroke="#1a1a1a" stroke-width="0.9" />
<line x1="488.65" y1="463.72" x2="491.25" y2="463.72" stroke="#1a1a1a" stroke-width="0.9" />
<line x1="488.65" y1="471.68" x2="491.25" y2="471.68" stroke="#1a1a1a" stroke-width="0.9" />
<rect x="494.3" y="461.06" width="8.7" height="73.04" fill="#ae0530" />
<line x1="494.3" y1="461.41" x2="503" y2="461.41" stroke="#80001c" stroke-width="0.7" />
<line x1="498.65" y1="459.73" x2="498.65" y2="462.39" stroke="#1a1a1a" stroke-width="0.9" />
<line x1="497.35" y1="459.73" x2="499.95" y2="459.73" stroke="#1a1a1a" stroke-width="0.9" />
<line x1="497.35" y1="462.39" x2="499.95" y2="462.39" stroke="#1a1a1a" stroke-width="0.9" />
<text transform="translate(358.1 487.4) rotate(-90)" x="0" y="0" font-size="9.6" fill="#262626" text-anchor="middle" textLength="65.5" lengthAdjust="spacingAndGlyphs" >Relative expression</text>
<text x="396.4" y="548.21" font-size="9.2" fill="#262626" text-anchor="middle" font-style="italic" textLength="12.5" lengthAdjust="spacingAndGlyphs" >Erg</text>
<text x="428.6" y="548.21" font-size="9.2" fill="#262626" text-anchor="middle" font-style="italic" textLength="21.6" lengthAdjust="spacingAndGlyphs" >Spns2</text>
<text x="461.1" y="548.21" font-size="9.2" fill="#262626" text-anchor="middle" font-style="italic" textLength="15.5" lengthAdjust="spacingAndGlyphs" >Rgl1</text>
<text x="494" y="548.21" font-size="9.2" fill="#262626" text-anchor="middle" font-style="italic" textLength="23.5" lengthAdjust="spacingAndGlyphs" >Pik3cd</text>
<rect x="403.4" y="428.8" width="4.4" height="4.4" fill="#2b4a86" />
<text x="411" y="433.74" font-size="7.6" fill="#262626" >DMSO</text>
<rect x="439.6" y="428.8" width="4.4" height="4.4" fill="#ae0530" />
<text x="447.6" y="433.74" font-size="7.6" fill="#262626" >THZ1 10 nM</text>
<text x="7.55" y="572.39" font-size="12.2" fill="#111" font-weight="bold" >G</text>
<text x="32.5" y="595.1" font-size="8.6" fill="#262626" textLength="33.5" lengthAdjust="spacingAndGlyphs" >Radiation</text>
<text x="66.3" y="586.9" font-size="8.6" fill="#262626" textLength="70" lengthAdjust="spacingAndGlyphs" >JQ1 (50 mg/kg) i.p.</text>
<text x="73.8" y="595.7" font-size="8.6" fill="#262626" textLength="56.3" lengthAdjust="spacingAndGlyphs" >5 days/week ×3</text>
<text x="50.6" y="615.4" font-size="8.6" fill="#262626" textLength="16" lengthAdjust="spacingAndGlyphs" >BMT</text>
<g fill="#1c1414"><circle cx="40.8" cy="618.3" r="6.4"/><ellipse cx="37.0" cy="611.2" rx="7.2" ry="4.6" transform="rotate(-22 37.0 611.2)"/><circle cx="42.6" cy="606.9" r="4.4"/></g>
<circle cx="35.9" cy="609.9" r="0.85" fill="#fff"/>
<path d="M46.6 619.2 C51.5 620.5 53.5 626.3 43.6 626.5" stroke="#1c1414" stroke-width="0.8" fill="none"/>
<polyline points="57.7,596.7 51.2,601.2 56.3,601.4 51.6,604.6" fill="none" stroke="#111" stroke-width="2.3" stroke-linejoin="miter" stroke-linecap="round"/>
<polyline points="55.6,598.4 51.9,601.0 55.6,601.5 53.0,603.5" fill="none" stroke="#f2c200" stroke-width="1.2" stroke-linejoin="miter"/>
<line x1="52.2" y1="604.2" x2="46.8" y2="608.7" stroke="#111" stroke-width="0.95" />
<line x1="54.6" y1="616.5" x2="170" y2="616.5" stroke="#222" stroke-width="1" />
<path d="M174.0 616.5 L168.0 614.0 L168.0 619.0 Z" fill="#222"/>
<line x1="154" y1="620" x2="156.8" y2="612.5" stroke="#222" stroke-width="0.9" />
<line x1="156.4" y1="620" x2="159.2" y2="612.5" stroke="#222" stroke-width="0.9" />
<line x1="58.5" y1="616.5" x2="58.5" y2="619" stroke="#222" stroke-width="0.9" />
<text x="58.5" y="629.92" font-size="8.4" fill="#262626" text-anchor="middle" >0</text>
<line x1="72.7" y1="616.5" x2="72.7" y2="619" stroke="#222" stroke-width="0.9" />
<text x="72.7" y="629.92" font-size="8.4" fill="#262626" text-anchor="middle" >1</text>
<line x1="87" y1="616.5" x2="87" y2="619" stroke="#222" stroke-width="0.9" />
<text x="87" y="629.92" font-size="8.4" fill="#262626" text-anchor="middle" >2</text>
<line x1="101.4" y1="616.5" x2="101.4" y2="619" stroke="#222" stroke-width="0.9" />
<text x="101.4" y="629.92" font-size="8.4" fill="#262626" text-anchor="middle" >3</text>
<line x1="115.8" y1="616.5" x2="115.8" y2="619" stroke="#222" stroke-width="0.9" />
<text x="115.8" y="629.92" font-size="8.4" fill="#262626" text-anchor="middle" >4</text>
<text x="118.75" y="630" font-size="8.6" fill="#262626" textLength="18.75" lengthAdjust="spacingAndGlyphs" >week</text>
<line x1="72.3" y1="604.2" x2="72.3" y2="613" stroke="#333" stroke-width="0.6" />
<path d="M71.5 612.4 L73.1 612.4 L72.3 614.6 Z" fill="#222"/>
<line x1="74.83" y1="604.2" x2="74.83" y2="613" stroke="#333" stroke-width="0.6" />
<path d="M74.03 612.4 L75.63 612.4 L74.83 614.6 Z" fill="#222"/>
<line x1="77.36" y1="604.2" x2="77.36" y2="613" stroke="#333" stroke-width="0.6" />
<path d="M76.56 612.4 L78.16 612.4 L77.36 614.6 Z" fill="#222"/>
<line x1="79.89" y1="604.2" x2="79.89" y2="613" stroke="#333" stroke-width="0.6" />
<path d="M79.09 612.4 L80.69 612.4 L79.89 614.6 Z" fill="#222"/>
<line x1="82.42" y1="604.2" x2="82.42" y2="613" stroke="#333" stroke-width="0.6" />
<path d="M81.62 612.4 L83.22 612.4 L82.42 614.6 Z" fill="#222"/>
<line x1="86.9" y1="604.2" x2="86.9" y2="613" stroke="#333" stroke-width="0.6" />
<path d="M86.1 612.4 L87.7 612.4 L86.9 614.6 Z" fill="#222"/>
<line x1="89.43" y1="604.2" x2="89.43" y2="613" stroke="#333" stroke-width="0.6" />
<path d="M88.63 612.4 L90.23 612.4 L89.43 614.6 Z" fill="#222"/>
<line x1="91.96" y1="604.2" x2="91.96" y2="613" stroke="#333" stroke-width="0.6" />
<path d="M91.16 612.4 L92.76 612.4 L91.96 614.6 Z" fill="#222"/>
<line x1="94.49" y1="604.2" x2="94.49" y2="613" stroke="#333" stroke-width="0.6" />
<path d="M93.69 612.4 L95.29 612.4 L94.49 614.6 Z" fill="#222"/>
<line x1="97.02" y1="604.2" x2="97.02" y2="613" stroke="#333" stroke-width="0.6" />
<path d="M96.22 612.4 L97.82 612.4 L97.02 614.6 Z" fill="#222"/>
<line x1="101.2" y1="604.2" x2="101.2" y2="613" stroke="#333" stroke-width="0.6" />
<path d="M100.4 612.4 L102 612.4 L101.2 614.6 Z" fill="#222"/>
<line x1="103.73" y1="604.2" x2="103.73" y2="613" stroke="#333" stroke-width="0.6" />
<path d="M102.93 612.4 L104.53 612.4 L103.73 614.6 Z" fill="#222"/>
<line x1="106.26" y1="604.2" x2="106.26" y2="613" stroke="#333" stroke-width="0.6" />
<path d="M105.46 612.4 L107.06 612.4 L106.26 614.6 Z" fill="#222"/>
<line x1="108.79" y1="604.2" x2="108.79" y2="613" stroke="#333" stroke-width="0.6" />
<path d="M107.99 612.4 L109.59 612.4 L108.79 614.6 Z" fill="#222"/>
<line x1="111.32" y1="604.2" x2="111.32" y2="613" stroke="#333" stroke-width="0.6" />
<path d="M110.52 612.4 L112.12 612.4 L111.32 614.6 Z" fill="#222"/>
<line x1="72.5" y1="634.2" x2="72.5" y2="642.8" stroke="#222" stroke-width="0.75" />
<path d="M71.6 634.6 L73.4 634.6 L72.5 632.0 Z" fill="#222"/>
<line x1="75.05" y1="634.2" x2="75.05" y2="642.8" stroke="#222" stroke-width="0.75" />
<path d="M74.15 634.6 L75.95 634.6 L75.05 632.0 Z" fill="#222"/>
<line x1="77.6" y1="634.2" x2="77.6" y2="642.8" stroke="#222" stroke-width="0.75" />
<path d="M76.7 634.6 L78.5 634.6 L77.6 632.0 Z" fill="#222"/>
<text x="63.8" y="651.9" font-size="8.6" fill="#262626" textLength="100.7" lengthAdjust="spacingAndGlyphs" >AraC (100 mg/kg) i.p., qdx3</text>
<line x1="75.5" y1="658.5" x2="75.5" y2="664.8" stroke="#222" stroke-width="0.75" />
<path d="M74.6 658.9 L76.4 658.9 L75.5 656.3 Z" fill="#222"/>
<text x="63.8" y="673.1" font-size="8.6" fill="#262626" textLength="85.7" lengthAdjust="spacingAndGlyphs" >DnR (1 mg/kg) i.v., qdx1</text>
<line x1="208.3" y1="574.5" x2="208.3" y2="666" stroke="#3a3a3a" stroke-width="1.3" />
<line x1="207.7" y1="665.5" x2="383" y2="665.5" stroke="#3a3a3a" stroke-width="1.3" />
<line x1="205.2" y1="665.5" x2="208.3" y2="665.5" stroke="#3a3a3a" stroke-width="1" />
<text x="201.6" y="668.04" font-size="7.9" fill="#262626" text-anchor="end" >0</text>
<line x1="205.2" y1="656.62" x2="208.3" y2="656.62" stroke="#3a3a3a" stroke-width="1" />
<text x="201.6" y="659.17" font-size="7.9" fill="#262626" text-anchor="end" >10</text>
<line x1="205.2" y1="647.75" x2="208.3" y2="647.75" stroke="#3a3a3a" stroke-width="1" />
<text x="201.6" y="650.29" font-size="7.9" fill="#262626" text-anchor="end" >20</text>
<line x1="205.2" y1="638.88" x2="208.3" y2="638.88" stroke="#3a3a3a" stroke-width="1" />
<text x="201.6" y="641.42" font-size="7.9" fill="#262626" text-anchor="end" >30</text>
<line x1="205.2" y1="630" x2="208.3" y2="630" stroke="#3a3a3a" stroke-width="1" />
<text x="201.6" y="632.54" font-size="7.9" fill="#262626" text-anchor="end" >40</text>
<line x1="205.2" y1="621.12" x2="208.3" y2="621.12" stroke="#3a3a3a" stroke-width="1" />
<text x="201.6" y="623.67" font-size="7.9" fill="#262626" text-anchor="end" >50</text>
<line x1="205.2" y1="612.25" x2="208.3" y2="612.25" stroke="#3a3a3a" stroke-width="1" />
<text x="201.6" y="614.79" font-size="7.9" fill="#262626" text-anchor="end" >60</text>
<line x1="205.2" y1="603.38" x2="208.3" y2="603.38" stroke="#3a3a3a" stroke-width="1" />
<text x="201.6" y="605.92" font-size="7.9" fill="#262626" text-anchor="end" >70</text>
<line x1="205.2" y1="594.5" x2="208.3" y2="594.5" stroke="#3a3a3a" stroke-width="1" />
<text x="201.6" y="597.04" font-size="7.9" fill="#262626" text-anchor="end" >80</text>
<line x1="205.2" y1="585.62" x2="208.3" y2="585.62" stroke="#3a3a3a" stroke-width="1" />
<text x="201.6" y="588.17" font-size="7.9" fill="#262626" text-anchor="end" >90</text>
<line x1="205.2" y1="576.75" x2="208.3" y2="576.75" stroke="#3a3a3a" stroke-width="1" />
<text x="201.6" y="579.29" font-size="7.9" fill="#262626" text-anchor="end" >100</text>
<line x1="208.3" y1="665.5" x2="208.3" y2="668.1" stroke="#3a3a3a" stroke-width="1" />
<text x="208.3" y="678.82" font-size="8.4" fill="#262626" text-anchor="middle" >0</text>
<line x1="251.43" y1="665.5" x2="251.43" y2="668.1" stroke="#3a3a3a" stroke-width="1" />
<text x="251.43" y="678.82" font-size="8.4" fill="#262626" text-anchor="middle" >50</text>
<line x1="294.55" y1="665.5" x2="294.55" y2="668.1" stroke="#3a3a3a" stroke-width="1" />
<text x="294.55" y="678.82" font-size="8.4" fill="#262626" text-anchor="middle" >100</text>
<line x1="337.68" y1="665.5" x2="337.68" y2="668.1" stroke="#3a3a3a" stroke-width="1" />
<text x="337.68" y="678.82" font-size="8.4" fill="#262626" text-anchor="middle" >150</text>
<line x1="380.8" y1="665.5" x2="380.8" y2="668.1" stroke="#3a3a3a" stroke-width="1" />
<text x="380.8" y="678.82" font-size="8.4" fill="#262626" text-anchor="middle" >200</text>
<text transform="translate(184.4 618.4) rotate(-90)" x="0" y="0" font-size="9.6" fill="#262626" text-anchor="middle" textLength="85.2" lengthAdjust="spacingAndGlyphs" >Leukemia-free survival (%)</text>
<text x="294.4" y="691.71" font-size="9.2" fill="#262626" text-anchor="middle" textLength="86" lengthAdjust="spacingAndGlyphs" >Days after transplantation</text>
<polyline points="208.3,576.3 329.2,576.3 329.2,576.3 329.2,576.3 329.2,586.2 341,586.2 341,586.2 341,586.2 341,606.1 372,606.1 372,606.1 372,606.1 372,616.4" fill="none" stroke="#f0a030" stroke-width="1.2" stroke-linejoin="miter" />
<polyline points="208.3,576.3 319.4,576.3 319.4,576.3 319.4,576.3 319.4,596.2 341,596.2 341,596.2 341,596.2 341,606.1 347.4,606.1 347.4,606.1 347.4,606.1 347.4,625.3 372.2,625.3 372.2,625.3" fill="none" stroke="#72b844" stroke-width="1.2" stroke-linejoin="miter" />
<polyline points="208.3,576.3 281.7,576.3 281.7,576.3 281.7,576.3 281.7,586.2 354.4,586.2 354.4,586.2 354.4,586.2 354.4,596.2 359.1,596.2 359.1,596.2 359.1,596.2 359.1,616.4 372.2,616.4 372.2,616.4" fill="none" stroke="#3a5ea8" stroke-width="1.2" stroke-linejoin="miter" />
<polyline points="271.8,576.3 271.8,576.3 271.8,586 279.5,586 279.5,586 279.5,586 279.5,596 286.2,596 286.2,596 286.2,596 286.2,605.9 328.4,605.9 328.4,605.9 328.4,605.9 328.4,616.6 332.4,616.6 332.4,616.6 332.4,616.6 332.4,625.8 338.7,625.8 338.7,625.8 338.7,625.8 338.7,635.5 347.5,635.5 347.5,635.5 347.5,635.5 347.5,645 358.3,645 358.3,645 358.3,645 358.3,655 372,655 372,655 372,655 372,665.5" fill="none" stroke="#c0163f" stroke-width="1.2" stroke-linejoin="miter" />
<line x1="220" y1="621.9" x2="231.3" y2="621.9" stroke="#c0163f" stroke-width="1.3" />
<text x="233.8" y="624.67" font-size="7.7" fill="#262626" >Control (n = 9)</text>
<line x1="220" y1="633.4" x2="231.3" y2="633.4" stroke="#f0a030" stroke-width="1.3" />
<text x="233.8" y="636.17" font-size="7.7" fill="#262626" >JQ1 + AraC/DnR (n = 8)</text>
<line x1="220" y1="644.4" x2="231.3" y2="644.4" stroke="#72b844" stroke-width="1.3" />
<text x="233.8" y="647.17" font-size="7.7" fill="#262626" >Arac, DnR (n = 9)</text>
<line x1="220" y1="655.2" x2="231.3" y2="655.2" stroke="#3a5ea8" stroke-width="1.3" />
<text x="233.8" y="657.97" font-size="7.7" fill="#262626" >JQ1 (n = 9)</text>
<text x="374.8" y="612.54" font-size="7.6" fill="#262626" >p = 0.00943</text>
<text x="374.8" y="620.34" font-size="7.6" fill="#262626" >p = 0.00233</text>
<text x="374.8" y="628.34" font-size="7.6" fill="#262626" >n.s</text></svg></body></html>
